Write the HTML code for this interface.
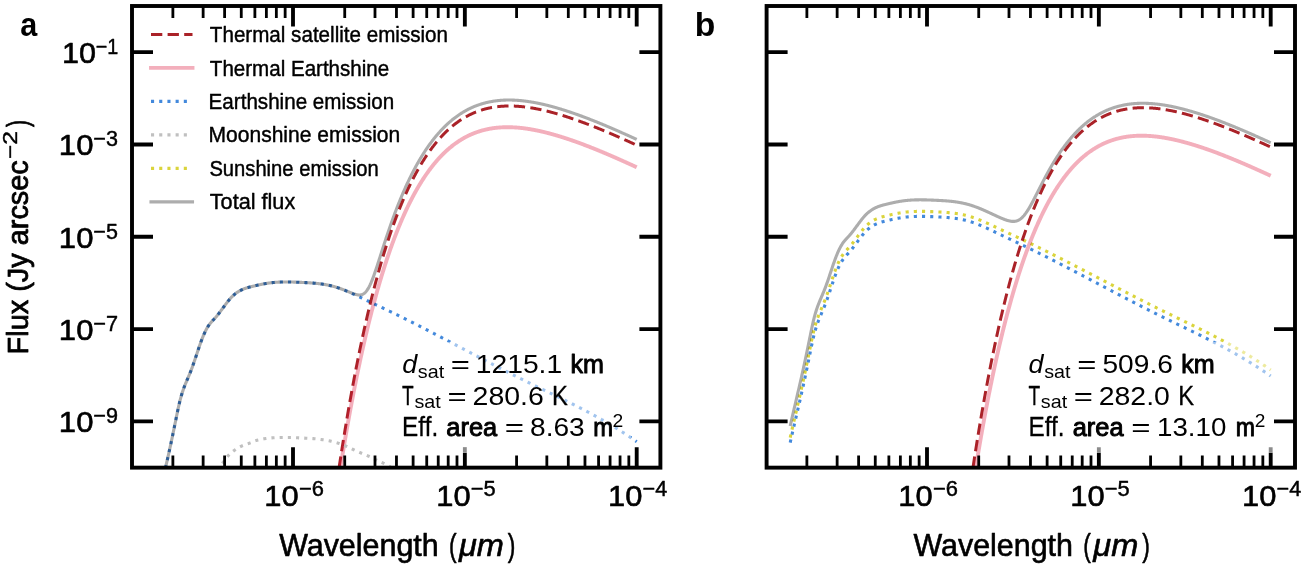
<!DOCTYPE html>
<html><head><meta charset="utf-8"><style>html,body{margin:0;padding:0;background:#fff;overflow:hidden}svg{display:block}</style></head><body>
<svg width="1304" height="564" viewBox="0 0 1304 564">
<rect width="100%" height="100%" fill="#fff"/>
<clipPath id="clipa"><rect x="132.00" y="6.00" width="528.40" height="461.65"/></clipPath>
<g clip-path="url(#clipa)" stroke-linecap="butt">
<path d="M156.21,508.15 L156.55,506.61 L156.89,505.09 L157.24,503.57 L157.58,502.05 L157.92,500.54 L158.27,499.04 L158.61,497.54 L158.96,496.05 L159.30,494.55 L159.64,493.07 L159.99,491.58 L160.33,490.10 L160.67,488.62 L161.02,487.15 L161.36,485.67 L161.70,484.19 L162.05,482.72 L162.39,481.25 L162.73,479.77 L163.08,478.30 L163.42,476.82 L163.76,475.34 L164.11,473.86 L164.45,472.38 L164.79,470.90 L165.14,469.41 L165.48,467.92 L165.82,466.42 L166.17,464.92 L166.51,463.42 L166.85,461.91 L167.20,460.39 L167.54,458.87 L167.88,457.34 L168.23,455.80 L168.57,454.26 L168.92,452.71 L169.26,451.15 L169.60,449.59 L169.95,448.01 L170.29,446.43 L170.63,444.83 L170.98,443.23 L171.32,441.61 L171.66,439.99 L172.01,438.36 L172.35,436.72 L172.69,435.07 L173.04,433.42 L173.38,431.76 L173.72,430.10 L174.07,428.43 L174.41,426.76 L174.75,425.08 L175.10,423.40 L175.44,421.72 L175.78,420.03 L176.13,418.35 L176.47,416.66 L176.81,414.98 L177.16,413.32 L177.50,411.66 L177.85,410.03 L178.19,408.42 L178.53,406.85 L178.88,405.31 L179.22,403.81 L179.56,402.36 L179.91,400.96 L180.25,399.61 L180.59,398.31 L180.94,397.06 L181.28,395.85 L181.62,394.69 L181.97,393.57 L182.31,392.49 L182.65,391.44 L183.00,390.43 L183.34,389.44 L183.68,388.49 L184.03,387.56 L184.37,386.65 L184.71,385.76 L185.06,384.89 L185.40,384.04 L185.74,383.19 L186.09,382.36 L186.43,381.54 L186.77,380.72 L187.12,379.91 L187.46,379.11 L187.81,378.30 L188.15,377.50 L188.49,376.69 L188.84,375.88 L189.18,375.07 L189.52,374.24 L189.87,373.41 L190.21,372.57 L190.55,371.72 L190.90,370.85 L191.24,369.96 L191.58,369.06 L191.93,368.15 L192.27,367.21 L192.61,366.26 L192.96,365.30 L193.30,364.33 L193.64,363.34 L193.99,362.34 L194.33,361.34 L194.67,360.33 L195.02,359.31 L195.36,358.29 L195.70,357.26 L196.05,356.23 L196.39,355.19 L196.74,354.16 L197.08,353.13 L197.42,352.09 L197.77,351.06 L198.11,350.04 L198.45,349.02 L198.80,348.01 L199.14,347.00 L199.48,346.00 L199.83,345.01 L200.17,344.04 L200.51,343.07 L200.86,342.12 L201.20,341.18 L201.54,340.26 L201.89,339.36 L202.23,338.47 L202.57,337.60 L202.92,336.76 L203.26,335.93 L203.60,335.12 L203.95,334.33 L204.29,333.56 L204.63,332.81 L204.98,332.08 L205.32,331.37 L205.66,330.68 L206.01,330.01 L206.35,329.36 L206.70,328.73 L207.04,328.12 L207.38,327.53 L207.73,326.97 L208.07,326.42 L208.41,325.89 L208.76,325.38 L209.10,324.89 L209.44,324.42 L209.79,323.96 L210.13,323.53 L210.47,323.10 L210.82,322.69 L211.16,322.28 L211.50,321.89 L211.85,321.51 L212.19,321.13 L212.53,320.76 L212.88,320.39 L213.22,320.02 L213.56,319.66 L213.91,319.30 L214.25,318.92 L214.59,318.55 L214.94,318.18 L215.28,317.80 L215.62,317.42 L215.97,317.03 L216.31,316.63 L216.66,316.22 L217.00,315.81 L217.34,315.39 L217.69,314.96 L218.03,314.53 L218.37,314.09 L218.72,313.65 L219.06,313.21 L219.40,312.76 L219.75,312.31 L220.09,311.85 L220.43,311.39 L220.78,310.93 L221.12,310.46 L221.46,310.00 L221.81,309.53 L222.15,309.06 L222.49,308.59 L222.84,308.12 L223.18,307.65 L223.52,307.18 L223.87,306.72 L224.21,306.25 L224.55,305.78 L224.90,305.32 L225.24,304.85 L225.59,304.39 L225.93,303.94 L226.27,303.48 L226.62,303.03 L226.96,302.59 L227.30,302.14 L227.65,301.71 L227.99,301.28 L228.33,300.85 L228.68,300.43 L229.02,300.01 L229.36,299.60 L229.71,299.20 L230.05,298.81 L230.39,298.42 L230.74,298.04 L231.08,297.67 L231.42,297.31 L231.77,296.95 L232.11,296.61 L232.45,296.27 L232.80,295.94 L233.14,295.62 L233.48,295.31 L233.83,295.00 L234.17,294.71 L234.51,294.42 L234.86,294.13 L235.20,293.86 L235.55,293.59 L235.89,293.33 L236.23,293.07 L236.58,292.82 L236.92,292.58 L237.26,292.35 L237.61,292.12 L237.95,291.90 L238.29,291.68 L238.64,291.47 L238.98,291.27 L239.32,291.07 L239.67,290.87 L240.01,290.69 L240.35,290.50 L240.70,290.32 L241.04,290.15 L241.38,289.98 L241.73,289.82 L242.07,289.66 L242.41,289.51 L242.76,289.36 L243.10,289.21 L243.44,289.07 L243.79,288.93 L244.13,288.80 L244.48,288.67 L244.82,288.54 L245.16,288.42 L245.51,288.30 L245.85,288.18 L246.19,288.07 L246.54,287.96 L246.88,287.85 L247.22,287.74 L247.57,287.64 L247.91,287.54 L248.25,287.44 L248.60,287.34 L248.94,287.25 L249.28,287.16 L249.63,287.07 L249.97,286.98 L250.31,286.89 L250.66,286.80 L251.00,286.72 L251.34,286.63 L251.69,286.55 L252.03,286.47 L252.37,286.38 L252.72,286.30 L253.06,286.22 L253.40,286.14 L253.75,286.06 L254.09,285.98 L254.44,285.90 L254.78,285.82 L255.12,285.74 L255.47,285.66 L255.81,285.58 L256.15,285.50 L256.50,285.42 L256.84,285.34 L257.18,285.26 L257.53,285.19 L257.87,285.11 L258.21,285.03 L258.56,284.96 L258.90,284.88 L259.24,284.81 L259.59,284.73 L259.93,284.66 L260.27,284.59 L260.62,284.51 L260.96,284.44 L261.30,284.37 L261.65,284.30 L261.99,284.23 L262.33,284.16 L262.68,284.09 L263.02,284.03 L263.37,283.96 L263.71,283.90 L264.05,283.83 L264.40,283.77 L264.74,283.71 L265.08,283.65 L265.43,283.59 L265.77,283.53 L266.11,283.47 L266.46,283.41 L266.80,283.35 L267.14,283.30 L267.49,283.25 L267.83,283.19 L268.17,283.14 L268.52,283.09 L268.86,283.04 L269.20,283.00 L269.55,282.95 L269.89,282.91 L270.23,282.86 L270.58,282.82 L270.92,282.78 L271.26,282.74 L271.61,282.70 L271.95,282.66 L272.29,282.63 L272.64,282.59 L272.98,282.56 L273.33,282.52 L273.67,282.49 L274.01,282.46 L274.36,282.43 L274.70,282.40 L275.04,282.37 L275.39,282.35 L275.73,282.32 L276.07,282.30 L276.42,282.27 L276.76,282.25 L277.10,282.23 L277.45,282.21 L277.79,282.19 L278.13,282.17 L278.48,282.15 L278.82,282.13 L279.16,282.12 L279.51,282.10 L279.85,282.09 L280.19,282.07 L280.54,282.06 L280.88,282.05 L281.22,282.04 L281.57,282.03 L281.91,282.02 L282.26,282.01 L282.60,282.00 L282.94,281.99 L283.29,281.99 L283.63,281.98 L283.97,281.98 L284.32,281.97 L284.66,281.97 L285.00,281.97 L285.35,281.96 L285.69,281.96 L286.03,281.96 L286.38,281.96 L286.72,281.96 L287.06,281.96 L287.41,281.97 L287.75,281.97 L288.09,281.97 L288.44,281.97 L288.78,281.98 L289.12,281.98 L289.47,281.99 L289.81,281.99 L290.15,282.00 L290.50,282.01 L290.84,282.01 L291.18,282.02 L291.53,282.03 L291.87,282.04 L292.22,282.05 L292.56,282.06 L292.90,282.06 L293.25,282.07 L293.59,282.09 L293.93,282.10 L294.28,282.11 L294.62,282.12 L294.96,282.13 L295.31,282.14 L295.65,282.16 L295.99,282.17 L296.34,282.18 L296.68,282.20 L297.02,282.21 L297.37,282.22 L297.71,282.24 L298.05,282.25 L298.40,282.27 L298.74,282.28 L299.08,282.30 L299.43,282.31 L299.77,282.33 L300.11,282.34 L300.46,282.36 L300.80,282.37 L301.15,282.39 L301.49,282.40 L301.83,282.42 L302.18,282.44 L302.52,282.45 L302.86,282.47 L303.21,282.49 L303.55,282.50 L303.89,282.52 L304.24,282.54 L304.58,282.55 L304.92,282.57 L305.27,282.59 L305.61,282.61 L305.95,282.62 L306.30,282.64 L306.64,282.66 L306.98,282.68 L307.33,282.70 L307.67,282.72 L308.01,282.74 L308.36,282.76 L308.70,282.78 L309.04,282.80 L309.39,282.82 L309.73,282.85 L310.07,282.87 L310.42,282.89 L310.76,282.92 L311.11,282.94 L311.45,282.96 L311.79,282.99 L312.14,283.01 L312.48,283.04 L312.82,283.07 L313.17,283.10 L313.51,283.12 L313.85,283.15 L314.20,283.18 L314.54,283.21 L314.88,283.24 L315.23,283.27 L315.57,283.31 L315.91,283.34 L316.26,283.37 L316.60,283.41 L316.94,283.44 L317.29,283.48 L317.63,283.52 L317.97,283.55 L318.32,283.59 L318.66,283.63 L319.00,283.67 L319.35,283.71 L319.69,283.76 L320.04,283.80 L320.38,283.84 L320.72,283.89 L321.07,283.94 L321.41,283.98 L321.75,284.03 L322.10,284.08 L322.44,284.13 L322.78,284.18 L323.13,284.23 L323.47,284.29 L323.81,284.34 L324.16,284.40 L324.50,284.45 L324.84,284.51 L325.19,284.57 L325.53,284.63 L325.87,284.69 L326.22,284.76 L326.56,284.82 L326.90,284.89 L327.25,284.95 L327.59,285.02 L327.93,285.09 L328.28,285.16 L328.62,285.23 L328.96,285.31 L329.31,285.38 L329.65,285.46 L330.00,285.54 L330.34,285.61 L330.68,285.70 L331.03,285.78 L331.37,285.86 L331.71,285.95 L332.06,286.03 L332.40,286.12 L332.74,286.21 L333.09,286.30 L333.43,286.39 L333.77,286.49 L334.12,286.58 L334.46,286.68 L334.80,286.78 L335.15,286.88 L335.49,286.98 L335.83,287.09 L336.18,287.19 L336.52,287.30 L336.86,287.41 L337.21,287.52 L337.55,287.63 L337.89,287.74 L338.24,287.86 L338.58,287.97 L338.93,288.09 L339.27,288.21 L339.61,288.33 L339.96,288.45 L340.30,288.57 L340.64,288.69 L340.99,288.82 L341.33,288.94 L341.67,289.07 L342.02,289.20 L342.36,289.33 L342.70,289.46 L343.05,289.59 L343.39,289.72 L343.73,289.85 L344.08,289.98 L344.42,290.12 L344.76,290.25 L345.11,290.39 L345.45,290.53 L345.79,290.66 L346.14,290.80 L346.48,290.94 L346.82,291.08 L347.17,291.22 L347.51,291.36 L347.85,291.50 L348.20,291.64 L348.54,291.78 L348.89,291.91 L349.23,292.05 L349.57,292.19 L349.92,292.33 L350.26,292.47 L350.60,292.60 L350.95,292.74 L351.29,292.87 L351.63,293.01 L351.98,293.14 L352.32,293.27 L352.66,293.40 L353.01,293.52 L353.35,293.65 L353.69,293.77 L354.04,293.88 L354.38,294.00 L354.72,294.11 L355.07,294.21 L355.41,294.31 L355.75,294.41 L356.10,294.50 L356.44,294.59 L356.78,294.66 L357.13,294.73 L357.47,294.80 L357.82,294.85 L358.16,294.90 L358.50,294.93 L358.85,294.96 L359.19,294.97 L359.53,294.97 L359.88,294.96 L360.22,294.94 L360.56,294.90 L360.91,294.85 L361.25,294.77 L361.59,294.69 L361.94,294.58 L362.28,294.45 L362.62,294.31 L362.97,294.14 L363.31,293.95 L363.65,293.74 L364.00,293.51 L364.34,293.25 L364.68,292.96 L365.03,292.65 L365.37,292.31 L365.71,291.95 L366.06,291.55 L366.40,291.13 L366.74,290.68 L367.09,290.21 L367.43,289.70 L367.78,289.17 L368.12,288.60 L368.46,288.01 L368.81,287.39 L369.15,286.75 L369.49,286.08 L369.84,285.38 L370.18,284.65 L370.52,283.90 L370.87,283.13 L371.21,282.33 L371.55,281.51 L371.90,280.67 L372.24,279.81 L372.58,278.93 L372.93,278.03 L373.27,277.11 L373.61,276.18 L373.96,275.23 L374.30,274.27 L374.64,273.30 L374.99,272.31 L375.33,271.31 L375.67,270.30 L376.02,269.28 L376.36,268.26 L376.71,267.22 L377.05,266.18 L377.39,265.14 L377.74,264.08 L378.08,263.03 L378.42,261.97 L378.77,260.90 L379.11,259.84 L379.45,258.77 L379.80,257.70 L380.14,256.63 L380.48,255.55 L380.83,254.48 L381.17,253.41 L381.51,252.34 L381.86,251.27 L382.20,250.20 L382.54,249.13 L382.89,248.06 L383.23,247.00 L383.57,245.94 L383.92,244.88 L384.26,243.82 L384.60,242.77 L384.95,241.72 L385.29,240.68 L385.63,239.63 L385.98,238.59 L386.32,237.56 L386.67,236.53 L387.01,235.50 L387.35,234.48 L387.70,233.46 L388.04,232.45 L388.38,231.44 L388.73,230.43 L389.07,229.43 L389.41,228.44 L389.76,227.45 L390.10,226.46 L390.44,225.48 L390.79,224.50 L391.13,223.53 L391.47,222.56 L391.82,221.60 L392.16,220.65 L392.50,219.69 L392.85,218.75 L393.19,217.81 L393.53,216.87 L393.88,215.94 L394.22,215.01 L394.56,214.09 L394.91,213.17 L395.25,212.26 L395.60,211.36 L395.94,210.46 L396.28,209.56 L396.63,208.67 L396.97,207.78 L397.31,206.90 L397.66,206.03 L398.00,205.16 L398.34,204.29 L398.69,203.43 L399.03,202.57 L399.37,201.72 L399.72,200.88 L400.06,200.04 L400.40,199.20 L400.75,198.37 L401.09,197.55 L401.43,196.72 L401.78,195.91 L402.12,195.10 L402.46,194.29 L402.81,193.49 L403.15,192.69 L403.49,191.90 L403.84,191.12 L404.18,190.33 L404.52,189.56 L404.87,188.78 L405.21,188.02 L405.56,187.25 L405.90,186.49 L406.24,185.74 L406.59,184.99 L406.93,184.25 L407.27,183.51 L407.62,182.77 L407.96,182.04 L408.30,181.32 L408.65,180.60 L408.99,179.88 L409.33,179.17 L409.68,178.46 L410.02,177.76 L410.36,177.06 L410.71,176.36 L411.05,175.67 L411.39,174.99 L411.74,174.31 L412.08,173.63 L412.42,172.96 L412.77,172.29 L413.11,171.62 L413.45,170.96 L413.80,170.31 L414.14,169.66 L414.49,169.01 L414.83,168.37 L415.17,167.73 L415.52,167.10 L415.86,166.47 L416.20,165.84 L416.55,165.22 L416.89,164.60 L417.23,163.99 L417.58,163.38 L417.92,162.77 L418.26,162.17 L418.61,161.57 L418.95,160.98 L419.29,160.39 L419.64,159.81 L419.98,159.22 L420.32,158.65 L420.67,158.07 L421.01,157.50 L421.35,156.94 L421.70,156.38 L422.04,155.82 L422.38,155.26 L422.73,154.71 L423.07,154.17 L423.41,153.62 L423.76,153.08 L424.10,152.55 L424.45,152.02 L424.79,151.49 L425.13,150.96 L425.48,150.44 L425.82,149.93 L426.16,149.41 L426.51,148.90 L426.85,148.40 L427.19,147.89 L427.54,147.39 L427.88,146.90 L428.22,146.41 L428.57,145.92 L428.91,145.43 L429.25,144.95 L429.60,144.47 L429.94,144.00 L430.28,143.53 L430.63,143.06 L430.97,142.59 L431.31,142.13 L431.66,141.68 L432.00,141.22 L432.34,140.77 L432.69,140.32 L433.03,139.88 L433.38,139.44 L433.72,139.00 L434.06,138.57 L434.41,138.13 L434.75,137.71 L435.09,137.28 L435.44,136.86 L435.78,136.44 L436.12,136.03 L436.47,135.61 L436.81,135.21 L437.15,134.80 L437.50,134.40 L437.84,134.00 L438.18,133.60 L438.53,133.21 L438.87,132.82 L439.21,132.43 L439.56,132.05 L439.90,131.66 L440.24,131.29 L440.59,130.91 L440.93,130.54 L441.27,130.17 L441.62,129.80 L441.96,129.44 L442.30,129.08 L442.65,128.72 L442.99,128.37 L443.34,128.01 L443.68,127.67 L444.02,127.32 L444.37,126.98 L444.71,126.64 L445.05,126.30 L445.40,125.96 L445.74,125.63 L446.08,125.30 L446.43,124.97 L446.77,124.65 L447.11,124.33 L447.46,124.01 L447.80,123.70 L448.14,123.38 L448.49,123.07 L448.83,122.76 L449.17,122.46 L449.52,122.16 L449.86,121.86 L450.20,121.56 L450.55,121.27 L450.89,120.97 L451.23,120.68 L451.58,120.40 L451.92,120.11 L452.27,119.83 L452.61,119.55 L452.95,119.28 L453.30,119.00 L453.64,118.73 L453.98,118.46 L454.33,118.19 L454.67,117.93 L455.01,117.67 L455.36,117.41 L455.70,117.15 L456.04,116.90 L456.39,116.64 L456.73,116.39 L457.07,116.15 L457.42,115.90 L457.76,115.66 L458.10,115.42 L458.45,115.18 L458.79,114.94 L459.13,114.71 L459.48,114.48 L459.82,114.25 L460.16,114.02 L460.51,113.80 L460.85,113.58 L461.19,113.36 L461.54,113.14 L461.88,112.92 L462.23,112.71 L462.57,112.50 L462.91,112.29 L463.26,112.08 L463.60,111.88 L463.94,111.68 L464.29,111.47 L464.63,111.28 L464.97,111.08 L465.32,110.89 L465.66,110.69 L466.00,110.50 L466.35,110.32 L466.69,110.13 L467.03,109.95 L467.38,109.77 L467.72,109.59 L468.06,109.41 L468.41,109.23 L468.75,109.06 L469.09,108.89 L469.44,108.72 L469.78,108.55 L470.12,108.38 L470.47,108.22 L470.81,108.06 L471.16,107.90 L471.50,107.74 L471.84,107.58 L472.19,107.43 L472.53,107.28 L472.87,107.13 L473.22,106.98 L473.56,106.83 L473.90,106.69 L474.25,106.54 L474.59,106.40 L474.93,106.26 L475.28,106.13 L475.62,105.99 L475.96,105.86 L476.31,105.72 L476.65,105.59 L476.99,105.46 L477.34,105.34 L477.68,105.21 L478.02,105.09 L478.37,104.97 L478.71,104.85 L479.05,104.73 L479.40,104.61 L479.74,104.50 L480.08,104.38 L480.43,104.27 L480.77,104.16 L481.12,104.05 L481.46,103.95 L481.80,103.84 L482.15,103.74 L482.49,103.64 L482.83,103.54 L483.18,103.44 L483.52,103.34 L483.86,103.25 L484.21,103.15 L484.55,103.06 L484.89,102.97 L485.24,102.88 L485.58,102.79 L485.92,102.71 L486.27,102.62 L486.61,102.54 L486.95,102.46 L487.30,102.38 L487.64,102.30 L487.98,102.22 L488.33,102.15 L488.67,102.07 L489.01,102.00 L489.36,101.93 L489.70,101.86 L490.05,101.79 L490.39,101.72 L490.73,101.66 L491.08,101.60 L491.42,101.53 L491.76,101.47 L492.11,101.41 L492.45,101.35 L492.79,101.30 L493.14,101.24 L493.48,101.19 L493.82,101.13 L494.17,101.08 L494.51,101.03 L494.85,100.98 L495.20,100.93 L495.54,100.89 L495.88,100.84 L496.23,100.80 L496.57,100.76 L496.91,100.72 L497.26,100.68 L497.60,100.64 L497.94,100.60 L498.29,100.56 L498.63,100.53 L498.97,100.49 L499.32,100.46 L499.66,100.43 L500.01,100.40 L500.35,100.37 L500.69,100.35 L501.04,100.32 L501.38,100.29 L501.72,100.27 L502.07,100.25 L502.41,100.23 L502.75,100.20 L503.10,100.19 L503.44,100.17 L503.78,100.15 L504.13,100.13 L504.47,100.12 L504.81,100.11 L505.16,100.09 L505.50,100.08 L505.84,100.07 L506.19,100.06 L506.53,100.06 L506.87,100.05 L507.22,100.04 L507.56,100.04 L507.90,100.03 L508.25,100.03 L508.59,100.03 L508.93,100.03 L509.28,100.03 L509.62,100.03 L509.97,100.03 L510.31,100.04 L510.65,100.04 L511.00,100.05 L511.34,100.05 L511.68,100.06 L512.03,100.07 L512.37,100.08 L512.71,100.09 L513.06,100.10 L513.40,100.12 L513.74,100.13 L514.09,100.14 L514.43,100.16 L514.77,100.18 L515.12,100.19 L515.46,100.21 L515.80,100.23 L516.15,100.25 L516.49,100.27 L516.83,100.29 L517.18,100.32 L517.52,100.34 L517.86,100.37 L518.21,100.39 L518.55,100.42 L518.90,100.44 L519.24,100.47 L519.58,100.50 L519.93,100.53 L520.27,100.56 L520.61,100.60 L520.96,100.63 L521.30,100.66 L521.64,100.70 L521.99,100.73 L522.33,100.77 L522.67,100.80 L523.02,100.84 L523.36,100.88 L523.70,100.92 L524.05,100.96 L524.39,101.00 L524.73,101.04 L525.08,101.09 L525.42,101.13 L525.76,101.17 L526.11,101.22 L526.45,101.26 L526.79,101.31 L527.14,101.36 L527.48,101.41 L527.82,101.45 L528.17,101.50 L528.51,101.55 L528.86,101.61 L529.20,101.66 L529.54,101.71 L529.89,101.76 L530.23,101.82 L530.57,101.87 L530.92,101.93 L531.26,101.98 L531.60,102.04 L531.95,102.10 L532.29,102.16 L532.63,102.22 L532.98,102.27 L533.32,102.34 L533.66,102.40 L534.01,102.46 L534.35,102.52 L534.69,102.58 L535.04,102.65 L535.38,102.71 L535.72,102.78 L536.07,102.84 L536.41,102.91 L536.75,102.98 L537.10,103.04 L537.44,103.11 L537.79,103.18 L538.13,103.25 L538.47,103.32 L538.82,103.39 L539.16,103.46 L539.50,103.54 L539.85,103.61 L540.19,103.68 L540.53,103.76 L540.88,103.83 L541.22,103.91 L541.56,103.98 L541.91,104.06 L542.25,104.14 L542.59,104.21 L542.94,104.29 L543.28,104.37 L543.62,104.45 L543.97,104.53 L544.31,104.61 L544.65,104.69 L545.00,104.77 L545.34,104.86 L545.68,104.94 L546.03,105.02 L546.37,105.11 L546.71,105.19 L547.06,105.28 L547.40,105.36 L547.75,105.45 L548.09,105.54 L548.43,105.62 L548.78,105.71 L549.12,105.80 L549.46,105.89 L549.81,105.98 L550.15,106.07 L550.49,106.16 L550.84,106.25 L551.18,106.34 L551.52,106.43 L551.87,106.52 L552.21,106.62 L552.55,106.71 L552.90,106.80 L553.24,106.90 L553.58,106.99 L553.93,107.09 L554.27,107.18 L554.61,107.28 L554.96,107.38 L555.30,107.47 L555.64,107.57 L555.99,107.67 L556.33,107.77 L556.68,107.87 L557.02,107.97 L557.36,108.07 L557.71,108.17 L558.05,108.27 L558.39,108.37 L558.74,108.47 L559.08,108.58 L559.42,108.68 L559.77,108.78 L560.11,108.88 L560.45,108.99 L560.80,109.09 L561.14,109.20 L561.48,109.30 L561.83,109.41 L562.17,109.52 L562.51,109.62 L562.86,109.73 L563.20,109.84 L563.54,109.94 L563.89,110.05 L564.23,110.16 L564.57,110.27 L564.92,110.38 L565.26,110.49 L565.60,110.60 L565.95,110.71 L566.29,110.82 L566.64,110.93 L566.98,111.05 L567.32,111.16 L567.67,111.27 L568.01,111.38 L568.35,111.50 L568.70,111.61 L569.04,111.73 L569.38,111.84 L569.73,111.96 L570.07,112.07 L570.41,112.19 L570.76,112.30 L571.10,112.42 L571.44,112.54 L571.79,112.65 L572.13,112.77 L572.47,112.89 L572.82,113.01 L573.16,113.12 L573.50,113.24 L573.85,113.36 L574.19,113.48 L574.53,113.60 L574.88,113.72 L575.22,113.84 L575.57,113.96 L575.91,114.09 L576.25,114.21 L576.60,114.33 L576.94,114.45 L577.28,114.57 L577.63,114.70 L577.97,114.82 L578.31,114.94 L578.66,115.07 L579.00,115.19 L579.34,115.32 L579.69,115.44 L580.03,115.57 L580.37,115.69 L580.72,115.82 L581.06,115.94 L581.40,116.07 L581.75,116.20 L582.09,116.32 L582.43,116.45 L582.78,116.58 L583.12,116.71 L583.46,116.84 L583.81,116.96 L584.15,117.09 L584.49,117.22 L584.84,117.35 L585.18,117.48 L585.53,117.61 L585.87,117.74 L586.21,117.87 L586.56,118.00 L586.90,118.13 L587.24,118.26 L587.59,118.40 L587.93,118.53 L588.27,118.66 L588.62,118.79 L588.96,118.93 L589.30,119.06 L589.65,119.19 L589.99,119.33 L590.33,119.46 L590.68,119.59 L591.02,119.73 L591.36,119.86 L591.71,120.00 L592.05,120.13 L592.39,120.27 L592.74,120.40 L593.08,120.54 L593.42,120.67 L593.77,120.81 L594.11,120.95 L594.46,121.08 L594.80,121.22 L595.14,121.36 L595.49,121.50 L595.83,121.63 L596.17,121.77 L596.52,121.91 L596.86,122.05 L597.20,122.19 L597.55,122.33 L597.89,122.47 L598.23,122.61 L598.58,122.75 L598.92,122.89 L599.26,123.03 L599.61,123.17 L599.95,123.31 L600.29,123.45 L600.64,123.59 L600.98,123.73 L601.32,123.87 L601.67,124.01 L602.01,124.16 L602.35,124.30 L602.70,124.44 L603.04,124.58 L603.38,124.73 L603.73,124.87 L604.07,125.01 L604.42,125.16 L604.76,125.30 L605.10,125.44 L605.45,125.59 L605.79,125.73 L606.13,125.88 L606.48,126.02 L606.82,126.17 L607.16,126.31 L607.51,126.46 L607.85,126.60 L608.19,126.75 L608.54,126.89 L608.88,127.04 L609.22,127.19 L609.57,127.33 L609.91,127.48 L610.25,127.63 L610.60,127.77 L610.94,127.92 L611.28,128.07 L611.63,128.21 L611.97,128.36 L612.31,128.51 L612.66,128.66 L613.00,128.81 L613.35,128.96 L613.69,129.10 L614.03,129.25 L614.38,129.40 L614.72,129.55 L615.06,129.70 L615.41,129.85 L615.75,130.00 L616.09,130.15 L616.44,130.30 L616.78,130.45 L617.12,130.60 L617.47,130.75 L617.81,130.90 L618.15,131.05 L618.50,131.20 L618.84,131.36 L619.18,131.51 L619.53,131.66 L619.87,131.81 L620.21,131.96 L620.56,132.12 L620.90,132.27 L621.24,132.42 L621.59,132.57 L621.93,132.73 L622.27,132.88 L622.62,133.03 L622.96,133.19 L623.31,133.34 L623.65,133.49 L623.99,133.65 L624.34,133.80 L624.68,133.95 L625.02,134.11 L625.37,134.26 L625.71,134.42 L626.05,134.57 L626.40,134.73 L626.74,134.88 L627.08,135.04 L627.43,135.19 L627.77,135.35 L628.11,135.50 L628.46,135.66 L628.80,135.81 L629.14,135.97 L629.49,136.13 L629.83,136.28 L630.17,136.44 L630.52,136.60 L630.86,136.75 L631.20,136.91 L631.55,137.07 L631.89,137.22 L632.24,137.38 L632.58,137.54 L632.92,137.69 L633.27,137.85 L633.61,138.01 L633.95,138.17 L634.30,138.33 L634.64,138.48 L634.98,138.64 L635.33,138.80 L635.67,138.96 L636.01,139.12 L636.36,139.28 L636.70,139.44" stroke="#ADADAD" stroke-width="3.1" fill="none" stroke-linejoin="round"/>
<path d="M156.21,600.00 L156.55,600.00 L156.89,600.00 L157.24,600.00 L157.58,600.00 L157.92,600.00 L158.27,600.00 L158.61,600.00 L158.96,600.00 L159.30,600.00 L159.64,600.00 L159.99,600.00 L160.33,600.00 L160.67,600.00 L161.02,600.00 L161.36,600.00 L161.70,600.00 L162.05,600.00 L162.39,600.00 L162.73,600.00 L163.08,600.00 L163.42,600.00 L163.76,600.00 L164.11,600.00 L164.45,600.00 L164.79,600.00 L165.14,600.00 L165.48,600.00 L165.82,600.00 L166.17,600.00 L166.51,600.00 L166.85,600.00 L167.20,600.00 L167.54,600.00 L167.88,600.00 L168.23,600.00 L168.57,600.00 L168.92,600.00 L169.26,600.00 L169.60,600.00 L169.95,600.00 L170.29,600.00 L170.63,600.00 L170.98,600.00 L171.32,600.00 L171.66,600.00 L172.01,600.00 L172.35,600.00 L172.69,600.00 L173.04,600.00 L173.38,600.00 L173.72,600.00 L174.07,600.00 L174.41,600.00 L174.75,600.00 L175.10,600.00 L175.44,600.00 L175.78,600.00 L176.13,600.00 L176.47,600.00 L176.81,600.00 L177.16,600.00 L177.50,600.00 L177.85,600.00 L178.19,600.00 L178.53,600.00 L178.88,600.00 L179.22,600.00 L179.56,600.00 L179.91,600.00 L180.25,600.00 L180.59,600.00 L180.94,600.00 L181.28,600.00 L181.62,600.00 L181.97,600.00 L182.31,600.00 L182.65,600.00 L183.00,600.00 L183.34,600.00 L183.68,600.00 L184.03,600.00 L184.37,600.00 L184.71,600.00 L185.06,600.00 L185.40,600.00 L185.74,600.00 L186.09,600.00 L186.43,600.00 L186.77,600.00 L187.12,600.00 L187.46,600.00 L187.81,600.00 L188.15,600.00 L188.49,600.00 L188.84,600.00 L189.18,600.00 L189.52,600.00 L189.87,600.00 L190.21,600.00 L190.55,600.00 L190.90,600.00 L191.24,600.00 L191.58,600.00 L191.93,600.00 L192.27,600.00 L192.61,600.00 L192.96,600.00 L193.30,600.00 L193.64,600.00 L193.99,600.00 L194.33,600.00 L194.67,600.00 L195.02,600.00 L195.36,600.00 L195.70,600.00 L196.05,600.00 L196.39,600.00 L196.74,600.00 L197.08,600.00 L197.42,600.00 L197.77,600.00 L198.11,600.00 L198.45,600.00 L198.80,600.00 L199.14,600.00 L199.48,600.00 L199.83,600.00 L200.17,600.00 L200.51,600.00 L200.86,600.00 L201.20,600.00 L201.54,600.00 L201.89,600.00 L202.23,600.00 L202.57,600.00 L202.92,600.00 L203.26,600.00 L203.60,600.00 L203.95,600.00 L204.29,600.00 L204.63,600.00 L204.98,600.00 L205.32,600.00 L205.66,600.00 L206.01,600.00 L206.35,600.00 L206.70,600.00 L207.04,600.00 L207.38,600.00 L207.73,600.00 L208.07,600.00 L208.41,600.00 L208.76,600.00 L209.10,600.00 L209.44,600.00 L209.79,600.00 L210.13,600.00 L210.47,600.00 L210.82,600.00 L211.16,600.00 L211.50,600.00 L211.85,600.00 L212.19,600.00 L212.53,600.00 L212.88,600.00 L213.22,600.00 L213.56,600.00 L213.91,600.00 L214.25,600.00 L214.59,600.00 L214.94,600.00 L215.28,600.00 L215.62,600.00 L215.97,600.00 L216.31,600.00 L216.66,600.00 L217.00,600.00 L217.34,600.00 L217.69,600.00 L218.03,600.00 L218.37,600.00 L218.72,600.00 L219.06,600.00 L219.40,600.00 L219.75,600.00 L220.09,600.00 L220.43,600.00 L220.78,600.00 L221.12,600.00 L221.46,600.00 L221.81,600.00 L222.15,600.00 L222.49,600.00 L222.84,600.00 L223.18,600.00 L223.52,600.00 L223.87,600.00 L224.21,600.00 L224.55,600.00 L224.90,600.00 L225.24,600.00 L225.59,600.00 L225.93,600.00 L226.27,600.00 L226.62,600.00 L226.96,600.00 L227.30,600.00 L227.65,600.00 L227.99,600.00 L228.33,600.00 L228.68,600.00 L229.02,600.00 L229.36,600.00 L229.71,600.00 L230.05,600.00 L230.39,600.00 L230.74,600.00 L231.08,600.00 L231.42,600.00 L231.77,600.00 L232.11,600.00 L232.45,600.00 L232.80,600.00 L233.14,600.00 L233.48,600.00 L233.83,600.00 L234.17,600.00 L234.51,600.00 L234.86,600.00 L235.20,600.00 L235.55,600.00 L235.89,600.00 L236.23,600.00 L236.58,600.00 L236.92,600.00 L237.26,600.00 L237.61,600.00 L237.95,600.00 L238.29,600.00 L238.64,600.00 L238.98,600.00 L239.32,600.00 L239.67,600.00 L240.01,600.00 L240.35,600.00 L240.70,600.00 L241.04,600.00 L241.38,600.00 L241.73,600.00 L242.07,600.00 L242.41,600.00 L242.76,600.00 L243.10,600.00 L243.44,600.00 L243.79,600.00 L244.13,600.00 L244.48,600.00 L244.82,600.00 L245.16,600.00 L245.51,600.00 L245.85,600.00 L246.19,600.00 L246.54,600.00 L246.88,600.00 L247.22,600.00 L247.57,600.00 L247.91,600.00 L248.25,600.00 L248.60,600.00 L248.94,600.00 L249.28,600.00 L249.63,600.00 L249.97,600.00 L250.31,600.00 L250.66,600.00 L251.00,600.00 L251.34,600.00 L251.69,600.00 L252.03,600.00 L252.37,600.00 L252.72,600.00 L253.06,600.00 L253.40,600.00 L253.75,600.00 L254.09,600.00 L254.44,600.00 L254.78,600.00 L255.12,600.00 L255.47,600.00 L255.81,600.00 L256.15,600.00 L256.50,600.00 L256.84,600.00 L257.18,600.00 L257.53,600.00 L257.87,600.00 L258.21,600.00 L258.56,600.00 L258.90,600.00 L259.24,600.00 L259.59,600.00 L259.93,600.00 L260.27,600.00 L260.62,600.00 L260.96,600.00 L261.30,600.00 L261.65,600.00 L261.99,600.00 L262.33,600.00 L262.68,600.00 L263.02,600.00 L263.37,600.00 L263.71,600.00 L264.05,600.00 L264.40,600.00 L264.74,600.00 L265.08,600.00 L265.43,600.00 L265.77,600.00 L266.11,600.00 L266.46,600.00 L266.80,600.00 L267.14,600.00 L267.49,600.00 L267.83,600.00 L268.17,600.00 L268.52,600.00 L268.86,600.00 L269.20,600.00 L269.55,600.00 L269.89,600.00 L270.23,600.00 L270.58,600.00 L270.92,600.00 L271.26,600.00 L271.61,600.00 L271.95,600.00 L272.29,600.00 L272.64,600.00 L272.98,600.00 L273.33,600.00 L273.67,600.00 L274.01,600.00 L274.36,600.00 L274.70,600.00 L275.04,600.00 L275.39,600.00 L275.73,600.00 L276.07,600.00 L276.42,600.00 L276.76,600.00 L277.10,600.00 L277.45,600.00 L277.79,600.00 L278.13,600.00 L278.48,600.00 L278.82,600.00 L279.16,600.00 L279.51,600.00 L279.85,600.00 L280.19,600.00 L280.54,600.00 L280.88,600.00 L281.22,600.00 L281.57,600.00 L281.91,600.00 L282.26,600.00 L282.60,600.00 L282.94,600.00 L283.29,600.00 L283.63,600.00 L283.97,600.00 L284.32,600.00 L284.66,600.00 L285.00,600.00 L285.35,600.00 L285.69,600.00 L286.03,600.00 L286.38,600.00 L286.72,600.00 L287.06,600.00 L287.41,600.00 L287.75,600.00 L288.09,600.00 L288.44,600.00 L288.78,600.00 L289.12,600.00 L289.47,600.00 L289.81,600.00 L290.15,600.00 L290.50,600.00 L290.84,600.00 L291.18,600.00 L291.53,600.00 L291.87,600.00 L292.22,600.00 L292.56,600.00 L292.90,600.00 L293.25,600.00 L293.59,600.00 L293.93,600.00 L294.28,600.00 L294.62,600.00 L294.96,600.00 L295.31,600.00 L295.65,600.00 L295.99,600.00 L296.34,600.00 L296.68,600.00 L297.02,600.00 L297.37,600.00 L297.71,600.00 L298.05,600.00 L298.40,600.00 L298.74,600.00 L299.08,600.00 L299.43,600.00 L299.77,600.00 L300.11,600.00 L300.46,600.00 L300.80,600.00 L301.15,600.00 L301.49,600.00 L301.83,600.00 L302.18,600.00 L302.52,600.00 L302.86,600.00 L303.21,600.00 L303.55,600.00 L303.89,600.00 L304.24,600.00 L304.58,600.00 L304.92,600.00 L305.27,600.00 L305.61,600.00 L305.95,600.00 L306.30,600.00 L306.64,600.00 L306.98,600.00 L307.33,600.00 L307.67,600.00 L308.01,600.00 L308.36,600.00 L308.70,600.00 L309.04,600.00 L309.39,600.00 L309.73,600.00 L310.07,600.00 L310.42,600.00 L310.76,600.00 L311.11,600.00 L311.45,600.00 L311.79,600.00 L312.14,600.00 L312.48,600.00 L312.82,600.00 L313.17,600.00 L313.51,600.00 L313.85,600.00 L314.20,600.00 L314.54,600.00 L314.88,600.00 L315.23,600.00 L315.57,600.00 L315.91,600.00 L316.26,600.00 L316.60,600.00 L316.94,600.00 L317.29,600.00 L317.63,600.00 L317.97,600.00 L318.32,600.00 L318.66,600.00 L319.00,600.00 L319.35,600.00 L319.69,600.00 L320.04,600.00 L320.38,600.00 L320.72,600.00 L321.07,600.00 L321.41,600.00 L321.75,598.59 L322.10,595.66 L322.44,592.74 L322.78,589.84 L323.13,586.95 L323.47,584.08 L323.81,581.22 L324.16,578.37 L324.50,575.54 L324.84,572.72 L325.19,569.92 L325.53,567.13 L325.87,564.35 L326.22,561.59 L326.56,558.85 L326.90,556.11 L327.25,553.40 L327.59,550.69 L327.93,548.00 L328.28,545.32 L328.62,542.66 L328.96,540.01 L329.31,537.37 L329.65,534.74 L330.00,532.13 L330.34,529.54 L330.68,526.95 L331.03,524.38 L331.37,521.82 L331.71,519.28 L332.06,516.74 L332.40,514.23 L332.74,511.72 L333.09,509.23 L333.43,506.74 L333.77,504.28 L334.12,501.82 L334.46,499.38 L334.80,496.95 L335.15,494.53 L335.49,492.12 L335.83,489.73 L336.18,487.35 L336.52,484.98 L336.86,482.62 L337.21,480.28 L337.55,477.94 L337.89,475.62 L338.24,473.31 L338.58,471.02 L338.93,468.73 L339.27,466.46 L339.61,464.20 L339.96,461.95 L340.30,459.71 L340.64,457.48 L340.99,455.27 L341.33,453.06 L341.67,450.87 L342.02,448.69 L342.36,446.52 L342.70,444.36 L343.05,442.21 L343.39,440.08 L343.73,437.95 L344.08,435.84 L344.42,433.73 L344.76,431.64 L345.11,429.56 L345.45,427.49 L345.79,425.43 L346.14,423.38 L346.48,421.34 L346.82,419.31 L347.17,417.30 L347.51,415.29 L347.85,413.29 L348.20,411.31 L348.54,409.33 L348.89,407.37 L349.23,405.41 L349.57,403.47 L349.92,401.53 L350.26,399.61 L350.60,397.69 L350.95,395.79 L351.29,393.90 L351.63,392.01 L351.98,390.14 L352.32,388.27 L352.66,386.42 L353.01,384.57 L353.35,382.74 L353.69,380.91 L354.04,379.10 L354.38,377.29 L354.72,375.50 L355.07,373.71 L355.41,371.93 L355.75,370.16 L356.10,368.41 L356.44,366.66 L356.78,364.92 L357.13,363.19 L357.47,361.46 L357.82,359.75 L358.16,358.05 L358.50,356.35 L358.85,354.67 L359.19,352.99 L359.53,351.33 L359.88,349.67 L360.22,348.02 L360.56,346.38 L360.91,344.75 L361.25,343.12 L361.59,341.51 L361.94,339.90 L362.28,338.31 L362.62,336.72 L362.97,335.14 L363.31,333.57 L363.65,332.01 L364.00,330.45 L364.34,328.91 L364.68,327.37 L365.03,325.84 L365.37,324.32 L365.71,322.81 L366.06,321.30 L366.40,319.81 L366.74,318.32 L367.09,316.84 L367.43,315.37 L367.78,313.90 L368.12,312.45 L368.46,311.00 L368.81,309.56 L369.15,308.13 L369.49,306.70 L369.84,305.29 L370.18,303.88 L370.52,302.48 L370.87,301.08 L371.21,299.70 L371.55,298.32 L371.90,296.95 L372.24,295.59 L372.58,294.23 L372.93,292.88 L373.27,291.54 L373.61,290.21 L373.96,288.89 L374.30,287.57 L374.64,286.26 L374.99,284.95 L375.33,283.66 L375.67,282.37 L376.02,281.09 L376.36,279.81 L376.71,278.54 L377.05,277.28 L377.39,276.03 L377.74,274.78 L378.08,273.54 L378.42,272.31 L378.77,271.09 L379.11,269.87 L379.45,268.66 L379.80,267.45 L380.14,266.25 L380.48,265.06 L380.83,263.88 L381.17,262.70 L381.51,261.53 L381.86,260.36 L382.20,259.21 L382.54,258.05 L382.89,256.91 L383.23,255.77 L383.57,254.64 L383.92,253.51 L384.26,252.40 L384.60,251.28 L384.95,250.18 L385.29,249.08 L385.63,247.98 L385.98,246.90 L386.32,245.82 L386.67,244.74 L387.01,243.67 L387.35,242.61 L387.70,241.55 L388.04,240.50 L388.38,239.46 L388.73,238.42 L389.07,237.39 L389.41,236.37 L389.76,235.35 L390.10,234.33 L390.44,233.32 L390.79,232.32 L391.13,231.33 L391.47,230.34 L391.82,229.35 L392.16,228.37 L392.50,227.40 L392.85,226.43 L393.19,225.47 L393.53,224.51 L393.88,223.56 L394.22,222.62 L394.56,221.68 L394.91,220.75 L395.25,219.82 L395.60,218.90 L395.94,217.98 L396.28,217.07 L396.63,216.16 L396.97,215.26 L397.31,214.37 L397.66,213.48 L398.00,212.60 L398.34,211.72 L398.69,210.84 L399.03,209.97 L399.37,209.11 L399.72,208.25 L400.06,207.40 L400.40,206.55 L400.75,205.71 L401.09,204.87 L401.43,204.04 L401.78,203.22 L402.12,202.39 L402.46,201.58 L402.81,200.76 L403.15,199.96 L403.49,199.16 L403.84,198.36 L404.18,197.57 L404.52,196.78 L404.87,196.00 L405.21,195.22 L405.56,194.45 L405.90,193.68 L406.24,192.92 L406.59,192.16 L406.93,191.41 L407.27,190.66 L407.62,189.91 L407.96,189.17 L408.30,188.44 L408.65,187.71 L408.99,186.99 L409.33,186.26 L409.68,185.55 L410.02,184.84 L410.36,184.13 L410.71,183.43 L411.05,182.73 L411.39,182.04 L411.74,181.35 L412.08,180.66 L412.42,179.98 L412.77,179.31 L413.11,178.63 L413.45,177.97 L413.80,177.30 L414.14,176.65 L414.49,175.99 L414.83,175.34 L415.17,174.70 L415.52,174.06 L415.86,173.42 L416.20,172.78 L416.55,172.16 L416.89,171.53 L417.23,170.91 L417.58,170.29 L417.92,169.68 L418.26,169.07 L418.61,168.47 L418.95,167.87 L419.29,167.27 L419.64,166.68 L419.98,166.09 L420.32,165.51 L420.67,164.93 L421.01,164.35 L421.35,163.78 L421.70,163.21 L422.04,162.65 L422.38,162.09 L422.73,161.53 L423.07,160.98 L423.41,160.43 L423.76,159.88 L424.10,159.34 L424.45,158.80 L424.79,158.27 L425.13,157.74 L425.48,157.21 L425.82,156.69 L426.16,156.17 L426.51,155.65 L426.85,155.14 L427.19,154.63 L427.54,154.13 L427.88,153.63 L428.22,153.13 L428.57,152.63 L428.91,152.14 L429.25,151.66 L429.60,151.17 L429.94,150.69 L430.28,150.21 L430.63,149.74 L430.97,149.27 L431.31,148.80 L431.66,148.34 L432.00,147.88 L432.34,147.43 L432.69,146.97 L433.03,146.52 L433.38,146.08 L433.72,145.63 L434.06,145.19 L434.41,144.76 L434.75,144.32 L435.09,143.89 L435.44,143.47 L435.78,143.04 L436.12,142.62 L436.47,142.21 L436.81,141.79 L437.15,141.38 L437.50,140.98 L437.84,140.57 L438.18,140.17 L438.53,139.77 L438.87,139.38 L439.21,138.98 L439.56,138.60 L439.90,138.21 L440.24,137.83 L440.59,137.45 L440.93,137.07 L441.27,136.70 L441.62,136.32 L441.96,135.96 L442.30,135.59 L442.65,135.23 L442.99,134.87 L443.34,134.51 L443.68,134.16 L444.02,133.81 L444.37,133.46 L444.71,133.12 L445.05,132.77 L445.40,132.44 L445.74,132.10 L446.08,131.77 L446.43,131.43 L446.77,131.11 L447.11,130.78 L447.46,130.46 L447.80,130.14 L448.14,129.82 L448.49,129.51 L448.83,129.19 L449.17,128.89 L449.52,128.58 L449.86,128.28 L450.20,127.97 L450.55,127.68 L450.89,127.38 L451.23,127.09 L451.58,126.80 L451.92,126.51 L452.27,126.22 L452.61,125.94 L452.95,125.66 L453.30,125.38 L453.64,125.10 L453.98,124.83 L454.33,124.56 L454.67,124.29 L455.01,124.03 L455.36,123.76 L455.70,123.50 L456.04,123.24 L456.39,122.99 L456.73,122.74 L457.07,122.48 L457.42,122.24 L457.76,121.99 L458.10,121.74 L458.45,121.50 L458.79,121.26 L459.13,121.03 L459.48,120.79 L459.82,120.56 L460.16,120.33 L460.51,120.10 L460.85,119.88 L461.19,119.65 L461.54,119.43 L461.88,119.21 L462.23,119.00 L462.57,118.78 L462.91,118.57 L463.26,118.36 L463.60,118.15 L463.94,117.95 L464.29,117.74 L464.63,117.54 L464.97,117.34 L465.32,117.14 L465.66,116.95 L466.00,116.76 L466.35,116.56 L466.69,116.38 L467.03,116.19 L467.38,116.00 L467.72,115.82 L468.06,115.64 L468.41,115.46 L468.75,115.29 L469.09,115.11 L469.44,114.94 L469.78,114.77 L470.12,114.60 L470.47,114.43 L470.81,114.27 L471.16,114.10 L471.50,113.94 L471.84,113.78 L472.19,113.63 L472.53,113.47 L472.87,113.32 L473.22,113.17 L473.56,113.02 L473.90,112.87 L474.25,112.72 L474.59,112.58 L474.93,112.44 L475.28,112.30 L475.62,112.16 L475.96,112.02 L476.31,111.89 L476.65,111.76 L476.99,111.62 L477.34,111.49 L477.68,111.37 L478.02,111.24 L478.37,111.12 L478.71,110.99 L479.05,110.87 L479.40,110.75 L479.74,110.64 L480.08,110.52 L480.43,110.41 L480.77,110.29 L481.12,110.18 L481.46,110.07 L481.80,109.97 L482.15,109.86 L482.49,109.76 L482.83,109.65 L483.18,109.55 L483.52,109.45 L483.86,109.36 L484.21,109.26 L484.55,109.17 L484.89,109.07 L485.24,108.98 L485.58,108.89 L485.92,108.80 L486.27,108.72 L486.61,108.63 L486.95,108.55 L487.30,108.47 L487.64,108.38 L487.98,108.31 L488.33,108.23 L488.67,108.15 L489.01,108.08 L489.36,108.00 L489.70,107.93 L490.05,107.86 L490.39,107.79 L490.73,107.73 L491.08,107.66 L491.42,107.59 L491.76,107.53 L492.11,107.47 L492.45,107.41 L492.79,107.35 L493.14,107.29 L493.48,107.24 L493.82,107.18 L494.17,107.13 L494.51,107.07 L494.85,107.02 L495.20,106.97 L495.54,106.93 L495.88,106.88 L496.23,106.83 L496.57,106.79 L496.91,106.75 L497.26,106.70 L497.60,106.66 L497.94,106.62 L498.29,106.59 L498.63,106.55 L498.97,106.51 L499.32,106.48 L499.66,106.45 L500.01,106.42 L500.35,106.39 L500.69,106.36 L501.04,106.33 L501.38,106.30 L501.72,106.28 L502.07,106.25 L502.41,106.23 L502.75,106.21 L503.10,106.18 L503.44,106.16 L503.78,106.15 L504.13,106.13 L504.47,106.11 L504.81,106.10 L505.16,106.08 L505.50,106.07 L505.84,106.06 L506.19,106.05 L506.53,106.04 L506.87,106.03 L507.22,106.02 L507.56,106.02 L507.90,106.01 L508.25,106.01 L508.59,106.00 L508.93,106.00 L509.28,106.00 L509.62,106.00 L509.97,106.00 L510.31,106.00 L510.65,106.01 L511.00,106.01 L511.34,106.02 L511.68,106.02 L512.03,106.03 L512.37,106.04 L512.71,106.05 L513.06,106.06 L513.40,106.07 L513.74,106.08 L514.09,106.09 L514.43,106.11 L514.77,106.12 L515.12,106.14 L515.46,106.16 L515.80,106.17 L516.15,106.19 L516.49,106.21 L516.83,106.23 L517.18,106.25 L517.52,106.28 L517.86,106.30 L518.21,106.33 L518.55,106.35 L518.90,106.38 L519.24,106.40 L519.58,106.43 L519.93,106.46 L520.27,106.49 L520.61,106.52 L520.96,106.55 L521.30,106.58 L521.64,106.62 L521.99,106.65 L522.33,106.69 L522.67,106.72 L523.02,106.76 L523.36,106.80 L523.70,106.83 L524.05,106.87 L524.39,106.91 L524.73,106.95 L525.08,107.00 L525.42,107.04 L525.76,107.08 L526.11,107.12 L526.45,107.17 L526.79,107.21 L527.14,107.26 L527.48,107.31 L527.82,107.36 L528.17,107.40 L528.51,107.45 L528.86,107.50 L529.20,107.55 L529.54,107.61 L529.89,107.66 L530.23,107.71 L530.57,107.76 L530.92,107.82 L531.26,107.87 L531.60,107.93 L531.95,107.99 L532.29,108.04 L532.63,108.10 L532.98,108.16 L533.32,108.22 L533.66,108.28 L534.01,108.34 L534.35,108.40 L534.69,108.46 L535.04,108.53 L535.38,108.59 L535.72,108.66 L536.07,108.72 L536.41,108.79 L536.75,108.85 L537.10,108.92 L537.44,108.99 L537.79,109.05 L538.13,109.12 L538.47,109.19 L538.82,109.26 L539.16,109.33 L539.50,109.40 L539.85,109.48 L540.19,109.55 L540.53,109.62 L540.88,109.70 L541.22,109.77 L541.56,109.85 L541.91,109.92 L542.25,110.00 L542.59,110.07 L542.94,110.15 L543.28,110.23 L543.62,110.31 L543.97,110.39 L544.31,110.47 L544.65,110.55 L545.00,110.63 L545.34,110.71 L545.68,110.79 L546.03,110.87 L546.37,110.96 L546.71,111.04 L547.06,111.13 L547.40,111.21 L547.75,111.30 L548.09,111.38 L548.43,111.47 L548.78,111.56 L549.12,111.64 L549.46,111.73 L549.81,111.82 L550.15,111.91 L550.49,112.00 L550.84,112.09 L551.18,112.18 L551.52,112.27 L551.87,112.36 L552.21,112.45 L552.55,112.55 L552.90,112.64 L553.24,112.73 L553.58,112.83 L553.93,112.92 L554.27,113.02 L554.61,113.11 L554.96,113.21 L555.30,113.31 L555.64,113.40 L555.99,113.50 L556.33,113.60 L556.68,113.70 L557.02,113.80 L557.36,113.90 L557.71,114.00 L558.05,114.10 L558.39,114.20 L558.74,114.30 L559.08,114.40 L559.42,114.50 L559.77,114.60 L560.11,114.71 L560.45,114.81 L560.80,114.92 L561.14,115.02 L561.48,115.12 L561.83,115.23 L562.17,115.34 L562.51,115.44 L562.86,115.55 L563.20,115.65 L563.54,115.76 L563.89,115.87 L564.23,115.98 L564.57,116.09 L564.92,116.20 L565.26,116.30 L565.60,116.41 L565.95,116.52 L566.29,116.64 L566.64,116.75 L566.98,116.86 L567.32,116.97 L567.67,117.08 L568.01,117.19 L568.35,117.31 L568.70,117.42 L569.04,117.53 L569.38,117.65 L569.73,117.76 L570.07,117.88 L570.41,117.99 L570.76,118.11 L571.10,118.22 L571.44,118.34 L571.79,118.46 L572.13,118.57 L572.47,118.69 L572.82,118.81 L573.16,118.93 L573.50,119.05 L573.85,119.16 L574.19,119.28 L574.53,119.40 L574.88,119.52 L575.22,119.64 L575.57,119.76 L575.91,119.88 L576.25,120.00 L576.60,120.13 L576.94,120.25 L577.28,120.37 L577.63,120.49 L577.97,120.62 L578.31,120.74 L578.66,120.86 L579.00,120.99 L579.34,121.11 L579.69,121.23 L580.03,121.36 L580.37,121.48 L580.72,121.61 L581.06,121.74 L581.40,121.86 L581.75,121.99 L582.09,122.11 L582.43,122.24 L582.78,122.37 L583.12,122.50 L583.46,122.62 L583.81,122.75 L584.15,122.88 L584.49,123.01 L584.84,123.14 L585.18,123.27 L585.53,123.40 L585.87,123.53 L586.21,123.66 L586.56,123.79 L586.90,123.92 L587.24,124.05 L587.59,124.18 L587.93,124.31 L588.27,124.44 L588.62,124.58 L588.96,124.71 L589.30,124.84 L589.65,124.97 L589.99,125.11 L590.33,125.24 L590.68,125.37 L591.02,125.51 L591.36,125.64 L591.71,125.78 L592.05,125.91 L592.39,126.05 L592.74,126.18 L593.08,126.32 L593.42,126.45 L593.77,126.59 L594.11,126.72 L594.46,126.86 L594.80,127.00 L595.14,127.13 L595.49,127.27 L595.83,127.41 L596.17,127.55 L596.52,127.69 L596.86,127.82 L597.20,127.96 L597.55,128.10 L597.89,128.24 L598.23,128.38 L598.58,128.52 L598.92,128.66 L599.26,128.80 L599.61,128.94 L599.95,129.08 L600.29,129.22 L600.64,129.36 L600.98,129.50 L601.32,129.64 L601.67,129.78 L602.01,129.92 L602.35,130.07 L602.70,130.21 L603.04,130.35 L603.38,130.49 L603.73,130.64 L604.07,130.78 L604.42,130.92 L604.76,131.07 L605.10,131.21 L605.45,131.35 L605.79,131.50 L606.13,131.64 L606.48,131.79 L606.82,131.93 L607.16,132.08 L607.51,132.22 L607.85,132.37 L608.19,132.51 L608.54,132.66 L608.88,132.80 L609.22,132.95 L609.57,133.09 L609.91,133.24 L610.25,133.39 L610.60,133.53 L610.94,133.68 L611.28,133.83 L611.63,133.98 L611.97,134.12 L612.31,134.27 L612.66,134.42 L613.00,134.57 L613.35,134.72 L613.69,134.86 L614.03,135.01 L614.38,135.16 L614.72,135.31 L615.06,135.46 L615.41,135.61 L615.75,135.76 L616.09,135.91 L616.44,136.06 L616.78,136.21 L617.12,136.36 L617.47,136.51 L617.81,136.66 L618.15,136.81 L618.50,136.96 L618.84,137.11 L619.18,137.26 L619.53,137.42 L619.87,137.57 L620.21,137.72 L620.56,137.87 L620.90,138.02 L621.24,138.17 L621.59,138.33 L621.93,138.48 L622.27,138.63 L622.62,138.79 L622.96,138.94 L623.31,139.09 L623.65,139.25 L623.99,139.40 L624.34,139.55 L624.68,139.71 L625.02,139.86 L625.37,140.01 L625.71,140.17 L626.05,140.32 L626.40,140.48 L626.74,140.63 L627.08,140.79 L627.43,140.94 L627.77,141.10 L628.11,141.25 L628.46,141.41 L628.80,141.56 L629.14,141.72 L629.49,141.88 L629.83,142.03 L630.17,142.19 L630.52,142.34 L630.86,142.50 L631.20,142.66 L631.55,142.81 L631.89,142.97 L632.24,143.13 L632.58,143.29 L632.92,143.44 L633.27,143.60 L633.61,143.76 L633.95,143.92 L634.30,144.07 L634.64,144.23 L634.98,144.39 L635.33,144.55 L635.67,144.71 L636.01,144.86 L636.36,145.02 L636.70,145.18" stroke="#AA2228" stroke-width="3" stroke-dasharray="11.3 5.3" fill="none"/>
<path d="M156.21,600.00 L156.55,600.00 L156.89,600.00 L157.24,600.00 L157.58,600.00 L157.92,600.00 L158.27,600.00 L158.61,600.00 L158.96,600.00 L159.30,600.00 L159.64,600.00 L159.99,600.00 L160.33,600.00 L160.67,600.00 L161.02,600.00 L161.36,600.00 L161.70,600.00 L162.05,600.00 L162.39,600.00 L162.73,600.00 L163.08,600.00 L163.42,600.00 L163.76,600.00 L164.11,600.00 L164.45,600.00 L164.79,600.00 L165.14,600.00 L165.48,600.00 L165.82,600.00 L166.17,600.00 L166.51,600.00 L166.85,600.00 L167.20,600.00 L167.54,600.00 L167.88,600.00 L168.23,600.00 L168.57,600.00 L168.92,600.00 L169.26,600.00 L169.60,600.00 L169.95,600.00 L170.29,600.00 L170.63,600.00 L170.98,600.00 L171.32,600.00 L171.66,600.00 L172.01,600.00 L172.35,600.00 L172.69,600.00 L173.04,600.00 L173.38,600.00 L173.72,600.00 L174.07,600.00 L174.41,600.00 L174.75,600.00 L175.10,600.00 L175.44,600.00 L175.78,600.00 L176.13,600.00 L176.47,600.00 L176.81,600.00 L177.16,600.00 L177.50,600.00 L177.85,600.00 L178.19,600.00 L178.53,600.00 L178.88,600.00 L179.22,600.00 L179.56,600.00 L179.91,600.00 L180.25,600.00 L180.59,600.00 L180.94,600.00 L181.28,600.00 L181.62,600.00 L181.97,600.00 L182.31,600.00 L182.65,600.00 L183.00,600.00 L183.34,600.00 L183.68,600.00 L184.03,600.00 L184.37,600.00 L184.71,600.00 L185.06,600.00 L185.40,600.00 L185.74,600.00 L186.09,600.00 L186.43,600.00 L186.77,600.00 L187.12,600.00 L187.46,600.00 L187.81,600.00 L188.15,600.00 L188.49,600.00 L188.84,600.00 L189.18,600.00 L189.52,600.00 L189.87,600.00 L190.21,600.00 L190.55,600.00 L190.90,600.00 L191.24,600.00 L191.58,600.00 L191.93,600.00 L192.27,600.00 L192.61,600.00 L192.96,600.00 L193.30,600.00 L193.64,600.00 L193.99,600.00 L194.33,600.00 L194.67,600.00 L195.02,600.00 L195.36,600.00 L195.70,600.00 L196.05,600.00 L196.39,600.00 L196.74,600.00 L197.08,600.00 L197.42,600.00 L197.77,600.00 L198.11,600.00 L198.45,600.00 L198.80,600.00 L199.14,600.00 L199.48,600.00 L199.83,600.00 L200.17,600.00 L200.51,600.00 L200.86,600.00 L201.20,600.00 L201.54,600.00 L201.89,600.00 L202.23,600.00 L202.57,600.00 L202.92,600.00 L203.26,600.00 L203.60,600.00 L203.95,600.00 L204.29,600.00 L204.63,600.00 L204.98,600.00 L205.32,600.00 L205.66,600.00 L206.01,600.00 L206.35,600.00 L206.70,600.00 L207.04,600.00 L207.38,600.00 L207.73,600.00 L208.07,600.00 L208.41,600.00 L208.76,600.00 L209.10,600.00 L209.44,600.00 L209.79,600.00 L210.13,600.00 L210.47,600.00 L210.82,600.00 L211.16,600.00 L211.50,600.00 L211.85,600.00 L212.19,600.00 L212.53,600.00 L212.88,600.00 L213.22,600.00 L213.56,600.00 L213.91,600.00 L214.25,600.00 L214.59,600.00 L214.94,600.00 L215.28,600.00 L215.62,600.00 L215.97,600.00 L216.31,600.00 L216.66,600.00 L217.00,600.00 L217.34,600.00 L217.69,600.00 L218.03,600.00 L218.37,600.00 L218.72,600.00 L219.06,600.00 L219.40,600.00 L219.75,600.00 L220.09,600.00 L220.43,600.00 L220.78,600.00 L221.12,600.00 L221.46,600.00 L221.81,600.00 L222.15,600.00 L222.49,600.00 L222.84,600.00 L223.18,600.00 L223.52,600.00 L223.87,600.00 L224.21,600.00 L224.55,600.00 L224.90,600.00 L225.24,600.00 L225.59,600.00 L225.93,600.00 L226.27,600.00 L226.62,600.00 L226.96,600.00 L227.30,600.00 L227.65,600.00 L227.99,600.00 L228.33,600.00 L228.68,600.00 L229.02,600.00 L229.36,600.00 L229.71,600.00 L230.05,600.00 L230.39,600.00 L230.74,600.00 L231.08,600.00 L231.42,600.00 L231.77,600.00 L232.11,600.00 L232.45,600.00 L232.80,600.00 L233.14,600.00 L233.48,600.00 L233.83,600.00 L234.17,600.00 L234.51,600.00 L234.86,600.00 L235.20,600.00 L235.55,600.00 L235.89,600.00 L236.23,600.00 L236.58,600.00 L236.92,600.00 L237.26,600.00 L237.61,600.00 L237.95,600.00 L238.29,600.00 L238.64,600.00 L238.98,600.00 L239.32,600.00 L239.67,600.00 L240.01,600.00 L240.35,600.00 L240.70,600.00 L241.04,600.00 L241.38,600.00 L241.73,600.00 L242.07,600.00 L242.41,600.00 L242.76,600.00 L243.10,600.00 L243.44,600.00 L243.79,600.00 L244.13,600.00 L244.48,600.00 L244.82,600.00 L245.16,600.00 L245.51,600.00 L245.85,600.00 L246.19,600.00 L246.54,600.00 L246.88,600.00 L247.22,600.00 L247.57,600.00 L247.91,600.00 L248.25,600.00 L248.60,600.00 L248.94,600.00 L249.28,600.00 L249.63,600.00 L249.97,600.00 L250.31,600.00 L250.66,600.00 L251.00,600.00 L251.34,600.00 L251.69,600.00 L252.03,600.00 L252.37,600.00 L252.72,600.00 L253.06,600.00 L253.40,600.00 L253.75,600.00 L254.09,600.00 L254.44,600.00 L254.78,600.00 L255.12,600.00 L255.47,600.00 L255.81,600.00 L256.15,600.00 L256.50,600.00 L256.84,600.00 L257.18,600.00 L257.53,600.00 L257.87,600.00 L258.21,600.00 L258.56,600.00 L258.90,600.00 L259.24,600.00 L259.59,600.00 L259.93,600.00 L260.27,600.00 L260.62,600.00 L260.96,600.00 L261.30,600.00 L261.65,600.00 L261.99,600.00 L262.33,600.00 L262.68,600.00 L263.02,600.00 L263.37,600.00 L263.71,600.00 L264.05,600.00 L264.40,600.00 L264.74,600.00 L265.08,600.00 L265.43,600.00 L265.77,600.00 L266.11,600.00 L266.46,600.00 L266.80,600.00 L267.14,600.00 L267.49,600.00 L267.83,600.00 L268.17,600.00 L268.52,600.00 L268.86,600.00 L269.20,600.00 L269.55,600.00 L269.89,600.00 L270.23,600.00 L270.58,600.00 L270.92,600.00 L271.26,600.00 L271.61,600.00 L271.95,600.00 L272.29,600.00 L272.64,600.00 L272.98,600.00 L273.33,600.00 L273.67,600.00 L274.01,600.00 L274.36,600.00 L274.70,600.00 L275.04,600.00 L275.39,600.00 L275.73,600.00 L276.07,600.00 L276.42,600.00 L276.76,600.00 L277.10,600.00 L277.45,600.00 L277.79,600.00 L278.13,600.00 L278.48,600.00 L278.82,600.00 L279.16,600.00 L279.51,600.00 L279.85,600.00 L280.19,600.00 L280.54,600.00 L280.88,600.00 L281.22,600.00 L281.57,600.00 L281.91,600.00 L282.26,600.00 L282.60,600.00 L282.94,600.00 L283.29,600.00 L283.63,600.00 L283.97,600.00 L284.32,600.00 L284.66,600.00 L285.00,600.00 L285.35,600.00 L285.69,600.00 L286.03,600.00 L286.38,600.00 L286.72,600.00 L287.06,600.00 L287.41,600.00 L287.75,600.00 L288.09,600.00 L288.44,600.00 L288.78,600.00 L289.12,600.00 L289.47,600.00 L289.81,600.00 L290.15,600.00 L290.50,600.00 L290.84,600.00 L291.18,600.00 L291.53,600.00 L291.87,600.00 L292.22,600.00 L292.56,600.00 L292.90,600.00 L293.25,600.00 L293.59,600.00 L293.93,600.00 L294.28,600.00 L294.62,600.00 L294.96,600.00 L295.31,600.00 L295.65,600.00 L295.99,600.00 L296.34,600.00 L296.68,600.00 L297.02,600.00 L297.37,600.00 L297.71,600.00 L298.05,600.00 L298.40,600.00 L298.74,600.00 L299.08,600.00 L299.43,600.00 L299.77,600.00 L300.11,600.00 L300.46,600.00 L300.80,600.00 L301.15,600.00 L301.49,600.00 L301.83,600.00 L302.18,600.00 L302.52,600.00 L302.86,600.00 L303.21,600.00 L303.55,600.00 L303.89,600.00 L304.24,600.00 L304.58,600.00 L304.92,600.00 L305.27,600.00 L305.61,600.00 L305.95,600.00 L306.30,600.00 L306.64,600.00 L306.98,600.00 L307.33,600.00 L307.67,600.00 L308.01,600.00 L308.36,600.00 L308.70,600.00 L309.04,600.00 L309.39,600.00 L309.73,600.00 L310.07,600.00 L310.42,600.00 L310.76,600.00 L311.11,600.00 L311.45,600.00 L311.79,600.00 L312.14,600.00 L312.48,600.00 L312.82,600.00 L313.17,600.00 L313.51,600.00 L313.85,600.00 L314.20,600.00 L314.54,600.00 L314.88,600.00 L315.23,600.00 L315.57,600.00 L315.91,600.00 L316.26,600.00 L316.60,600.00 L316.94,600.00 L317.29,600.00 L317.63,600.00 L317.97,600.00 L318.32,600.00 L318.66,600.00 L319.00,600.00 L319.35,600.00 L319.69,600.00 L320.04,600.00 L320.38,600.00 L320.72,600.00 L321.07,600.00 L321.41,600.00 L321.75,600.00 L322.10,600.00 L322.44,597.71 L322.78,594.89 L323.13,592.08 L323.47,589.29 L323.81,586.51 L324.16,583.74 L324.50,580.99 L324.84,578.25 L325.19,575.53 L325.53,572.82 L325.87,570.12 L326.22,567.44 L326.56,564.77 L326.90,562.11 L327.25,559.47 L327.59,556.84 L327.93,554.23 L328.28,551.63 L328.62,549.04 L328.96,546.46 L329.31,543.90 L329.65,541.35 L330.00,538.81 L330.34,536.29 L330.68,533.78 L331.03,531.28 L331.37,528.79 L331.71,526.32 L332.06,523.86 L332.40,521.41 L332.74,518.98 L333.09,516.56 L333.43,514.15 L333.77,511.75 L334.12,509.36 L334.46,506.99 L334.80,504.63 L335.15,502.28 L335.49,499.94 L335.83,497.62 L336.18,495.31 L336.52,493.01 L336.86,490.72 L337.21,488.44 L337.55,486.17 L337.89,483.92 L338.24,481.68 L338.58,479.45 L338.93,477.23 L339.27,475.02 L339.61,472.82 L339.96,470.64 L340.30,468.46 L340.64,466.30 L340.99,464.15 L341.33,462.01 L341.67,459.88 L342.02,457.76 L342.36,455.65 L342.70,453.56 L343.05,451.47 L343.39,449.40 L343.73,447.34 L344.08,445.28 L344.42,443.24 L344.76,441.21 L345.11,439.19 L345.45,437.18 L345.79,435.18 L346.14,433.19 L346.48,431.21 L346.82,429.24 L347.17,427.28 L347.51,425.33 L347.85,423.40 L348.20,421.47 L348.54,419.55 L348.89,417.64 L349.23,415.75 L349.57,413.86 L349.92,411.98 L350.26,410.11 L350.60,408.26 L350.95,406.41 L351.29,404.57 L351.63,402.74 L351.98,400.92 L352.32,399.11 L352.66,397.31 L353.01,395.52 L353.35,393.74 L353.69,391.97 L354.04,390.21 L354.38,388.46 L354.72,386.71 L355.07,384.98 L355.41,383.25 L355.75,381.54 L356.10,379.83 L356.44,378.14 L356.78,376.45 L357.13,374.77 L357.47,373.10 L357.82,371.44 L358.16,369.78 L358.50,368.14 L358.85,366.51 L359.19,364.88 L359.53,363.26 L359.88,361.66 L360.22,360.06 L360.56,358.46 L360.91,356.88 L361.25,355.31 L361.59,353.74 L361.94,352.19 L362.28,350.64 L362.62,349.10 L362.97,347.56 L363.31,346.04 L363.65,344.53 L364.00,343.02 L364.34,341.52 L364.68,340.03 L365.03,338.55 L365.37,337.07 L365.71,335.60 L366.06,334.15 L366.40,332.70 L366.74,331.25 L367.09,329.82 L367.43,328.39 L367.78,326.97 L368.12,325.56 L368.46,324.16 L368.81,322.76 L369.15,321.37 L369.49,319.99 L369.84,318.62 L370.18,317.25 L370.52,315.90 L370.87,314.55 L371.21,313.20 L371.55,311.87 L371.90,310.54 L372.24,309.22 L372.58,307.91 L372.93,306.60 L373.27,305.30 L373.61,304.01 L373.96,302.73 L374.30,301.45 L374.64,300.18 L374.99,298.92 L375.33,297.66 L375.67,296.41 L376.02,295.17 L376.36,293.93 L376.71,292.71 L377.05,291.49 L377.39,290.27 L377.74,289.06 L378.08,287.86 L378.42,286.67 L378.77,285.48 L379.11,284.30 L379.45,283.13 L379.80,281.96 L380.14,280.80 L380.48,279.65 L380.83,278.50 L381.17,277.36 L381.51,276.23 L381.86,275.10 L382.20,273.98 L382.54,272.86 L382.89,271.76 L383.23,270.65 L383.57,269.56 L383.92,268.47 L384.26,267.39 L384.60,266.31 L384.95,265.24 L385.29,264.18 L385.63,263.12 L385.98,262.06 L386.32,261.02 L386.67,259.98 L387.01,258.95 L387.35,257.92 L387.70,256.90 L388.04,255.88 L388.38,254.87 L388.73,253.87 L389.07,252.87 L389.41,251.88 L389.76,250.89 L390.10,249.91 L390.44,248.93 L390.79,247.96 L391.13,247.00 L391.47,246.04 L391.82,245.09 L392.16,244.14 L392.50,243.20 L392.85,242.27 L393.19,241.34 L393.53,240.41 L393.88,239.50 L394.22,238.58 L394.56,237.67 L394.91,236.77 L395.25,235.88 L395.60,234.98 L395.94,234.10 L396.28,233.22 L396.63,232.34 L396.97,231.47 L397.31,230.61 L397.66,229.75 L398.00,228.89 L398.34,228.04 L398.69,227.20 L399.03,226.36 L399.37,225.53 L399.72,224.70 L400.06,223.88 L400.40,223.06 L400.75,222.24 L401.09,221.43 L401.43,220.63 L401.78,219.83 L402.12,219.04 L402.46,218.25 L402.81,217.47 L403.15,216.69 L403.49,215.91 L403.84,215.14 L404.18,214.38 L404.52,213.62 L404.87,212.86 L405.21,212.11 L405.56,211.37 L405.90,210.63 L406.24,209.89 L406.59,209.16 L406.93,208.43 L407.27,207.71 L407.62,206.99 L407.96,206.28 L408.30,205.57 L408.65,204.87 L408.99,204.17 L409.33,203.47 L409.68,202.78 L410.02,202.10 L410.36,201.42 L410.71,200.74 L411.05,200.06 L411.39,199.40 L411.74,198.73 L412.08,198.07 L412.42,197.42 L412.77,196.77 L413.11,196.12 L413.45,195.48 L413.80,194.84 L414.14,194.20 L414.49,193.57 L414.83,192.95 L415.17,192.32 L415.52,191.71 L415.86,191.09 L416.20,190.48 L416.55,189.88 L416.89,189.28 L417.23,188.68 L417.58,188.08 L417.92,187.49 L418.26,186.91 L418.61,186.33 L418.95,185.75 L419.29,185.18 L419.64,184.61 L419.98,184.04 L420.32,183.48 L420.67,182.92 L421.01,182.37 L421.35,181.82 L421.70,181.27 L422.04,180.73 L422.38,180.19 L422.73,179.65 L423.07,179.12 L423.41,178.59 L423.76,178.07 L424.10,177.55 L424.45,177.03 L424.79,176.52 L425.13,176.01 L425.48,175.50 L425.82,175.00 L426.16,174.50 L426.51,174.00 L426.85,173.51 L427.19,173.02 L427.54,172.54 L427.88,172.06 L428.22,171.58 L428.57,171.10 L428.91,170.63 L429.25,170.16 L429.60,169.70 L429.94,169.24 L430.28,168.78 L430.63,168.33 L430.97,167.88 L431.31,167.43 L431.66,166.99 L432.00,166.54 L432.34,166.11 L432.69,165.67 L433.03,165.24 L433.38,164.81 L433.72,164.39 L434.06,163.97 L434.41,163.55 L434.75,163.14 L435.09,162.72 L435.44,162.32 L435.78,161.91 L436.12,161.51 L436.47,161.11 L436.81,160.71 L437.15,160.32 L437.50,159.93 L437.84,159.54 L438.18,159.16 L438.53,158.78 L438.87,158.40 L439.21,158.02 L439.56,157.65 L439.90,157.28 L440.24,156.92 L440.59,156.55 L440.93,156.19 L441.27,155.84 L441.62,155.48 L441.96,155.13 L442.30,154.78 L442.65,154.43 L442.99,154.09 L443.34,153.75 L443.68,153.41 L444.02,153.08 L444.37,152.75 L444.71,152.42 L445.05,152.09 L445.40,151.77 L445.74,151.45 L446.08,151.13 L446.43,150.81 L446.77,150.50 L447.11,150.19 L447.46,149.88 L447.80,149.58 L448.14,149.28 L448.49,148.98 L448.83,148.68 L449.17,148.39 L449.52,148.09 L449.86,147.81 L450.20,147.52 L450.55,147.24 L450.89,146.95 L451.23,146.67 L451.58,146.40 L451.92,146.12 L452.27,145.85 L452.61,145.58 L452.95,145.32 L453.30,145.05 L453.64,144.79 L453.98,144.53 L454.33,144.28 L454.67,144.02 L455.01,143.77 L455.36,143.52 L455.70,143.27 L456.04,143.03 L456.39,142.79 L456.73,142.55 L457.07,142.31 L457.42,142.07 L457.76,141.84 L458.10,141.61 L458.45,141.38 L458.79,141.15 L459.13,140.93 L459.48,140.71 L459.82,140.49 L460.16,140.27 L460.51,140.05 L460.85,139.84 L461.19,139.63 L461.54,139.42 L461.88,139.22 L462.23,139.01 L462.57,138.81 L462.91,138.61 L463.26,138.41 L463.60,138.21 L463.94,138.02 L464.29,137.83 L464.63,137.64 L464.97,137.45 L465.32,137.27 L465.66,137.08 L466.00,136.90 L466.35,136.72 L466.69,136.55 L467.03,136.37 L467.38,136.20 L467.72,136.03 L468.06,135.86 L468.41,135.69 L468.75,135.52 L469.09,135.36 L469.44,135.20 L469.78,135.04 L470.12,134.88 L470.47,134.73 L470.81,134.57 L471.16,134.42 L471.50,134.27 L471.84,134.12 L472.19,133.97 L472.53,133.83 L472.87,133.69 L473.22,133.55 L473.56,133.41 L473.90,133.27 L474.25,133.13 L474.59,133.00 L474.93,132.87 L475.28,132.74 L475.62,132.61 L475.96,132.48 L476.31,132.36 L476.65,132.24 L476.99,132.11 L477.34,131.99 L477.68,131.88 L478.02,131.76 L478.37,131.65 L478.71,131.53 L479.05,131.42 L479.40,131.31 L479.74,131.20 L480.08,131.10 L480.43,130.99 L480.77,130.89 L481.12,130.79 L481.46,130.69 L481.80,130.59 L482.15,130.49 L482.49,130.40 L482.83,130.30 L483.18,130.21 L483.52,130.12 L483.86,130.03 L484.21,129.95 L484.55,129.86 L484.89,129.78 L485.24,129.69 L485.58,129.61 L485.92,129.53 L486.27,129.45 L486.61,129.38 L486.95,129.30 L487.30,129.23 L487.64,129.16 L487.98,129.09 L488.33,129.02 L488.67,128.95 L489.01,128.88 L489.36,128.82 L489.70,128.75 L490.05,128.69 L490.39,128.63 L490.73,128.57 L491.08,128.51 L491.42,128.45 L491.76,128.40 L492.11,128.35 L492.45,128.29 L492.79,128.24 L493.14,128.19 L493.48,128.14 L493.82,128.10 L494.17,128.05 L494.51,128.00 L494.85,127.96 L495.20,127.92 L495.54,127.88 L495.88,127.84 L496.23,127.80 L496.57,127.76 L496.91,127.73 L497.26,127.69 L497.60,127.66 L497.94,127.63 L498.29,127.60 L498.63,127.57 L498.97,127.54 L499.32,127.51 L499.66,127.48 L500.01,127.46 L500.35,127.44 L500.69,127.41 L501.04,127.39 L501.38,127.37 L501.72,127.35 L502.07,127.33 L502.41,127.32 L502.75,127.30 L503.10,127.29 L503.44,127.27 L503.78,127.26 L504.13,127.25 L504.47,127.24 L504.81,127.23 L505.16,127.22 L505.50,127.22 L505.84,127.21 L506.19,127.21 L506.53,127.20 L506.87,127.20 L507.22,127.20 L507.56,127.20 L507.90,127.20 L508.25,127.20 L508.59,127.21 L508.93,127.21 L509.28,127.21 L509.62,127.22 L509.97,127.23 L510.31,127.23 L510.65,127.24 L511.00,127.25 L511.34,127.26 L511.68,127.28 L512.03,127.29 L512.37,127.30 L512.71,127.32 L513.06,127.33 L513.40,127.35 L513.74,127.37 L514.09,127.39 L514.43,127.41 L514.77,127.43 L515.12,127.45 L515.46,127.47 L515.80,127.49 L516.15,127.52 L516.49,127.54 L516.83,127.57 L517.18,127.59 L517.52,127.62 L517.86,127.65 L518.21,127.68 L518.55,127.71 L518.90,127.74 L519.24,127.77 L519.58,127.81 L519.93,127.84 L520.27,127.87 L520.61,127.91 L520.96,127.95 L521.30,127.98 L521.64,128.02 L521.99,128.06 L522.33,128.10 L522.67,128.14 L523.02,128.18 L523.36,128.22 L523.70,128.27 L524.05,128.31 L524.39,128.35 L524.73,128.40 L525.08,128.44 L525.42,128.49 L525.76,128.54 L526.11,128.59 L526.45,128.64 L526.79,128.69 L527.14,128.74 L527.48,128.79 L527.82,128.84 L528.17,128.89 L528.51,128.95 L528.86,129.00 L529.20,129.05 L529.54,129.11 L529.89,129.17 L530.23,129.22 L530.57,129.28 L530.92,129.34 L531.26,129.40 L531.60,129.46 L531.95,129.52 L532.29,129.58 L532.63,129.64 L532.98,129.71 L533.32,129.77 L533.66,129.83 L534.01,129.90 L534.35,129.96 L534.69,130.03 L535.04,130.10 L535.38,130.16 L535.72,130.23 L536.07,130.30 L536.41,130.37 L536.75,130.44 L537.10,130.51 L537.44,130.58 L537.79,130.65 L538.13,130.72 L538.47,130.80 L538.82,130.87 L539.16,130.95 L539.50,131.02 L539.85,131.10 L540.19,131.17 L540.53,131.25 L540.88,131.33 L541.22,131.40 L541.56,131.48 L541.91,131.56 L542.25,131.64 L542.59,131.72 L542.94,131.80 L543.28,131.88 L543.62,131.96 L543.97,132.05 L544.31,132.13 L544.65,132.21 L545.00,132.30 L545.34,132.38 L545.68,132.47 L546.03,132.55 L546.37,132.64 L546.71,132.73 L547.06,132.81 L547.40,132.90 L547.75,132.99 L548.09,133.08 L548.43,133.17 L548.78,133.26 L549.12,133.35 L549.46,133.44 L549.81,133.53 L550.15,133.62 L550.49,133.72 L550.84,133.81 L551.18,133.90 L551.52,134.00 L551.87,134.09 L552.21,134.19 L552.55,134.28 L552.90,134.38 L553.24,134.47 L553.58,134.57 L553.93,134.67 L554.27,134.77 L554.61,134.86 L554.96,134.96 L555.30,135.06 L555.64,135.16 L555.99,135.26 L556.33,135.36 L556.68,135.46 L557.02,135.57 L557.36,135.67 L557.71,135.77 L558.05,135.87 L558.39,135.98 L558.74,136.08 L559.08,136.18 L559.42,136.29 L559.77,136.39 L560.11,136.50 L560.45,136.60 L560.80,136.71 L561.14,136.82 L561.48,136.93 L561.83,137.03 L562.17,137.14 L562.51,137.25 L562.86,137.36 L563.20,137.47 L563.54,137.58 L563.89,137.69 L564.23,137.80 L564.57,137.91 L564.92,138.02 L565.26,138.13 L565.60,138.24 L565.95,138.36 L566.29,138.47 L566.64,138.58 L566.98,138.69 L567.32,138.81 L567.67,138.92 L568.01,139.04 L568.35,139.15 L568.70,139.27 L569.04,139.38 L569.38,139.50 L569.73,139.62 L570.07,139.73 L570.41,139.85 L570.76,139.97 L571.10,140.09 L571.44,140.20 L571.79,140.32 L572.13,140.44 L572.47,140.56 L572.82,140.68 L573.16,140.80 L573.50,140.92 L573.85,141.04 L574.19,141.16 L574.53,141.28 L574.88,141.41 L575.22,141.53 L575.57,141.65 L575.91,141.77 L576.25,141.90 L576.60,142.02 L576.94,142.14 L577.28,142.27 L577.63,142.39 L577.97,142.52 L578.31,142.64 L578.66,142.77 L579.00,142.89 L579.34,143.02 L579.69,143.14 L580.03,143.27 L580.37,143.40 L580.72,143.52 L581.06,143.65 L581.40,143.78 L581.75,143.91 L582.09,144.04 L582.43,144.16 L582.78,144.29 L583.12,144.42 L583.46,144.55 L583.81,144.68 L584.15,144.81 L584.49,144.94 L584.84,145.07 L585.18,145.20 L585.53,145.33 L585.87,145.47 L586.21,145.60 L586.56,145.73 L586.90,145.86 L587.24,145.99 L587.59,146.13 L587.93,146.26 L588.27,146.39 L588.62,146.53 L588.96,146.66 L589.30,146.80 L589.65,146.93 L589.99,147.06 L590.33,147.20 L590.68,147.33 L591.02,147.47 L591.36,147.61 L591.71,147.74 L592.05,147.88 L592.39,148.01 L592.74,148.15 L593.08,148.29 L593.42,148.42 L593.77,148.56 L594.11,148.70 L594.46,148.84 L594.80,148.98 L595.14,149.11 L595.49,149.25 L595.83,149.39 L596.17,149.53 L596.52,149.67 L596.86,149.81 L597.20,149.95 L597.55,150.09 L597.89,150.23 L598.23,150.37 L598.58,150.51 L598.92,150.65 L599.26,150.79 L599.61,150.93 L599.95,151.08 L600.29,151.22 L600.64,151.36 L600.98,151.50 L601.32,151.64 L601.67,151.79 L602.01,151.93 L602.35,152.07 L602.70,152.22 L603.04,152.36 L603.38,152.50 L603.73,152.65 L604.07,152.79 L604.42,152.94 L604.76,153.08 L605.10,153.23 L605.45,153.37 L605.79,153.52 L606.13,153.66 L606.48,153.81 L606.82,153.95 L607.16,154.10 L607.51,154.24 L607.85,154.39 L608.19,154.54 L608.54,154.68 L608.88,154.83 L609.22,154.98 L609.57,155.13 L609.91,155.27 L610.25,155.42 L610.60,155.57 L610.94,155.72 L611.28,155.86 L611.63,156.01 L611.97,156.16 L612.31,156.31 L612.66,156.46 L613.00,156.61 L613.35,156.76 L613.69,156.91 L614.03,157.06 L614.38,157.21 L614.72,157.36 L615.06,157.51 L615.41,157.66 L615.75,157.81 L616.09,157.96 L616.44,158.11 L616.78,158.26 L617.12,158.41 L617.47,158.56 L617.81,158.71 L618.15,158.87 L618.50,159.02 L618.84,159.17 L619.18,159.32 L619.53,159.47 L619.87,159.63 L620.21,159.78 L620.56,159.93 L620.90,160.09 L621.24,160.24 L621.59,160.39 L621.93,160.55 L622.27,160.70 L622.62,160.85 L622.96,161.01 L623.31,161.16 L623.65,161.32 L623.99,161.47 L624.34,161.62 L624.68,161.78 L625.02,161.93 L625.37,162.09 L625.71,162.24 L626.05,162.40 L626.40,162.55 L626.74,162.71 L627.08,162.87 L627.43,163.02 L627.77,163.18 L628.11,163.33 L628.46,163.49 L628.80,163.65 L629.14,163.80 L629.49,163.96 L629.83,164.12 L630.17,164.27 L630.52,164.43 L630.86,164.59 L631.20,164.75 L631.55,164.90 L631.89,165.06 L632.24,165.22 L632.58,165.38 L632.92,165.53 L633.27,165.69 L633.61,165.85 L633.95,166.01 L634.30,166.17 L634.64,166.33 L634.98,166.49 L635.33,166.64 L635.67,166.80 L636.01,166.96 L636.36,167.12 L636.70,167.28" stroke="#DC143C" stroke-opacity="0.34" stroke-width="3.9" fill="none"/>
<path d="M156.21,508.15 L156.55,506.61 L156.89,505.09 L157.24,503.57 L157.58,502.05 L157.92,500.54 L158.27,499.04 L158.61,497.54 L158.96,496.05 L159.30,494.55 L159.64,493.07 L159.99,491.58 L160.33,490.10 L160.67,488.62 L161.02,487.15 L161.36,485.67 L161.70,484.19 L162.05,482.72 L162.39,481.25 L162.73,479.77 L163.08,478.30 L163.42,476.82 L163.76,475.34 L164.11,473.86 L164.45,472.38 L164.79,470.90 L165.14,469.41 L165.48,467.92 L165.82,466.42 L166.17,464.92 L166.51,463.42 L166.85,461.91 L167.20,460.39 L167.54,458.87 L167.88,457.34 L168.23,455.80 L168.57,454.26 L168.92,452.71 L169.26,451.15 L169.60,449.59 L169.95,448.01 L170.29,446.43 L170.63,444.83 L170.98,443.23 L171.32,441.61 L171.66,439.99 L172.01,438.36 L172.35,436.72 L172.69,435.07 L173.04,433.42 L173.38,431.76 L173.72,430.10 L174.07,428.43 L174.41,426.76 L174.75,425.08 L175.10,423.40 L175.44,421.72 L175.78,420.03 L176.13,418.35 L176.47,416.66 L176.81,414.98 L177.16,413.32 L177.50,411.66 L177.85,410.03 L178.19,408.42 L178.53,406.85 L178.88,405.31 L179.22,403.81 L179.56,402.36 L179.91,400.96 L180.25,399.61 L180.59,398.31 L180.94,397.06 L181.28,395.85 L181.62,394.69 L181.97,393.57 L182.31,392.49 L182.65,391.44 L183.00,390.43 L183.34,389.44 L183.68,388.49 L184.03,387.56 L184.37,386.65 L184.71,385.76 L185.06,384.89 L185.40,384.04 L185.74,383.19 L186.09,382.36 L186.43,381.54 L186.77,380.72 L187.12,379.91 L187.46,379.11 L187.81,378.30 L188.15,377.50 L188.49,376.69 L188.84,375.88 L189.18,375.07 L189.52,374.24 L189.87,373.41 L190.21,372.57 L190.55,371.72 L190.90,370.85 L191.24,369.96 L191.58,369.06 L191.93,368.15 L192.27,367.21 L192.61,366.26 L192.96,365.30 L193.30,364.33 L193.64,363.34 L193.99,362.34 L194.33,361.34 L194.67,360.33 L195.02,359.31 L195.36,358.29 L195.70,357.26 L196.05,356.23 L196.39,355.19 L196.74,354.16 L197.08,353.13 L197.42,352.09 L197.77,351.06 L198.11,350.04 L198.45,349.02 L198.80,348.01 L199.14,347.00 L199.48,346.00 L199.83,345.01 L200.17,344.04 L200.51,343.07 L200.86,342.12 L201.20,341.18 L201.54,340.26 L201.89,339.36 L202.23,338.47 L202.57,337.60 L202.92,336.76 L203.26,335.93 L203.60,335.12 L203.95,334.33 L204.29,333.56 L204.63,332.81 L204.98,332.08 L205.32,331.37 L205.66,330.68 L206.01,330.01 L206.35,329.36 L206.70,328.73 L207.04,328.12 L207.38,327.53 L207.73,326.97 L208.07,326.42 L208.41,325.89 L208.76,325.38 L209.10,324.89 L209.44,324.42 L209.79,323.96 L210.13,323.53 L210.47,323.10 L210.82,322.69 L211.16,322.28 L211.50,321.89 L211.85,321.51 L212.19,321.13 L212.53,320.76 L212.88,320.39 L213.22,320.02 L213.56,319.66 L213.91,319.30 L214.25,318.93 L214.59,318.56 L214.94,318.19 L215.28,317.81 L215.62,317.43 L215.97,317.03 L216.31,316.63 L216.66,316.23 L217.00,315.81 L217.34,315.39 L217.69,314.97 L218.03,314.54 L218.37,314.10 L218.72,313.66 L219.06,313.22 L219.40,312.77 L219.75,312.31 L220.09,311.86 L220.43,311.40 L220.78,310.94 L221.12,310.47 L221.46,310.01 L221.81,309.54 L222.15,309.07 L222.49,308.60 L222.84,308.13 L223.18,307.66 L223.52,307.19 L223.87,306.72 L224.21,306.26 L224.55,305.79 L224.90,305.33 L225.24,304.86 L225.59,304.40 L225.93,303.95 L226.27,303.49 L226.62,303.04 L226.96,302.60 L227.30,302.15 L227.65,301.72 L227.99,301.28 L228.33,300.86 L228.68,300.44 L229.02,300.02 L229.36,299.61 L229.71,299.21 L230.05,298.82 L230.39,298.43 L230.74,298.05 L231.08,297.68 L231.42,297.32 L231.77,296.96 L232.11,296.62 L232.45,296.28 L232.80,295.95 L233.14,295.63 L233.48,295.32 L233.83,295.01 L234.17,294.71 L234.51,294.42 L234.86,294.14 L235.20,293.87 L235.55,293.60 L235.89,293.34 L236.23,293.08 L236.58,292.83 L236.92,292.59 L237.26,292.36 L237.61,292.13 L237.95,291.91 L238.29,291.69 L238.64,291.48 L238.98,291.27 L239.32,291.08 L239.67,290.88 L240.01,290.69 L240.35,290.51 L240.70,290.33 L241.04,290.16 L241.38,289.99 L241.73,289.83 L242.07,289.67 L242.41,289.52 L242.76,289.37 L243.10,289.22 L243.44,289.08 L243.79,288.94 L244.13,288.81 L244.48,288.68 L244.82,288.55 L245.16,288.43 L245.51,288.31 L245.85,288.19 L246.19,288.08 L246.54,287.97 L246.88,287.86 L247.22,287.75 L247.57,287.65 L247.91,287.55 L248.25,287.45 L248.60,287.35 L248.94,287.26 L249.28,287.17 L249.63,287.08 L249.97,286.99 L250.31,286.90 L250.66,286.81 L251.00,286.73 L251.34,286.64 L251.69,286.56 L252.03,286.47 L252.37,286.39 L252.72,286.31 L253.06,286.23 L253.40,286.15 L253.75,286.07 L254.09,285.99 L254.44,285.91 L254.78,285.83 L255.12,285.75 L255.47,285.67 L255.81,285.59 L256.15,285.51 L256.50,285.43 L256.84,285.35 L257.18,285.27 L257.53,285.20 L257.87,285.12 L258.21,285.04 L258.56,284.97 L258.90,284.89 L259.24,284.82 L259.59,284.74 L259.93,284.67 L260.27,284.59 L260.62,284.52 L260.96,284.45 L261.30,284.38 L261.65,284.31 L261.99,284.24 L262.33,284.17 L262.68,284.10 L263.02,284.04 L263.37,283.97 L263.71,283.91 L264.05,283.84 L264.40,283.78 L264.74,283.72 L265.08,283.65 L265.43,283.59 L265.77,283.53 L266.11,283.48 L266.46,283.42 L266.80,283.36 L267.14,283.31 L267.49,283.26 L267.83,283.20 L268.17,283.15 L268.52,283.10 L268.86,283.05 L269.20,283.01 L269.55,282.96 L269.89,282.91 L270.23,282.87 L270.58,282.83 L270.92,282.79 L271.26,282.75 L271.61,282.71 L271.95,282.67 L272.29,282.63 L272.64,282.60 L272.98,282.56 L273.33,282.53 L273.67,282.50 L274.01,282.47 L274.36,282.44 L274.70,282.41 L275.04,282.38 L275.39,282.35 L275.73,282.33 L276.07,282.30 L276.42,282.28 L276.76,282.26 L277.10,282.24 L277.45,282.21 L277.79,282.20 L278.13,282.18 L278.48,282.16 L278.82,282.14 L279.16,282.12 L279.51,282.11 L279.85,282.09 L280.19,282.08 L280.54,282.07 L280.88,282.06 L281.22,282.05 L281.57,282.04 L281.91,282.03 L282.26,282.02 L282.60,282.01 L282.94,282.00 L283.29,282.00 L283.63,281.99 L283.97,281.99 L284.32,281.98 L284.66,281.98 L285.00,281.97 L285.35,281.97 L285.69,281.97 L286.03,281.97 L286.38,281.97 L286.72,281.97 L287.06,281.97 L287.41,281.97 L287.75,281.98 L288.09,281.98 L288.44,281.98 L288.78,281.99 L289.12,281.99 L289.47,282.00 L289.81,282.00 L290.15,282.01 L290.50,282.01 L290.84,282.02 L291.18,282.03 L291.53,282.04 L291.87,282.05 L292.22,282.05 L292.56,282.06 L292.90,282.07 L293.25,282.08 L293.59,282.09 L293.93,282.10 L294.28,282.12 L294.62,282.13 L294.96,282.14 L295.31,282.15 L295.65,282.16 L295.99,282.18 L296.34,282.19 L296.68,282.20 L297.02,282.22 L297.37,282.23 L297.71,282.25 L298.05,282.26 L298.40,282.27 L298.74,282.29 L299.08,282.30 L299.43,282.32 L299.77,282.33 L300.11,282.35 L300.46,282.37 L300.80,282.38 L301.15,282.40 L301.49,282.41 L301.83,282.43 L302.18,282.45 L302.52,282.46 L302.86,282.48 L303.21,282.49 L303.55,282.51 L303.89,282.53 L304.24,282.54 L304.58,282.56 L304.92,282.58 L305.27,282.60 L305.61,282.61 L305.95,282.63 L306.30,282.65 L306.64,282.67 L306.98,282.69 L307.33,282.71 L307.67,282.73 L308.01,282.75 L308.36,282.77 L308.70,282.79 L309.04,282.81 L309.39,282.83 L309.73,282.85 L310.07,282.88 L310.42,282.90 L310.76,282.92 L311.11,282.95 L311.45,282.97 L311.79,283.00 L312.14,283.02 L312.48,283.05 L312.82,283.08 L313.17,283.10 L313.51,283.13 L313.85,283.16 L314.20,283.19 L314.54,283.22 L314.88,283.25 L315.23,283.28 L315.57,283.32 L315.91,283.35 L316.26,283.38 L316.60,283.42 L316.94,283.45 L317.29,283.49 L317.63,283.52 L317.97,283.56 L318.32,283.60 L318.66,283.64 L319.00,283.68 L319.35,283.72 L319.69,283.77 L320.04,283.81 L320.38,283.85 L320.72,283.90 L321.07,283.94 L321.41,283.99 L321.75,284.04 L322.10,284.09 L322.44,284.14 L322.78,284.19 L323.13,284.24 L323.47,284.30 L323.81,284.35 L324.16,284.41 L324.50,284.46 L324.84,284.52 L325.19,284.58 L325.53,284.64 L325.87,284.70 L326.22,284.77 L326.56,284.83 L326.90,284.90 L327.25,284.96 L327.59,285.03 L327.93,285.10 L328.28,285.17 L328.62,285.24 L328.96,285.32 L329.31,285.39 L329.65,285.47 L330.00,285.54 L330.34,285.62 L330.68,285.70 L331.03,285.79 L331.37,285.87 L331.71,285.95 L332.06,286.04 L332.40,286.13 L332.74,286.22 L333.09,286.31 L333.43,286.40 L333.77,286.50 L334.12,286.59 L334.46,286.69 L334.80,286.79 L335.15,286.89 L335.49,286.99 L335.83,287.10 L336.18,287.20 L336.52,287.31 L336.86,287.42 L337.21,287.53 L337.55,287.64 L337.89,287.75 L338.24,287.87 L338.58,287.98 L338.93,288.10 L339.27,288.22 L339.61,288.34 L339.96,288.46 L340.30,288.58 L340.64,288.71 L340.99,288.83 L341.33,288.96 L341.67,289.09 L342.02,289.22 L342.36,289.35 L342.70,289.48 L343.05,289.61 L343.39,289.74 L343.73,289.88 L344.08,290.02 L344.42,290.15 L344.76,290.29 L345.11,290.43 L345.45,290.57 L345.79,290.71 L346.14,290.85 L346.48,291.00 L346.82,291.14 L347.17,291.29 L347.51,291.43 L347.85,291.58 L348.20,291.73 L348.54,291.88 L348.89,292.02 L349.23,292.17 L349.57,292.33 L349.92,292.48 L350.26,292.63 L350.60,292.78 L350.95,292.94 L351.29,293.09 L351.63,293.25 L351.98,293.40 L352.32,293.56 L352.66,293.71 L353.01,293.87 L353.35,294.03 L353.69,294.19 L354.04,294.35 L354.38,294.51 L354.72,294.67 L355.07,294.83 L355.41,294.99 L355.75,295.15 L356.10,295.31 L356.44,295.47 L356.78,295.64 L357.13,295.80 L357.47,295.96 L357.82,296.12 L358.16,296.29 L358.50,296.45 L358.85,296.62 L359.19,296.78 L359.53,296.94 L359.88,297.11 L360.22,297.27 L360.56,297.44 L360.91,297.60 L361.25,297.77 L361.59,297.93 L361.94,298.10 L362.28,298.26 L362.62,298.43 L362.97,298.59 L363.31,298.76 L363.65,298.92 L364.00,299.09 L364.34,299.25 L364.68,299.42 L365.03,299.58 L365.37,299.75 L365.71,299.91 L366.06,300.08 L366.40,300.24 L366.74,300.40 L367.09,300.57 L367.43,300.73 L367.78,300.89 L368.12,301.06 L368.46,301.22 L368.81,301.38 L369.15,301.55 L369.49,301.71 L369.84,301.87 L370.18,302.03 L370.52,302.20 L370.87,302.36 L371.21,302.52 L371.55,302.68 L371.90,302.85 L372.24,303.01 L372.58,303.17 L372.93,303.33 L373.27,303.49 L373.61,303.66 L373.96,303.82 L374.30,303.98 L374.64,304.14 L374.99,304.30 L375.33,304.47 L375.67,304.63 L376.02,304.79 L376.36,304.95 L376.71,305.11 L377.05,305.27 L377.39,305.44 L377.74,305.60 L378.08,305.76 L378.42,305.92 L378.77,306.08 L379.11,306.24 L379.45,306.41 L379.80,306.57 L380.14,306.73 L380.48,306.89 L380.83,307.05 L381.17,307.22 L381.51,307.38 L381.86,307.54 L382.20,307.70 L382.54,307.87 L382.89,308.03 L383.23,308.19 L383.57,308.35 L383.92,308.52 L384.26,308.68 L384.60,308.84 L384.95,309.01 L385.29,309.17 L385.63,309.33 L385.98,309.50 L386.32,309.66 L386.67,309.82 L387.01,309.99 L387.35,310.15 L387.70,310.31 L388.04,310.48 L388.38,310.64 L388.73,310.81 L389.07,310.97 L389.41,311.14 L389.76,311.30 L390.10,311.47 L390.44,311.63 L390.79,311.80 L391.13,311.96 L391.47,312.13 L391.82,312.30 L392.16,312.46 L392.50,312.63 L392.85,312.79 L393.19,312.96 L393.53,313.13 L393.88,313.29 L394.22,313.46 L394.56,313.63 L394.91,313.80 L395.25,313.96 L395.60,314.13 L395.94,314.30 L396.28,314.47 L396.63,314.63 L396.97,314.80 L397.31,314.97 L397.66,315.14 L398.00,315.31 L398.34,315.47 L398.69,315.64 L399.03,315.81 L399.37,315.98 L399.72,316.15 L400.06,316.32 L400.40,316.49 L400.75,316.66 L401.09,316.83 L401.43,317.00 L401.78,317.17 L402.12,317.34 L402.46,317.51 L402.81,317.68 L403.15,317.85 L403.49,318.02 L403.84,318.19 L404.18,318.36 L404.52,318.53 L404.87,318.70 L405.21,318.87 L405.56,319.04 L405.90,319.22 L406.24,319.39 L406.59,319.56 L406.93,319.73 L407.27,319.90 L407.62,320.07 L407.96,320.25 L408.30,320.42 L408.65,320.59 L408.99,320.76 L409.33,320.93 L409.68,321.11 L410.02,321.28 L410.36,321.45 L410.71,321.63 L411.05,321.80 L411.39,321.97 L411.74,322.14 L412.08,322.32 L412.42,322.49 L412.77,322.66 L413.11,322.84 L413.45,323.01 L413.80,323.19 L414.14,323.36 L414.49,323.53 L414.83,323.71 L415.17,323.88 L415.52,324.06 L415.86,324.23 L416.20,324.41 L416.55,324.58 L416.89,324.75 L417.23,324.93 L417.58,325.10 L417.92,325.28 L418.26,325.45 L418.61,325.63 L418.95,325.80 L419.29,325.98 L419.64,326.16 L419.98,326.33 L420.32,326.51 L420.67,326.68 L421.01,326.86 L421.35,327.03 L421.70,327.21 L422.04,327.39 L422.38,327.56 L422.73,327.74 L423.07,327.91 L423.41,328.09 L423.76,328.27 L424.10,328.44 L424.45,328.62 L424.79,328.80 L425.13,328.97 L425.48,329.15 L425.82,329.33 L426.16,329.50 L426.51,329.68 L426.85,329.86 L427.19,330.04 L427.54,330.21 L427.88,330.39 L428.22,330.57 L428.57,330.75 L428.91,330.92 L429.25,331.10 L429.60,331.28 L429.94,331.46 L430.28,331.63 L430.63,331.81 L430.97,331.99 L431.31,332.17 L431.66,332.35 L432.00,332.52 L432.34,332.70 L432.69,332.88 L433.03,333.06 L433.38,333.24 L433.72,333.42 L434.06,333.59 L434.41,333.77 L434.75,333.95 L435.09,334.13 L435.44,334.31 L435.78,334.49 L436.12,334.67 L436.47,334.85 L436.81,335.02 L437.15,335.20 L437.50,335.38 L437.84,335.56 L438.18,335.74 L438.53,335.92 L438.87,336.10 L439.21,336.28 L439.56,336.46 L439.90,336.64 L440.24,336.82 L440.59,337.00 L440.93,337.18 L441.27,337.36 L441.62,337.54 L441.96,337.72 L442.30,337.90 L442.65,338.07 L442.99,338.25 L443.34,338.43 L443.68,338.61 L444.02,338.79 L444.37,338.97 L444.71,339.15 L445.05,339.33 L445.40,339.51 L445.74,339.70 L446.08,339.88 L446.43,340.06 L446.77,340.24 L447.11,340.42 L447.46,340.60 L447.80,340.78 L448.14,340.96 L448.49,341.14 L448.83,341.32 L449.17,341.50 L449.52,341.68 L449.86,341.86 L450.20,342.04 L450.55,342.22 L450.89,342.40 L451.23,342.58 L451.58,342.76 L451.92,342.94 L452.27,343.12 L452.61,343.30 L452.95,343.49 L453.30,343.67 L453.64,343.85 L453.98,344.03 L454.33,344.21 L454.67,344.39 L455.01,344.57 L455.36,344.75 L455.70,344.93 L456.04,345.11 L456.39,345.29 L456.73,345.48 L457.07,345.66 L457.42,345.84 L457.76,346.02 L458.10,346.20 L458.45,346.38 L458.79,346.56 L459.13,346.74 L459.48,346.92 L459.82,347.10 L460.16,347.29 L460.51,347.47 L460.85,347.65 L461.19,347.83 L461.54,348.01 L461.88,348.19 L462.23,348.37 L462.57,348.55 L462.91,348.73 L463.26,348.92 L463.60,349.10 L463.94,349.28 L464.29,349.46 L464.63,349.64 L464.97,349.82 L465.32,350.00 L465.66,350.18 L466.00,350.36 L466.35,350.55 L466.69,350.73 L467.03,350.91 L467.38,351.09 L467.72,351.27 L468.06,351.45 L468.41,351.63 L468.75,351.81 L469.09,351.99 L469.44,352.17 L469.78,352.36 L470.12,352.54 L470.47,352.72 L470.81,352.90 L471.16,353.08 L471.50,353.26 L471.84,353.44 L472.19,353.62 L472.53,353.80 L472.87,353.98 L473.22,354.16 L473.56,354.35 L473.90,354.53 L474.25,354.71 L474.59,354.89 L474.93,355.07 L475.28,355.25 L475.62,355.43 L475.96,355.61 L476.31,355.79 L476.65,355.97 L476.99,356.15 L477.34,356.33 L477.68,356.51 L478.02,356.69 L478.37,356.87 L478.71,357.05 L479.05,357.23 L479.40,357.41 L479.74,357.60 L480.08,357.78 L480.43,357.96 L480.77,358.14 L481.12,358.32 L481.46,358.50 L481.80,358.68 L482.15,358.86 L482.49,359.04 L482.83,359.22 L483.18,359.40 L483.52,359.58 L483.86,359.76 L484.21,359.94 L484.55,360.12 L484.89,360.30 L485.24,360.48 L485.58,360.66 L485.92,360.83 L486.27,361.01 L486.61,361.19 L486.95,361.37 L487.30,361.55 L487.64,361.73 L487.98,361.91 L488.33,362.09 L488.67,362.27 L489.01,362.45 L489.36,362.63 L489.70,362.81 L490.05,362.99 L490.39,363.17 L490.73,363.34 L491.08,363.52 L491.42,363.70 L491.76,363.88 L492.11,364.06 L492.45,364.24 L492.79,364.42 L493.14,364.59 L493.48,364.77 L493.82,364.95 L494.17,365.13 L494.51,365.31 L494.85,365.49 L495.20,365.66 L495.54,365.84 L495.88,366.02 L496.23,366.20 L496.57,366.38 L496.91,366.55 L497.26,366.73 L497.60,366.91 L497.94,367.09 L498.29,367.26 L498.63,367.44 L498.97,367.62 L499.32,367.80 L499.66,367.97 L500.01,368.15 L500.35,368.33 L500.69,368.51 L501.04,368.68 L501.38,368.86 L501.72,369.04 L502.07,369.21 L502.41,369.39 L502.75,369.57 L503.10,369.74 L503.44,369.92 L503.78,370.10 L504.13,370.27 L504.47,370.45 L504.81,370.62 L505.16,370.80 L505.50,370.98 L505.84,371.15 L506.19,371.33 L506.53,371.50 L506.87,371.68 L507.22,371.85 L507.56,372.03 L507.90,372.20 L508.25,372.38 L508.59,372.55 L508.93,372.73 L509.28,372.90 L509.62,373.08 L509.97,373.25 L510.31,373.43 L510.65,373.60 L511.00,373.78 L511.34,373.95 L511.68,374.13 L512.03,374.30 L512.37,374.47 L512.71,374.65 L513.06,374.82 L513.40,375.00 L513.74,375.17 L514.09,375.34 L514.43,375.52 L514.77,375.69 L515.12,375.86 L515.46,376.04 L515.80,376.21 L516.15,376.38 L516.49,376.55 L516.83,376.73 L517.18,376.90 L517.52,377.07 L517.86,377.25 L518.21,377.42 L518.55,377.59 L518.90,377.76 L519.24,377.93 L519.58,378.11 L519.93,378.28 L520.27,378.45 L520.61,378.62 L520.96,378.79 L521.30,378.96 L521.64,379.13 L521.99,379.30 L522.33,379.48 L522.67,379.65 L523.02,379.82 L523.36,379.99 L523.70,380.16 L524.05,380.33 L524.39,380.50 L524.73,380.67 L525.08,380.84 L525.42,381.01 L525.76,381.18 L526.11,381.35 L526.45,381.52 L526.79,381.69 L527.14,381.86 L527.48,382.02 L527.82,382.19 L528.17,382.36 L528.51,382.53 L528.86,382.70 L529.20,382.87 L529.54,383.04 L529.89,383.20 L530.23,383.37 L530.57,383.54 L530.92,383.71 L531.26,383.88 L531.60,384.05 L531.95,384.21 L532.29,384.38 L532.63,384.55 L532.98,384.72 L533.32,384.88 L533.66,385.05 L534.01,385.22 L534.35,385.39 L534.69,385.55 L535.04,385.72 L535.38,385.89 L535.72,386.05 L536.07,386.22 L536.41,386.39 L536.75,386.55 L537.10,386.72 L537.44,386.89 L537.79,387.05 L538.13,387.22 L538.47,387.39 L538.82,387.55 L539.16,387.72 L539.50,387.89 L539.85,388.05 L540.19,388.22 L540.53,388.39 L540.88,388.55 L541.22,388.72 L541.56,388.88 L541.91,389.05 L542.25,389.22 L542.59,389.38 L542.94,389.55 L543.28,389.72 L543.62,389.88 L543.97,390.05 L544.31,390.21 L544.65,390.38 L545.00,390.55 L545.34,390.71 L545.68,390.88 L546.03,391.04 L546.37,391.21 L546.71,391.38 L547.06,391.54 L547.40,391.71 L547.75,391.88 L548.09,392.04 L548.43,392.21 L548.78,392.37 L549.12,392.54 L549.46,392.71 L549.81,392.87 L550.15,393.04 L550.49,393.21 L550.84,393.37 L551.18,393.54 L551.52,393.70 L551.87,393.87 L552.21,394.04 L552.55,394.20 L552.90,394.37 L553.24,394.54 L553.58,394.70 L553.93,394.87 L554.27,395.04 L554.61,395.20 L554.96,395.37 L555.30,395.54 L555.64,395.71 L555.99,395.87 L556.33,396.04 L556.68,396.21 L557.02,396.37 L557.36,396.54 L557.71,396.71 L558.05,396.88 L558.39,397.04 L558.74,397.21 L559.08,397.38 L559.42,397.55 L559.77,397.72 L560.11,397.88 L560.45,398.05 L560.80,398.22 L561.14,398.39 L561.48,398.56 L561.83,398.73 L562.17,398.89 L562.51,399.06 L562.86,399.23 L563.20,399.40 L563.54,399.57 L563.89,399.74 L564.23,399.91 L564.57,400.08 L564.92,400.25 L565.26,400.42 L565.60,400.59 L565.95,400.76 L566.29,400.93 L566.64,401.10 L566.98,401.27 L567.32,401.44 L567.67,401.61 L568.01,401.78 L568.35,401.95 L568.70,402.12 L569.04,402.29 L569.38,402.47 L569.73,402.64 L570.07,402.81 L570.41,402.98 L570.76,403.15 L571.10,403.32 L571.44,403.50 L571.79,403.67 L572.13,403.84 L572.47,404.01 L572.82,404.19 L573.16,404.36 L573.50,404.53 L573.85,404.71 L574.19,404.88 L574.53,405.06 L574.88,405.23 L575.22,405.40 L575.57,405.58 L575.91,405.75 L576.25,405.93 L576.60,406.10 L576.94,406.28 L577.28,406.45 L577.63,406.63 L577.97,406.80 L578.31,406.98 L578.66,407.16 L579.00,407.33 L579.34,407.51 L579.69,407.69 L580.03,407.86 L580.37,408.04 L580.72,408.22 L581.06,408.40 L581.40,408.57 L581.75,408.75 L582.09,408.93 L582.43,409.11 L582.78,409.29 L583.12,409.47 L583.46,409.65 L583.81,409.83 L584.15,410.01 L584.49,410.19 L584.84,410.37 L585.18,410.55 L585.53,410.73 L585.87,410.91 L586.21,411.09 L586.56,411.27 L586.90,411.45 L587.24,411.64 L587.59,411.82 L587.93,412.00 L588.27,412.18 L588.62,412.37 L588.96,412.55 L589.30,412.73 L589.65,412.92 L589.99,413.10 L590.33,413.29 L590.68,413.47 L591.02,413.66 L591.36,413.84 L591.71,414.03 L592.05,414.21 L592.39,414.40 L592.74,414.59 L593.08,414.77 L593.42,414.96 L593.77,415.15 L594.11,415.34 L594.46,415.53 L594.80,415.71 L595.14,415.90 L595.49,416.09 L595.83,416.28 L596.17,416.47 L596.52,416.66 L596.86,416.85 L597.20,417.04 L597.55,417.23 L597.89,417.42 L598.23,417.62 L598.58,417.81 L598.92,418.00 L599.26,418.19 L599.61,418.39 L599.95,418.58 L600.29,418.77 L600.64,418.97 L600.98,419.16 L601.32,419.36 L601.67,419.55 L602.01,419.75 L602.35,419.94 L602.70,420.14 L603.04,420.34 L603.38,420.53 L603.73,420.73 L604.07,420.93 L604.42,421.13 L604.76,421.32 L605.10,421.52 L605.45,421.72 L605.79,421.92 L606.13,422.12 L606.48,422.32 L606.82,422.52 L607.16,422.72 L607.51,422.92 L607.85,423.13 L608.19,423.33 L608.54,423.53 L608.88,423.73 L609.22,423.94 L609.57,424.14 L609.91,424.35 L610.25,424.55 L610.60,424.75 L610.94,424.96 L611.28,425.17 L611.63,425.37 L611.97,425.58 L612.31,425.79 L612.66,425.99 L613.00,426.20 L613.35,426.41 L613.69,426.62 L614.03,426.83 L614.38,427.04 L614.72,427.25 L615.06,427.46 L615.41,427.67 L615.75,427.88 L616.09,428.09 L616.44,428.31 L616.78,428.52 L617.12,428.73 L617.47,428.94 L617.81,429.16 L618.15,429.37 L618.50,429.59 L618.84,429.80 L619.18,430.02 L619.53,430.24 L619.87,430.45 L620.21,430.67 L620.56,430.89 L620.90,431.11 L621.24,431.33 L621.59,431.55 L621.93,431.76 L622.27,431.98 L622.62,432.21 L622.96,432.43 L623.31,432.65 L623.65,432.87 L623.99,433.09 L624.34,433.32 L624.68,433.54 L625.02,433.76 L625.37,433.99 L625.71,434.21 L626.05,434.44 L626.40,434.67 L626.74,434.89 L627.08,435.12 L627.43,435.35 L627.77,435.58 L628.11,435.80 L628.46,436.03 L628.80,436.26 L629.14,436.49 L629.49,436.73 L629.83,436.96 L630.17,437.19 L630.52,437.42 L630.86,437.65 L631.20,437.89 L631.55,438.12 L631.89,438.36 L632.24,438.59 L632.58,438.83 L632.92,439.06 L633.27,439.30 L633.61,439.54 L633.95,439.78 L634.30,440.01 L634.64,440.25 L634.98,440.49 L635.33,440.73 L635.67,440.97 L636.01,441.21 L636.36,441.46 L636.70,441.70" stroke="#4389DC" stroke-width="3.1" stroke-dasharray="3.1 5.1" fill="none" style="mix-blend-mode:multiply"/>
<path d="M156.21,600.00 L156.55,600.00 L156.89,600.00 L157.24,600.00 L157.58,600.00 L157.92,600.00 L158.27,600.00 L158.61,600.00 L158.96,600.00 L159.30,600.00 L159.64,600.00 L159.99,600.00 L160.33,600.00 L160.67,600.00 L161.02,600.00 L161.36,600.00 L161.70,600.00 L162.05,600.00 L162.39,600.00 L162.73,600.00 L163.08,600.00 L163.42,600.00 L163.76,600.00 L164.11,600.00 L164.45,600.00 L164.79,600.00 L165.14,600.00 L165.48,600.00 L165.82,600.00 L166.17,600.00 L166.51,600.00 L166.85,600.00 L167.20,600.00 L167.54,600.00 L167.88,600.00 L168.23,600.00 L168.57,600.00 L168.92,600.00 L169.26,600.00 L169.60,600.00 L169.95,600.00 L170.29,600.00 L170.63,600.00 L170.98,600.00 L171.32,600.00 L171.66,600.00 L172.01,600.00 L172.35,600.00 L172.69,600.00 L173.04,600.00 L173.38,600.00 L173.72,600.00 L174.07,600.00 L174.41,600.00 L174.75,600.00 L175.10,600.00 L175.44,600.00 L175.78,600.00 L176.13,600.00 L176.47,600.00 L176.81,600.00 L177.16,600.00 L177.50,600.00 L177.85,600.00 L178.19,600.00 L178.53,600.00 L178.88,600.00 L179.22,600.00 L179.56,600.00 L179.91,600.00 L180.25,600.00 L180.59,600.00 L180.94,600.00 L181.28,600.00 L181.62,600.00 L181.97,600.00 L182.31,600.00 L182.65,600.00 L183.00,600.00 L183.34,600.00 L183.68,600.00 L184.03,600.00 L184.37,600.00 L184.71,600.00 L185.06,600.00 L185.40,600.00 L185.74,600.00 L186.09,600.00 L186.43,600.00 L186.77,600.00 L187.12,600.00 L187.46,600.00 L187.81,600.00 L188.15,600.00 L188.49,600.00 L188.84,600.00 L189.18,600.00 L189.52,600.00 L189.87,600.00 L190.21,600.00 L190.55,600.00 L190.90,600.00 L191.24,600.00 L191.58,600.00 L191.93,600.00 L192.27,600.00 L192.61,600.00 L192.96,600.00 L193.30,600.00 L193.64,600.00 L193.99,600.00 L194.33,600.00 L194.67,600.00 L195.02,600.00 L195.36,600.00 L195.70,600.00 L196.05,600.00 L196.39,600.00 L196.74,600.00 L197.08,600.00 L197.42,600.00 L197.77,600.00 L198.11,600.00 L198.45,600.00 L198.80,600.00 L199.14,600.00 L199.48,600.00 L199.83,600.00 L200.17,600.00 L200.51,600.00 L200.86,600.00 L201.20,600.00 L201.54,600.00 L201.89,600.00 L202.23,600.00 L202.57,600.00 L202.92,600.00 L203.26,600.00 L203.60,600.00 L203.95,600.00 L204.29,600.00 L204.63,600.00 L204.98,600.00 L205.32,600.00 L205.66,600.00 L206.01,600.00 L206.35,600.00 L206.70,600.00 L207.04,600.00 L207.38,600.00 L207.73,600.00 L208.07,600.00 L208.41,600.00 L208.76,600.00 L209.10,600.00 L209.44,600.00 L209.79,600.00 L210.13,600.00 L210.47,600.00 L210.82,600.00 L211.16,600.00 L211.50,600.00 L211.85,600.00 L212.19,600.00 L212.53,600.00 L212.88,600.00 L213.22,600.00 L213.56,600.00 L213.91,600.00 L214.25,475.51 L214.59,474.85 L214.94,474.20 L215.28,473.56 L215.62,472.93 L215.97,472.32 L216.31,471.72 L216.66,471.13 L217.00,470.56 L217.34,470.01 L217.69,469.47 L218.03,468.96 L218.37,468.46 L218.72,467.98 L219.06,467.52 L219.40,467.07 L219.75,466.63 L220.09,466.20 L220.43,465.78 L220.78,465.36 L221.12,464.95 L221.46,464.53 L221.81,464.12 L222.15,463.70 L222.49,463.27 L222.84,462.84 L223.18,462.39 L223.52,461.94 L223.87,461.47 L224.21,460.99 L224.55,460.50 L224.90,460.01 L225.24,459.53 L225.59,459.04 L225.93,458.56 L226.27,458.08 L226.62,457.62 L226.96,457.17 L227.30,456.74 L227.65,456.32 L227.99,455.93 L228.33,455.56 L228.68,455.20 L229.02,454.85 L229.36,454.51 L229.71,454.18 L230.05,453.85 L230.39,453.53 L230.74,453.22 L231.08,452.92 L231.42,452.62 L231.77,452.33 L232.11,452.05 L232.45,451.77 L232.80,451.50 L233.14,451.24 L233.48,450.98 L233.83,450.72 L234.17,450.48 L234.51,450.23 L234.86,449.99 L235.20,449.75 L235.55,449.52 L235.89,449.29 L236.23,449.06 L236.58,448.84 L236.92,448.62 L237.26,448.40 L237.61,448.19 L237.95,447.98 L238.29,447.78 L238.64,447.58 L238.98,447.39 L239.32,447.20 L239.67,447.01 L240.01,446.83 L240.35,446.66 L240.70,446.49 L241.04,446.32 L241.38,446.16 L241.73,446.01 L242.07,445.86 L242.41,445.71 L242.76,445.57 L243.10,445.44 L243.44,445.31 L243.79,445.18 L244.13,445.05 L244.48,444.93 L244.82,444.80 L245.16,444.68 L245.51,444.56 L245.85,444.45 L246.19,444.33 L246.54,444.21 L246.88,444.09 L247.22,443.98 L247.57,443.86 L247.91,443.74 L248.25,443.61 L248.60,443.49 L248.94,443.36 L249.28,443.23 L249.63,443.10 L249.97,442.96 L250.31,442.82 L250.66,442.68 L251.00,442.53 L251.34,442.39 L251.69,442.24 L252.03,442.10 L252.37,441.95 L252.72,441.81 L253.06,441.66 L253.40,441.52 L253.75,441.39 L254.09,441.25 L254.44,441.12 L254.78,440.99 L255.12,440.87 L255.47,440.75 L255.81,440.64 L256.15,440.53 L256.50,440.43 L256.84,440.33 L257.18,440.24 L257.53,440.15 L257.87,440.06 L258.21,439.97 L258.56,439.89 L258.90,439.81 L259.24,439.72 L259.59,439.64 L259.93,439.57 L260.27,439.49 L260.62,439.42 L260.96,439.34 L261.30,439.27 L261.65,439.20 L261.99,439.14 L262.33,439.07 L262.68,439.01 L263.02,438.95 L263.37,438.89 L263.71,438.84 L264.05,438.78 L264.40,438.73 L264.74,438.68 L265.08,438.63 L265.43,438.58 L265.77,438.54 L266.11,438.49 L266.46,438.44 L266.80,438.40 L267.14,438.35 L267.49,438.31 L267.83,438.27 L268.17,438.22 L268.52,438.18 L268.86,438.15 L269.20,438.11 L269.55,438.07 L269.89,438.04 L270.23,438.00 L270.58,437.97 L270.92,437.94 L271.26,437.91 L271.61,437.88 L271.95,437.86 L272.29,437.84 L272.64,437.81 L272.98,437.80 L273.33,437.78 L273.67,437.76 L274.01,437.74 L274.36,437.72 L274.70,437.70 L275.04,437.69 L275.39,437.67 L275.73,437.65 L276.07,437.63 L276.42,437.62 L276.76,437.60 L277.10,437.59 L277.45,437.58 L277.79,437.56 L278.13,437.55 L278.48,437.54 L278.82,437.53 L279.16,437.52 L279.51,437.52 L279.85,437.51 L280.19,437.51 L280.54,437.50 L280.88,437.50 L281.22,437.50 L281.57,437.50 L281.91,437.50 L282.26,437.50 L282.60,437.50 L282.94,437.50 L283.29,437.50 L283.63,437.50 L283.97,437.50 L284.32,437.50 L284.66,437.50 L285.00,437.50 L285.35,437.50 L285.69,437.50 L286.03,437.50 L286.38,437.50 L286.72,437.50 L287.06,437.50 L287.41,437.50 L287.75,437.50 L288.09,437.50 L288.44,437.50 L288.78,437.50 L289.12,437.50 L289.47,437.50 L289.81,437.50 L290.15,437.50 L290.50,437.51 L290.84,437.52 L291.18,437.52 L291.53,437.53 L291.87,437.54 L292.22,437.55 L292.56,437.57 L292.90,437.58 L293.25,437.59 L293.59,437.61 L293.93,437.62 L294.28,437.64 L294.62,437.66 L294.96,437.67 L295.31,437.69 L295.65,437.71 L295.99,437.72 L296.34,437.74 L296.68,437.75 L297.02,437.77 L297.37,437.79 L297.71,437.80 L298.05,437.81 L298.40,437.83 L298.74,437.84 L299.08,437.86 L299.43,437.88 L299.77,437.89 L300.11,437.91 L300.46,437.92 L300.80,437.94 L301.15,437.96 L301.49,437.97 L301.83,437.99 L302.18,438.01 L302.52,438.02 L302.86,438.04 L303.21,438.06 L303.55,438.08 L303.89,438.09 L304.24,438.11 L304.58,438.13 L304.92,438.15 L305.27,438.17 L305.61,438.18 L305.95,438.20 L306.30,438.22 L306.64,438.24 L306.98,438.26 L307.33,438.28 L307.67,438.29 L308.01,438.31 L308.36,438.33 L308.70,438.35 L309.04,438.37 L309.39,438.39 L309.73,438.40 L310.07,438.42 L310.42,438.44 L310.76,438.46 L311.11,438.48 L311.45,438.51 L311.79,438.53 L312.14,438.55 L312.48,438.57 L312.82,438.60 L313.17,438.62 L313.51,438.65 L313.85,438.67 L314.20,438.70 L314.54,438.73 L314.88,438.76 L315.23,438.79 L315.57,438.82 L315.91,438.86 L316.26,438.89 L316.60,438.93 L316.94,438.97 L317.29,439.01 L317.63,439.05 L317.97,439.09 L318.32,439.13 L318.66,439.18 L319.00,439.22 L319.35,439.26 L319.69,439.31 L320.04,439.36 L320.38,439.40 L320.72,439.45 L321.07,439.50 L321.41,439.55 L321.75,439.59 L322.10,439.64 L322.44,439.69 L322.78,439.74 L323.13,439.79 L323.47,439.84 L323.81,439.89 L324.16,439.94 L324.50,440.00 L324.84,440.05 L325.19,440.10 L325.53,440.16 L325.87,440.21 L326.22,440.27 L326.56,440.33 L326.90,440.39 L327.25,440.45 L327.59,440.51 L327.93,440.57 L328.28,440.64 L328.62,440.70 L328.96,440.77 L329.31,440.83 L329.65,440.90 L330.00,440.97 L330.34,441.04 L330.68,441.12 L331.03,441.19 L331.37,441.27 L331.71,441.35 L332.06,441.43 L332.40,441.52 L332.74,441.61 L333.09,441.69 L333.43,441.79 L333.77,441.88 L334.12,441.97 L334.46,442.07 L334.80,442.17 L335.15,442.27 L335.49,442.37 L335.83,442.47 L336.18,442.57 L336.52,442.68 L336.86,442.78 L337.21,442.89 L337.55,443.00 L337.89,443.11 L338.24,443.22 L338.58,443.33 L338.93,443.44 L339.27,443.55 L339.61,443.67 L339.96,443.78 L340.30,443.90 L340.64,444.03 L340.99,444.15 L341.33,444.27 L341.67,444.40 L342.02,444.53 L342.36,444.66 L342.70,444.79 L343.05,444.92 L343.39,445.06 L343.73,445.19 L344.08,445.33 L344.42,445.47 L344.76,445.61 L345.11,445.75 L345.45,445.89 L345.79,446.03 L346.14,446.17 L346.48,446.32 L346.82,446.47 L347.17,446.62 L347.51,446.78 L347.85,446.93 L348.20,447.09 L348.54,447.26 L348.89,447.42 L349.23,447.59 L349.57,447.76 L349.92,447.92 L350.26,448.09 L350.60,448.26 L350.95,448.43 L351.29,448.60 L351.63,448.77 L351.98,448.94 L352.32,449.11 L352.66,449.27 L353.01,449.44 L353.35,449.60 L353.69,449.76 L354.04,449.92 L354.38,450.07 L354.72,450.23 L355.07,450.38 L355.41,450.54 L355.75,450.69 L356.10,450.84 L356.44,451.00 L356.78,451.15 L357.13,451.30 L357.47,451.45 L357.82,451.60 L358.16,451.75 L358.50,451.90 L358.85,452.05 L359.19,452.20 L359.53,452.35 L359.88,452.50 L360.22,452.65 L360.56,452.80 L360.91,452.94 L361.25,453.09 L361.59,453.24 L361.94,453.39 L362.28,453.53 L362.62,453.68 L362.97,453.82 L363.31,453.96 L363.65,454.10 L364.00,454.24 L364.34,454.38 L364.68,454.52 L365.03,454.66 L365.37,454.80 L365.71,454.94 L366.06,455.09 L366.40,455.23 L366.74,455.37 L367.09,455.52 L367.43,455.66 L367.78,455.81 L368.12,455.96 L368.46,456.11 L368.81,456.27 L369.15,456.42 L369.49,456.58 L369.84,456.74 L370.18,456.91 L370.52,457.08 L370.87,457.25 L371.21,457.42 L371.55,457.59 L371.90,457.77 L372.24,457.95 L372.58,458.12 L372.93,458.30 L373.27,458.48 L373.61,458.65 L373.96,458.83 L374.30,459.01 L374.64,459.18 L374.99,459.36 L375.33,459.53 L375.67,459.70 L376.02,459.87 L376.36,460.03 L376.71,460.20 L377.05,460.36 L377.39,460.51 L377.74,460.67 L378.08,460.82 L378.42,460.97 L378.77,461.13 L379.11,461.28 L379.45,461.42 L379.80,461.57 L380.14,461.72 L380.48,461.87 L380.83,462.02 L381.17,462.17 L381.51,462.33 L381.86,462.48 L382.20,462.64 L382.54,462.80 L382.89,462.96 L383.23,463.12 L383.57,463.29 L383.92,463.46 L384.26,463.63 L384.60,463.81 L384.95,463.98 L385.29,464.16 L385.63,464.35 L385.98,464.53 L386.32,464.71 L386.67,464.90 L387.01,465.09 L387.35,465.28 L387.70,465.47 L388.04,465.66 L388.38,465.86 L388.73,466.05 L389.07,466.25 L389.41,466.45 L389.76,466.65 L390.10,466.86 L390.44,467.06 L390.79,467.27 L391.13,467.47 L391.47,467.68 L391.82,467.89 L392.16,468.10 L392.50,468.31 L392.85,468.53 L393.19,468.74 L393.53,468.96 L393.88,469.19 L394.22,469.41 L394.56,469.64 L394.91,469.86 L395.25,470.09 L395.60,470.33 L395.94,470.56 L396.28,470.80 L396.63,471.03 L396.97,471.27 L397.31,471.51 L397.66,471.76 L398.00,472.00 L398.34,600.00 L398.69,600.00 L399.03,600.00 L399.37,600.00 L399.72,600.00 L400.06,600.00 L400.40,600.00 L400.75,600.00 L401.09,600.00 L401.43,600.00 L401.78,600.00 L402.12,600.00 L402.46,600.00 L402.81,600.00 L403.15,600.00 L403.49,600.00 L403.84,600.00 L404.18,600.00 L404.52,600.00 L404.87,600.00 L405.21,600.00 L405.56,600.00 L405.90,600.00 L406.24,600.00 L406.59,600.00 L406.93,600.00 L407.27,600.00 L407.62,600.00 L407.96,600.00 L408.30,600.00 L408.65,600.00 L408.99,600.00 L409.33,600.00 L409.68,600.00 L410.02,600.00 L410.36,600.00 L410.71,600.00 L411.05,600.00 L411.39,600.00 L411.74,600.00 L412.08,600.00 L412.42,600.00 L412.77,600.00 L413.11,600.00 L413.45,600.00 L413.80,600.00 L414.14,600.00 L414.49,600.00 L414.83,600.00 L415.17,600.00 L415.52,600.00 L415.86,600.00 L416.20,600.00 L416.55,600.00 L416.89,600.00 L417.23,600.00 L417.58,600.00 L417.92,600.00 L418.26,600.00 L418.61,600.00 L418.95,600.00 L419.29,600.00 L419.64,600.00 L419.98,600.00 L420.32,600.00 L420.67,600.00 L421.01,600.00 L421.35,600.00 L421.70,600.00 L422.04,600.00 L422.38,600.00 L422.73,600.00 L423.07,600.00 L423.41,600.00 L423.76,600.00 L424.10,600.00 L424.45,600.00 L424.79,600.00 L425.13,600.00 L425.48,600.00 L425.82,600.00 L426.16,600.00 L426.51,600.00 L426.85,600.00 L427.19,600.00 L427.54,600.00 L427.88,600.00 L428.22,600.00 L428.57,600.00 L428.91,600.00 L429.25,600.00 L429.60,600.00 L429.94,600.00 L430.28,600.00 L430.63,600.00 L430.97,600.00 L431.31,600.00 L431.66,600.00 L432.00,600.00 L432.34,600.00 L432.69,600.00 L433.03,600.00 L433.38,600.00 L433.72,600.00 L434.06,600.00 L434.41,600.00 L434.75,600.00 L435.09,600.00 L435.44,600.00 L435.78,600.00 L436.12,600.00 L436.47,600.00 L436.81,600.00 L437.15,600.00 L437.50,600.00 L437.84,600.00 L438.18,600.00 L438.53,600.00 L438.87,600.00 L439.21,600.00 L439.56,600.00 L439.90,600.00 L440.24,600.00 L440.59,600.00 L440.93,600.00 L441.27,600.00 L441.62,600.00 L441.96,600.00 L442.30,600.00 L442.65,600.00 L442.99,600.00 L443.34,600.00 L443.68,600.00 L444.02,600.00 L444.37,600.00 L444.71,600.00 L445.05,600.00 L445.40,600.00 L445.74,600.00 L446.08,600.00 L446.43,600.00 L446.77,600.00 L447.11,600.00 L447.46,600.00 L447.80,600.00 L448.14,600.00 L448.49,600.00 L448.83,600.00 L449.17,600.00 L449.52,600.00 L449.86,600.00 L450.20,600.00 L450.55,600.00 L450.89,600.00 L451.23,600.00 L451.58,600.00 L451.92,600.00 L452.27,600.00 L452.61,600.00 L452.95,600.00 L453.30,600.00 L453.64,600.00 L453.98,600.00 L454.33,600.00 L454.67,600.00 L455.01,600.00 L455.36,600.00 L455.70,600.00 L456.04,600.00 L456.39,600.00 L456.73,600.00 L457.07,600.00 L457.42,600.00 L457.76,600.00 L458.10,600.00 L458.45,600.00 L458.79,600.00 L459.13,600.00 L459.48,600.00 L459.82,600.00 L460.16,600.00 L460.51,600.00 L460.85,600.00 L461.19,600.00 L461.54,600.00 L461.88,600.00 L462.23,600.00 L462.57,600.00 L462.91,600.00 L463.26,600.00 L463.60,600.00 L463.94,600.00 L464.29,600.00 L464.63,600.00 L464.97,600.00 L465.32,600.00 L465.66,600.00 L466.00,600.00 L466.35,600.00 L466.69,600.00 L467.03,600.00 L467.38,600.00 L467.72,600.00 L468.06,600.00 L468.41,600.00 L468.75,600.00 L469.09,600.00 L469.44,600.00 L469.78,600.00 L470.12,600.00 L470.47,600.00 L470.81,600.00 L471.16,600.00 L471.50,600.00 L471.84,600.00 L472.19,600.00 L472.53,600.00 L472.87,600.00 L473.22,600.00 L473.56,600.00 L473.90,600.00 L474.25,600.00 L474.59,600.00 L474.93,600.00 L475.28,600.00 L475.62,600.00 L475.96,600.00 L476.31,600.00 L476.65,600.00 L476.99,600.00 L477.34,600.00 L477.68,600.00 L478.02,600.00 L478.37,600.00 L478.71,600.00 L479.05,600.00 L479.40,600.00 L479.74,600.00 L480.08,600.00 L480.43,600.00 L480.77,600.00 L481.12,600.00 L481.46,600.00 L481.80,600.00 L482.15,600.00 L482.49,600.00 L482.83,600.00 L483.18,600.00 L483.52,600.00 L483.86,600.00 L484.21,600.00 L484.55,600.00 L484.89,600.00 L485.24,600.00 L485.58,600.00 L485.92,600.00 L486.27,600.00 L486.61,600.00 L486.95,600.00 L487.30,600.00 L487.64,600.00 L487.98,600.00 L488.33,600.00 L488.67,600.00 L489.01,600.00 L489.36,600.00 L489.70,600.00 L490.05,600.00 L490.39,600.00 L490.73,600.00 L491.08,600.00 L491.42,600.00 L491.76,600.00 L492.11,600.00 L492.45,600.00 L492.79,600.00 L493.14,600.00 L493.48,600.00 L493.82,600.00 L494.17,600.00 L494.51,600.00 L494.85,600.00 L495.20,600.00 L495.54,600.00 L495.88,600.00 L496.23,600.00 L496.57,600.00 L496.91,600.00 L497.26,600.00 L497.60,600.00 L497.94,600.00 L498.29,600.00 L498.63,600.00 L498.97,600.00 L499.32,600.00 L499.66,600.00 L500.01,600.00 L500.35,600.00 L500.69,600.00 L501.04,600.00 L501.38,600.00 L501.72,600.00 L502.07,600.00 L502.41,600.00 L502.75,600.00 L503.10,600.00 L503.44,600.00 L503.78,600.00 L504.13,600.00 L504.47,600.00 L504.81,600.00 L505.16,600.00 L505.50,600.00 L505.84,600.00 L506.19,600.00 L506.53,600.00 L506.87,600.00 L507.22,600.00 L507.56,600.00 L507.90,600.00 L508.25,600.00 L508.59,600.00 L508.93,600.00 L509.28,600.00 L509.62,600.00 L509.97,600.00 L510.31,600.00 L510.65,600.00 L511.00,600.00 L511.34,600.00 L511.68,600.00 L512.03,600.00 L512.37,600.00 L512.71,600.00 L513.06,600.00 L513.40,600.00 L513.74,600.00 L514.09,600.00 L514.43,600.00 L514.77,600.00 L515.12,600.00 L515.46,600.00 L515.80,600.00 L516.15,600.00 L516.49,600.00 L516.83,600.00 L517.18,600.00 L517.52,600.00 L517.86,600.00 L518.21,600.00 L518.55,600.00 L518.90,600.00 L519.24,600.00 L519.58,600.00 L519.93,600.00 L520.27,600.00 L520.61,600.00 L520.96,600.00 L521.30,600.00 L521.64,600.00 L521.99,600.00 L522.33,600.00 L522.67,600.00 L523.02,600.00 L523.36,600.00 L523.70,600.00 L524.05,600.00 L524.39,600.00 L524.73,600.00 L525.08,600.00 L525.42,600.00 L525.76,600.00 L526.11,600.00 L526.45,600.00 L526.79,600.00 L527.14,600.00 L527.48,600.00 L527.82,600.00 L528.17,600.00 L528.51,600.00 L528.86,600.00 L529.20,600.00 L529.54,600.00 L529.89,600.00 L530.23,600.00 L530.57,600.00 L530.92,600.00 L531.26,600.00 L531.60,600.00 L531.95,600.00 L532.29,600.00 L532.63,600.00 L532.98,600.00 L533.32,600.00 L533.66,600.00 L534.01,600.00 L534.35,600.00 L534.69,600.00 L535.04,600.00 L535.38,600.00 L535.72,600.00 L536.07,600.00 L536.41,600.00 L536.75,600.00 L537.10,600.00 L537.44,600.00 L537.79,600.00 L538.13,600.00 L538.47,600.00 L538.82,600.00 L539.16,600.00 L539.50,600.00 L539.85,600.00 L540.19,600.00 L540.53,600.00 L540.88,600.00 L541.22,600.00 L541.56,600.00 L541.91,600.00 L542.25,600.00 L542.59,600.00 L542.94,600.00 L543.28,600.00 L543.62,600.00 L543.97,600.00 L544.31,600.00 L544.65,600.00 L545.00,600.00 L545.34,600.00 L545.68,600.00 L546.03,600.00 L546.37,600.00 L546.71,600.00 L547.06,600.00 L547.40,600.00 L547.75,600.00 L548.09,600.00 L548.43,600.00 L548.78,600.00 L549.12,600.00 L549.46,600.00 L549.81,600.00 L550.15,600.00 L550.49,600.00 L550.84,600.00 L551.18,600.00 L551.52,600.00 L551.87,600.00 L552.21,600.00 L552.55,600.00 L552.90,600.00 L553.24,600.00 L553.58,600.00 L553.93,600.00 L554.27,600.00 L554.61,600.00 L554.96,600.00 L555.30,600.00 L555.64,600.00 L555.99,600.00 L556.33,600.00 L556.68,600.00 L557.02,600.00 L557.36,600.00 L557.71,600.00 L558.05,600.00 L558.39,600.00 L558.74,600.00 L559.08,600.00 L559.42,600.00 L559.77,600.00 L560.11,600.00 L560.45,600.00 L560.80,600.00 L561.14,600.00 L561.48,600.00 L561.83,600.00 L562.17,600.00 L562.51,600.00 L562.86,600.00 L563.20,600.00 L563.54,600.00 L563.89,600.00 L564.23,600.00 L564.57,600.00 L564.92,600.00 L565.26,600.00 L565.60,600.00 L565.95,600.00 L566.29,600.00 L566.64,600.00 L566.98,600.00 L567.32,600.00 L567.67,600.00 L568.01,600.00 L568.35,600.00 L568.70,600.00 L569.04,600.00 L569.38,600.00 L569.73,600.00 L570.07,600.00 L570.41,600.00 L570.76,600.00 L571.10,600.00 L571.44,600.00 L571.79,600.00 L572.13,600.00 L572.47,600.00 L572.82,600.00 L573.16,600.00 L573.50,600.00 L573.85,600.00 L574.19,600.00 L574.53,600.00 L574.88,600.00 L575.22,600.00 L575.57,600.00 L575.91,600.00 L576.25,600.00 L576.60,600.00 L576.94,600.00 L577.28,600.00 L577.63,600.00 L577.97,600.00 L578.31,600.00 L578.66,600.00 L579.00,600.00 L579.34,600.00 L579.69,600.00 L580.03,600.00 L580.37,600.00 L580.72,600.00 L581.06,600.00 L581.40,600.00 L581.75,600.00 L582.09,600.00 L582.43,600.00 L582.78,600.00 L583.12,600.00 L583.46,600.00 L583.81,600.00 L584.15,600.00 L584.49,600.00 L584.84,600.00 L585.18,600.00 L585.53,600.00 L585.87,600.00 L586.21,600.00 L586.56,600.00 L586.90,600.00 L587.24,600.00 L587.59,600.00 L587.93,600.00 L588.27,600.00 L588.62,600.00 L588.96,600.00 L589.30,600.00 L589.65,600.00 L589.99,600.00 L590.33,600.00 L590.68,600.00 L591.02,600.00 L591.36,600.00 L591.71,600.00 L592.05,600.00 L592.39,600.00 L592.74,600.00 L593.08,600.00 L593.42,600.00 L593.77,600.00 L594.11,600.00 L594.46,600.00 L594.80,600.00 L595.14,600.00 L595.49,600.00 L595.83,600.00 L596.17,600.00 L596.52,600.00 L596.86,600.00 L597.20,600.00 L597.55,600.00 L597.89,600.00 L598.23,600.00 L598.58,600.00 L598.92,600.00 L599.26,600.00 L599.61,600.00 L599.95,600.00 L600.29,600.00 L600.64,600.00 L600.98,600.00 L601.32,600.00 L601.67,600.00 L602.01,600.00 L602.35,600.00 L602.70,600.00 L603.04,600.00 L603.38,600.00 L603.73,600.00 L604.07,600.00 L604.42,600.00 L604.76,600.00 L605.10,600.00 L605.45,600.00 L605.79,600.00 L606.13,600.00 L606.48,600.00 L606.82,600.00 L607.16,600.00 L607.51,600.00 L607.85,600.00 L608.19,600.00 L608.54,600.00 L608.88,600.00 L609.22,600.00 L609.57,600.00 L609.91,600.00 L610.25,600.00 L610.60,600.00 L610.94,600.00 L611.28,600.00 L611.63,600.00 L611.97,600.00 L612.31,600.00 L612.66,600.00 L613.00,600.00 L613.35,600.00 L613.69,600.00 L614.03,600.00 L614.38,600.00 L614.72,600.00 L615.06,600.00 L615.41,600.00 L615.75,600.00 L616.09,600.00 L616.44,600.00 L616.78,600.00 L617.12,600.00 L617.47,600.00 L617.81,600.00 L618.15,600.00 L618.50,600.00 L618.84,600.00 L619.18,600.00 L619.53,600.00 L619.87,600.00 L620.21,600.00 L620.56,600.00 L620.90,600.00 L621.24,600.00 L621.59,600.00 L621.93,600.00 L622.27,600.00 L622.62,600.00 L622.96,600.00 L623.31,600.00 L623.65,600.00 L623.99,600.00 L624.34,600.00 L624.68,600.00 L625.02,600.00 L625.37,600.00 L625.71,600.00 L626.05,600.00 L626.40,600.00 L626.74,600.00 L627.08,600.00 L627.43,600.00 L627.77,600.00 L628.11,600.00 L628.46,600.00 L628.80,600.00 L629.14,600.00 L629.49,600.00 L629.83,600.00 L630.17,600.00 L630.52,600.00 L630.86,600.00 L631.20,600.00 L631.55,600.00 L631.89,600.00 L632.24,600.00 L632.58,600.00 L632.92,600.00 L633.27,600.00 L633.61,600.00 L633.95,600.00 L634.30,600.00 L634.64,600.00 L634.98,600.00 L635.33,600.00 L635.67,600.00 L636.01,600.00 L636.36,600.00 L636.70,600.00" stroke="#C0C0C0" stroke-width="3.1" stroke-dasharray="3.1 5.1" fill="none"/>
</g>
<rect x="395" y="342" width="236" height="104" fill="#fff" fill-opacity="0.5"/>
<path d="M293.00,467.65V447.15M293.00,6.00V26.50M464.85,467.65V452.65M464.85,6.00V26.50M636.70,467.65V447.15M636.70,6.00V26.50" stroke="#000" stroke-width="3.85" fill="none"/>
<path d="M464.85,452.65V447.15" stroke="#8c8c8c" stroke-width="3.85" fill="none"/>
<path d="M172.88,467.65V455.55M172.88,6.00V18.10M203.14,467.65V455.55M203.14,6.00V18.10M224.61,467.65V455.55M224.61,6.00V18.10M241.27,467.65V455.55M241.27,6.00V18.10M254.88,467.65V455.55M254.88,6.00V18.10M266.38,467.65V455.55M266.38,6.00V18.10M276.35,467.65V455.55M276.35,6.00V18.10M285.14,467.65V455.55M285.14,6.00V18.10M344.73,467.65V455.55M344.73,6.00V18.10M374.99,467.65V455.55M374.99,6.00V18.10M396.46,467.65V455.55M396.46,6.00V18.10M413.12,467.65V455.55M413.12,6.00V18.10M426.73,467.65V455.55M426.73,6.00V18.10M438.23,467.65V455.55M438.23,6.00V18.10M448.20,467.65V455.55M448.20,6.00V18.10M456.99,467.65V455.55M456.99,6.00V18.10M516.58,467.65V455.55M516.58,6.00V18.10M546.84,467.65V455.55M546.84,6.00V18.10M568.31,467.65V455.55M568.31,6.00V18.10M584.97,467.65V455.55M584.97,6.00V18.10M598.58,467.65V455.55M598.58,6.00V18.10M610.08,467.65V455.55M610.08,6.00V18.10M620.05,467.65V455.55M620.05,6.00V18.10M628.84,467.65V455.55M628.84,6.00V18.10" stroke="#000" stroke-width="2.8" fill="none"/>
<path d="M132.00,52.15H153.00M660.40,52.15H639.40M132.00,144.45H153.00M660.40,144.45H639.40M132.00,236.75H153.00M660.40,236.75H639.40M132.00,329.05H153.00M660.40,329.05H639.40M132.00,421.35H153.00M660.40,421.35H639.40" stroke="#000" stroke-width="3.85" fill="none"/>
<rect x="132.00" y="6.00" width="528.40" height="461.65" fill="none" stroke="#000" stroke-width="3.9"/>
<text x="61.91" y="63.05" font-size="30.20" font-family="Liberation Sans, sans-serif" stroke="#000" stroke-width="0.60" stroke-linejoin="round" textLength="34.01" lengthAdjust="spacingAndGlyphs" >10</text>
<text x="95.81" y="54.15" font-size="22.00" font-family="Liberation Sans, sans-serif" stroke="#000" stroke-width="0.44" stroke-linejoin="round" textLength="22.53" lengthAdjust="spacingAndGlyphs" >−1</text>
<text x="58.87" y="155.35" font-size="30.20" font-family="Liberation Sans, sans-serif" stroke="#000" stroke-width="0.60" stroke-linejoin="round" textLength="34.57" lengthAdjust="spacingAndGlyphs" >10</text>
<text x="93.32" y="146.45" font-size="22.00" font-family="Liberation Sans, sans-serif" stroke="#000" stroke-width="0.44" stroke-linejoin="round" textLength="24.60" lengthAdjust="spacingAndGlyphs" >−3</text>
<text x="58.87" y="247.65" font-size="30.20" font-family="Liberation Sans, sans-serif" stroke="#000" stroke-width="0.60" stroke-linejoin="round" textLength="34.57" lengthAdjust="spacingAndGlyphs" >10</text>
<text x="93.32" y="238.75" font-size="22.00" font-family="Liberation Sans, sans-serif" stroke="#000" stroke-width="0.44" stroke-linejoin="round" textLength="24.54" lengthAdjust="spacingAndGlyphs" >−5</text>
<text x="58.87" y="339.95" font-size="30.20" font-family="Liberation Sans, sans-serif" stroke="#000" stroke-width="0.60" stroke-linejoin="round" textLength="34.57" lengthAdjust="spacingAndGlyphs" >10</text>
<text x="93.31" y="331.05" font-size="22.00" font-family="Liberation Sans, sans-serif" stroke="#000" stroke-width="0.44" stroke-linejoin="round" textLength="24.78" lengthAdjust="spacingAndGlyphs" >−7</text>
<text x="58.87" y="432.25" font-size="30.20" font-family="Liberation Sans, sans-serif" stroke="#000" stroke-width="0.60" stroke-linejoin="round" textLength="34.57" lengthAdjust="spacingAndGlyphs" >10</text>
<text x="93.32" y="423.35" font-size="22.00" font-family="Liberation Sans, sans-serif" stroke="#000" stroke-width="0.44" stroke-linejoin="round" textLength="24.66" lengthAdjust="spacingAndGlyphs" >−9</text>
<text x="264.38" y="505.60" font-size="30.20" font-family="Liberation Sans, sans-serif" stroke="#000" stroke-width="0.60" stroke-linejoin="round" textLength="34.35" lengthAdjust="spacingAndGlyphs" >10</text>
<text x="298.90" y="495.90" font-size="22.00" font-family="Liberation Sans, sans-serif" stroke="#000" stroke-width="0.44" stroke-linejoin="round" textLength="25.03" lengthAdjust="spacingAndGlyphs" >−6</text>
<text x="436.23" y="505.60" font-size="30.20" font-family="Liberation Sans, sans-serif" stroke="#000" stroke-width="0.60" stroke-linejoin="round" textLength="34.35" lengthAdjust="spacingAndGlyphs" >10</text>
<text x="470.75" y="495.90" font-size="22.00" font-family="Liberation Sans, sans-serif" stroke="#000" stroke-width="0.44" stroke-linejoin="round" textLength="24.97" lengthAdjust="spacingAndGlyphs" >−5</text>
<text x="608.08" y="505.60" font-size="30.20" font-family="Liberation Sans, sans-serif" stroke="#000" stroke-width="0.60" stroke-linejoin="round" textLength="34.35" lengthAdjust="spacingAndGlyphs" >10</text>
<text x="642.62" y="495.90" font-size="22.00" font-family="Liberation Sans, sans-serif" stroke="#000" stroke-width="0.44" stroke-linejoin="round" textLength="24.68" lengthAdjust="spacingAndGlyphs" >−4</text>
<text x="279.15" y="555.50" font-size="30.50" font-family="Liberation Sans, sans-serif" stroke="#000" stroke-width="0.61" stroke-linejoin="round" textLength="159.57" lengthAdjust="spacingAndGlyphs" >Wavelength</text>
<text x="449.07" y="555.50" font-size="30.50" font-family="Liberation Sans, sans-serif" stroke="#000" stroke-width="0.61" stroke-linejoin="round" textLength="7.61" lengthAdjust="spacingAndGlyphs" >(</text>
<text x="459.05" y="555.50" font-size="30.50" font-family="Liberation Sans, sans-serif" stroke="#000" stroke-width="0.61" stroke-linejoin="round" font-style="italic" textLength="44.94" lengthAdjust="spacingAndGlyphs" >μm</text>
<text x="507.83" y="555.50" font-size="30.50" font-family="Liberation Sans, sans-serif" stroke="#000" stroke-width="0.61" stroke-linejoin="round" textLength="7.61" lengthAdjust="spacingAndGlyphs" >)</text>
<clipPath id="clipb"><rect x="766.60" y="6.00" width="528.40" height="461.65"/></clipPath>
<g clip-path="url(#clipb)" stroke-linecap="butt">
<path d="M790.21,426.00 L790.55,424.46 L790.89,422.94 L791.24,421.42 L791.58,419.90 L791.92,418.39 L792.27,416.89 L792.61,415.39 L792.96,413.90 L793.30,412.41 L793.64,410.92 L793.99,409.44 L794.33,407.95 L794.67,406.48 L795.02,405.00 L795.36,403.52 L795.70,402.05 L796.05,400.57 L796.39,399.10 L796.73,397.62 L797.08,396.15 L797.42,394.67 L797.76,393.19 L798.11,391.71 L798.45,390.23 L798.79,388.75 L799.14,387.26 L799.48,385.77 L799.82,384.27 L800.17,382.77 L800.51,381.27 L800.85,379.76 L801.20,378.24 L801.54,376.72 L801.88,375.19 L802.23,373.66 L802.57,372.11 L802.92,370.56 L803.26,369.01 L803.60,367.44 L803.95,365.86 L804.29,364.28 L804.63,362.68 L804.98,361.08 L805.32,359.46 L805.66,357.84 L806.01,356.21 L806.35,354.57 L806.69,352.92 L807.04,351.27 L807.38,349.61 L807.72,347.95 L808.07,346.28 L808.41,344.61 L808.75,342.93 L809.10,341.25 L809.44,339.57 L809.78,337.89 L810.13,336.20 L810.47,334.52 L810.81,332.84 L811.16,331.17 L811.50,329.51 L811.85,327.88 L812.19,326.28 L812.53,324.70 L812.88,323.16 L813.22,321.66 L813.56,320.21 L813.91,318.81 L814.25,317.46 L814.59,316.16 L814.94,314.91 L815.28,313.70 L815.62,312.54 L815.97,311.42 L816.31,310.34 L816.65,309.29 L817.00,308.28 L817.34,307.30 L817.68,306.34 L818.03,305.41 L818.37,304.50 L818.71,303.61 L819.06,302.74 L819.40,301.89 L819.74,301.05 L820.09,300.21 L820.43,299.39 L820.77,298.58 L821.12,297.77 L821.46,296.96 L821.81,296.15 L822.15,295.35 L822.49,294.54 L822.84,293.73 L823.18,292.92 L823.52,292.10 L823.87,291.26 L824.21,290.42 L824.55,289.57 L824.90,288.70 L825.24,287.82 L825.58,286.92 L825.93,286.00 L826.27,285.06 L826.61,284.11 L826.96,283.15 L827.30,282.18 L827.64,281.19 L827.99,280.20 L828.33,279.19 L828.67,278.18 L829.02,277.16 L829.36,276.14 L829.70,275.11 L830.05,274.08 L830.39,273.04 L830.74,272.01 L831.08,270.98 L831.42,269.95 L831.77,268.92 L832.11,267.89 L832.45,266.87 L832.80,265.86 L833.14,264.85 L833.48,263.85 L833.83,262.87 L834.17,261.89 L834.51,260.92 L834.86,259.97 L835.20,259.04 L835.54,258.11 L835.89,257.21 L836.23,256.32 L836.57,255.46 L836.92,254.61 L837.26,253.78 L837.60,252.97 L837.95,252.18 L838.29,251.41 L838.63,250.66 L838.98,249.93 L839.32,249.22 L839.66,248.53 L840.01,247.86 L840.35,247.21 L840.70,246.58 L841.04,245.98 L841.38,245.39 L841.73,244.82 L842.07,244.27 L842.41,243.74 L842.76,243.23 L843.10,242.74 L843.44,242.27 L843.79,241.82 L844.13,241.38 L844.47,240.95 L844.82,240.54 L845.16,240.14 L845.50,239.74 L845.85,239.36 L846.19,238.98 L846.53,238.61 L846.88,238.24 L847.22,237.88 L847.56,237.51 L847.91,237.15 L848.25,236.78 L848.59,236.41 L848.94,236.04 L849.28,235.66 L849.62,235.28 L849.97,234.89 L850.31,234.49 L850.66,234.08 L851.00,233.67 L851.34,233.25 L851.69,232.82 L852.03,232.39 L852.37,231.95 L852.72,231.51 L853.06,231.07 L853.40,230.62 L853.75,230.17 L854.09,229.71 L854.43,229.25 L854.78,228.79 L855.12,228.33 L855.46,227.86 L855.81,227.39 L856.15,226.92 L856.49,226.45 L856.84,225.98 L857.18,225.52 L857.52,225.05 L857.87,224.58 L858.21,224.11 L858.55,223.64 L858.90,223.18 L859.24,222.72 L859.59,222.26 L859.93,221.80 L860.27,221.34 L860.62,220.89 L860.96,220.45 L861.30,220.01 L861.65,219.57 L861.99,219.14 L862.33,218.71 L862.68,218.29 L863.02,217.87 L863.36,217.46 L863.71,217.06 L864.05,216.67 L864.39,216.28 L864.74,215.90 L865.08,215.53 L865.42,215.17 L865.77,214.81 L866.11,214.47 L866.45,214.13 L866.80,213.80 L867.14,213.48 L867.48,213.17 L867.83,212.86 L868.17,212.57 L868.51,212.28 L868.86,211.99 L869.20,211.72 L869.55,211.45 L869.89,211.19 L870.23,210.93 L870.58,210.69 L870.92,210.44 L871.26,210.21 L871.61,209.98 L871.95,209.76 L872.29,209.54 L872.64,209.33 L872.98,209.13 L873.32,208.93 L873.67,208.73 L874.01,208.55 L874.35,208.36 L874.70,208.18 L875.04,208.01 L875.38,207.84 L875.73,207.68 L876.07,207.52 L876.41,207.37 L876.76,207.22 L877.10,207.07 L877.44,206.93 L877.79,206.79 L878.13,206.66 L878.48,206.53 L878.82,206.40 L879.16,206.28 L879.51,206.16 L879.85,206.04 L880.19,205.93 L880.54,205.82 L880.88,205.71 L881.22,205.60 L881.57,205.50 L881.91,205.40 L882.25,205.30 L882.60,205.21 L882.94,205.11 L883.28,205.02 L883.63,204.93 L883.97,204.84 L884.31,204.75 L884.66,204.66 L885.00,204.58 L885.34,204.49 L885.69,204.41 L886.03,204.33 L886.37,204.24 L886.72,204.16 L887.06,204.08 L887.40,204.00 L887.75,203.92 L888.09,203.84 L888.44,203.76 L888.78,203.68 L889.12,203.60 L889.47,203.52 L889.81,203.44 L890.15,203.36 L890.50,203.28 L890.84,203.20 L891.18,203.12 L891.53,203.05 L891.87,202.97 L892.21,202.89 L892.56,202.82 L892.90,202.74 L893.24,202.67 L893.59,202.59 L893.93,202.52 L894.27,202.45 L894.62,202.37 L894.96,202.30 L895.30,202.23 L895.65,202.16 L895.99,202.09 L896.33,202.02 L896.68,201.96 L897.02,201.89 L897.37,201.82 L897.71,201.76 L898.05,201.69 L898.40,201.63 L898.74,201.57 L899.08,201.51 L899.43,201.45 L899.77,201.39 L900.11,201.33 L900.46,201.27 L900.80,201.22 L901.14,201.16 L901.49,201.11 L901.83,201.05 L902.17,201.00 L902.52,200.95 L902.86,200.91 L903.20,200.86 L903.55,200.81 L903.89,200.77 L904.23,200.72 L904.58,200.68 L904.92,200.64 L905.26,200.60 L905.61,200.56 L905.95,200.52 L906.29,200.49 L906.64,200.45 L906.98,200.42 L907.33,200.38 L907.67,200.35 L908.01,200.32 L908.36,200.29 L908.70,200.26 L909.04,200.23 L909.39,200.21 L909.73,200.18 L910.07,200.16 L910.42,200.13 L910.76,200.11 L911.10,200.09 L911.45,200.07 L911.79,200.05 L912.13,200.03 L912.48,200.01 L912.82,199.99 L913.16,199.98 L913.51,199.96 L913.85,199.95 L914.19,199.93 L914.54,199.92 L914.88,199.91 L915.22,199.90 L915.57,199.89 L915.91,199.88 L916.26,199.87 L916.60,199.86 L916.94,199.85 L917.29,199.85 L917.63,199.84 L917.97,199.84 L918.32,199.83 L918.66,199.83 L919.00,199.83 L919.35,199.82 L919.69,199.82 L920.03,199.82 L920.38,199.82 L920.72,199.82 L921.06,199.82 L921.41,199.83 L921.75,199.83 L922.09,199.83 L922.44,199.83 L922.78,199.84 L923.12,199.84 L923.47,199.85 L923.81,199.85 L924.15,199.86 L924.50,199.87 L924.84,199.87 L925.18,199.88 L925.53,199.89 L925.87,199.90 L926.22,199.91 L926.56,199.92 L926.90,199.93 L927.25,199.94 L927.59,199.95 L927.93,199.96 L928.28,199.97 L928.62,199.98 L928.96,199.99 L929.31,200.00 L929.65,200.02 L929.99,200.03 L930.34,200.04 L930.68,200.06 L931.02,200.07 L931.37,200.08 L931.71,200.10 L932.05,200.11 L932.40,200.13 L932.74,200.14 L933.08,200.16 L933.43,200.17 L933.77,200.19 L934.11,200.20 L934.46,200.22 L934.80,200.23 L935.15,200.25 L935.49,200.26 L935.83,200.28 L936.18,200.30 L936.52,200.31 L936.86,200.33 L937.21,200.35 L937.55,200.36 L937.89,200.38 L938.24,200.40 L938.58,200.41 L938.92,200.43 L939.27,200.45 L939.61,200.47 L939.95,200.48 L940.30,200.50 L940.64,200.52 L940.98,200.54 L941.33,200.56 L941.67,200.58 L942.01,200.60 L942.36,200.62 L942.70,200.64 L943.04,200.66 L943.39,200.68 L943.73,200.71 L944.07,200.73 L944.42,200.75 L944.76,200.78 L945.11,200.80 L945.45,200.82 L945.79,200.85 L946.14,200.88 L946.48,200.90 L946.82,200.93 L947.17,200.96 L947.51,200.98 L947.85,201.01 L948.20,201.04 L948.54,201.07 L948.88,201.10 L949.23,201.13 L949.57,201.17 L949.91,201.20 L950.26,201.23 L950.60,201.27 L950.94,201.30 L951.29,201.34 L951.63,201.38 L951.97,201.41 L952.32,201.45 L952.66,201.49 L953.00,201.53 L953.35,201.57 L953.69,201.62 L954.04,201.66 L954.38,201.70 L954.72,201.75 L955.07,201.80 L955.41,201.84 L955.75,201.89 L956.10,201.94 L956.44,201.99 L956.78,202.04 L957.13,202.09 L957.47,202.15 L957.81,202.20 L958.16,202.26 L958.50,202.32 L958.84,202.37 L959.19,202.43 L959.53,202.49 L959.87,202.55 L960.22,202.62 L960.56,202.68 L960.90,202.75 L961.25,202.81 L961.59,202.88 L961.93,202.95 L962.28,203.02 L962.62,203.09 L962.96,203.16 L963.31,203.23 L963.65,203.31 L964.00,203.39 L964.34,203.46 L964.68,203.54 L965.03,203.62 L965.37,203.71 L965.71,203.79 L966.06,203.87 L966.40,203.96 L966.74,204.05 L967.09,204.14 L967.43,204.23 L967.77,204.32 L968.12,204.42 L968.46,204.51 L968.80,204.61 L969.15,204.71 L969.49,204.81 L969.83,204.91 L970.18,205.02 L970.52,205.12 L970.86,205.23 L971.21,205.34 L971.55,205.45 L971.89,205.56 L972.24,205.68 L972.58,205.79 L972.93,205.91 L973.27,206.02 L973.61,206.14 L973.96,206.26 L974.30,206.38 L974.64,206.51 L974.99,206.63 L975.33,206.76 L975.67,206.88 L976.02,207.01 L976.36,207.14 L976.70,207.27 L977.05,207.40 L977.39,207.53 L977.73,207.67 L978.08,207.80 L978.42,207.94 L978.76,208.07 L979.11,208.21 L979.45,208.35 L979.79,208.49 L980.14,208.63 L980.48,208.77 L980.82,208.92 L981.17,209.06 L981.51,209.20 L981.85,209.35 L982.20,209.50 L982.54,209.64 L982.89,209.79 L983.23,209.94 L983.57,210.09 L983.92,210.24 L984.26,210.39 L984.60,210.54 L984.95,210.69 L985.29,210.85 L985.63,211.00 L985.98,211.15 L986.32,211.31 L986.66,211.46 L987.01,211.62 L987.35,211.77 L987.69,211.93 L988.04,212.09 L988.38,212.25 L988.72,212.40 L989.07,212.56 L989.41,212.72 L989.75,212.88 L990.10,213.04 L990.44,213.20 L990.78,213.36 L991.13,213.52 L991.47,213.68 L991.82,213.84 L992.16,214.00 L992.50,214.16 L992.85,214.32 L993.19,214.48 L993.53,214.64 L993.88,214.80 L994.22,214.96 L994.56,215.12 L994.91,215.28 L995.25,215.44 L995.59,215.60 L995.94,215.76 L996.28,215.92 L996.62,216.08 L996.97,216.23 L997.31,216.39 L997.65,216.55 L998.00,216.70 L998.34,216.86 L998.68,217.01 L999.03,217.17 L999.37,217.32 L999.71,217.47 L1000.06,217.62 L1000.40,217.77 L1000.74,217.92 L1001.09,218.07 L1001.43,218.21 L1001.78,218.36 L1002.12,218.50 L1002.46,218.64 L1002.81,218.78 L1003.15,218.92 L1003.49,219.06 L1003.84,219.19 L1004.18,219.32 L1004.52,219.45 L1004.87,219.58 L1005.21,219.71 L1005.55,219.83 L1005.90,219.95 L1006.24,220.06 L1006.58,220.18 L1006.93,220.29 L1007.27,220.39 L1007.61,220.50 L1007.96,220.59 L1008.30,220.69 L1008.64,220.78 L1008.99,220.86 L1009.33,220.95 L1009.67,221.02 L1010.02,221.09 L1010.36,221.15 L1010.71,221.21 L1011.05,221.26 L1011.39,221.31 L1011.74,221.35 L1012.08,221.38 L1012.42,221.40 L1012.77,221.42 L1013.11,221.42 L1013.45,221.42 L1013.80,221.41 L1014.14,221.39 L1014.48,221.36 L1014.83,221.32 L1015.17,221.27 L1015.51,221.21 L1015.86,221.14 L1016.20,221.06 L1016.54,220.96 L1016.89,220.85 L1017.23,220.73 L1017.57,220.60 L1017.92,220.46 L1018.26,220.30 L1018.60,220.12 L1018.95,219.94 L1019.29,219.74 L1019.63,219.52 L1019.98,219.29 L1020.32,219.05 L1020.67,218.79 L1021.01,218.52 L1021.35,218.23 L1021.70,217.93 L1022.04,217.61 L1022.38,217.28 L1022.73,216.94 L1023.07,216.57 L1023.41,216.20 L1023.76,215.81 L1024.10,215.41 L1024.44,214.99 L1024.79,214.56 L1025.13,214.11 L1025.47,213.66 L1025.82,213.19 L1026.16,212.70 L1026.50,212.21 L1026.85,211.70 L1027.19,211.18 L1027.53,210.65 L1027.88,210.11 L1028.22,209.57 L1028.56,209.01 L1028.91,208.44 L1029.25,207.86 L1029.60,207.27 L1029.94,206.68 L1030.28,206.08 L1030.63,205.47 L1030.97,204.85 L1031.31,204.23 L1031.66,203.60 L1032.00,202.96 L1032.34,202.32 L1032.69,201.68 L1033.03,201.03 L1033.37,200.38 L1033.72,199.72 L1034.06,199.06 L1034.40,198.40 L1034.75,197.73 L1035.09,197.06 L1035.43,196.39 L1035.78,195.72 L1036.12,195.05 L1036.46,194.37 L1036.81,193.69 L1037.15,193.02 L1037.49,192.34 L1037.84,191.66 L1038.18,190.98 L1038.52,190.30 L1038.87,189.63 L1039.21,188.95 L1039.56,188.27 L1039.90,187.60 L1040.24,186.92 L1040.59,186.25 L1040.93,185.57 L1041.27,184.90 L1041.62,184.23 L1041.96,183.56 L1042.30,182.90 L1042.65,182.23 L1042.99,181.57 L1043.33,180.91 L1043.68,180.25 L1044.02,179.60 L1044.36,178.95 L1044.71,178.29 L1045.05,177.65 L1045.39,177.00 L1045.74,176.36 L1046.08,175.72 L1046.42,175.08 L1046.77,174.45 L1047.11,173.81 L1047.45,173.19 L1047.80,172.56 L1048.14,171.94 L1048.49,171.32 L1048.83,170.70 L1049.17,170.09 L1049.52,169.48 L1049.86,168.87 L1050.20,168.27 L1050.55,167.67 L1050.89,167.07 L1051.23,166.48 L1051.58,165.89 L1051.92,165.30 L1052.26,164.72 L1052.61,164.13 L1052.95,163.56 L1053.29,162.98 L1053.64,162.41 L1053.98,161.85 L1054.32,161.28 L1054.67,160.72 L1055.01,160.17 L1055.35,159.61 L1055.70,159.06 L1056.04,158.52 L1056.38,157.97 L1056.73,157.43 L1057.07,156.90 L1057.41,156.36 L1057.76,155.83 L1058.10,155.31 L1058.45,154.78 L1058.79,154.27 L1059.13,153.75 L1059.48,153.24 L1059.82,152.73 L1060.16,152.22 L1060.51,151.72 L1060.85,151.22 L1061.19,150.73 L1061.54,150.23 L1061.88,149.74 L1062.22,149.26 L1062.57,148.78 L1062.91,148.30 L1063.25,147.82 L1063.60,147.35 L1063.94,146.88 L1064.28,146.41 L1064.63,145.95 L1064.97,145.49 L1065.31,145.04 L1065.66,144.58 L1066.00,144.13 L1066.34,143.69 L1066.69,143.25 L1067.03,142.81 L1067.38,142.37 L1067.72,141.94 L1068.06,141.50 L1068.41,141.08 L1068.75,140.65 L1069.09,140.23 L1069.44,139.82 L1069.78,139.40 L1070.12,138.99 L1070.47,138.58 L1070.81,138.17 L1071.15,137.77 L1071.50,137.37 L1071.84,136.98 L1072.18,136.58 L1072.53,136.19 L1072.87,135.81 L1073.21,135.42 L1073.56,135.04 L1073.90,134.66 L1074.24,134.29 L1074.59,133.91 L1074.93,133.54 L1075.27,133.18 L1075.62,132.81 L1075.96,132.45 L1076.30,132.10 L1076.65,131.74 L1076.99,131.39 L1077.34,131.04 L1077.68,130.69 L1078.02,130.35 L1078.37,130.01 L1078.71,129.67 L1079.05,129.33 L1079.40,129.00 L1079.74,128.67 L1080.08,128.34 L1080.43,128.02 L1080.77,127.70 L1081.11,127.38 L1081.46,127.06 L1081.80,126.75 L1082.14,126.44 L1082.49,126.13 L1082.83,125.82 L1083.17,125.52 L1083.52,125.22 L1083.86,124.92 L1084.20,124.63 L1084.55,124.33 L1084.89,124.04 L1085.23,123.76 L1085.58,123.47 L1085.92,123.19 L1086.27,122.91 L1086.61,122.63 L1086.95,122.36 L1087.30,122.08 L1087.64,121.81 L1087.98,121.55 L1088.33,121.28 L1088.67,121.02 L1089.01,120.76 L1089.36,120.50 L1089.70,120.24 L1090.04,119.99 L1090.39,119.74 L1090.73,119.49 L1091.07,119.25 L1091.42,119.00 L1091.76,118.76 L1092.10,118.52 L1092.45,118.28 L1092.79,118.05 L1093.13,117.82 L1093.48,117.59 L1093.82,117.36 L1094.16,117.14 L1094.51,116.91 L1094.85,116.69 L1095.19,116.47 L1095.54,116.26 L1095.88,116.04 L1096.23,115.83 L1096.57,115.62 L1096.91,115.41 L1097.26,115.21 L1097.60,115.00 L1097.94,114.80 L1098.29,114.60 L1098.63,114.41 L1098.97,114.21 L1099.32,114.02 L1099.66,113.83 L1100.00,113.64 L1100.35,113.45 L1100.69,113.27 L1101.03,113.09 L1101.38,112.91 L1101.72,112.73 L1102.06,112.55 L1102.41,112.38 L1102.75,112.20 L1103.09,112.03 L1103.44,111.86 L1103.78,111.70 L1104.12,111.53 L1104.47,111.37 L1104.81,111.21 L1105.16,111.05 L1105.50,110.89 L1105.84,110.74 L1106.19,110.59 L1106.53,110.43 L1106.87,110.28 L1107.22,110.14 L1107.56,109.99 L1107.90,109.85 L1108.25,109.71 L1108.59,109.57 L1108.93,109.43 L1109.28,109.29 L1109.62,109.16 L1109.96,109.02 L1110.31,108.89 L1110.65,108.76 L1110.99,108.63 L1111.34,108.51 L1111.68,108.38 L1112.02,108.26 L1112.37,108.14 L1112.71,108.02 L1113.05,107.90 L1113.40,107.79 L1113.74,107.68 L1114.08,107.56 L1114.43,107.45 L1114.77,107.34 L1115.12,107.24 L1115.46,107.13 L1115.80,107.03 L1116.15,106.92 L1116.49,106.82 L1116.83,106.72 L1117.18,106.63 L1117.52,106.53 L1117.86,106.44 L1118.21,106.34 L1118.55,106.25 L1118.89,106.16 L1119.24,106.07 L1119.58,105.99 L1119.92,105.90 L1120.27,105.82 L1120.61,105.74 L1120.95,105.65 L1121.30,105.58 L1121.64,105.50 L1121.98,105.42 L1122.33,105.35 L1122.67,105.27 L1123.01,105.20 L1123.36,105.13 L1123.70,105.06 L1124.05,105.00 L1124.39,104.93 L1124.73,104.86 L1125.08,104.80 L1125.42,104.74 L1125.76,104.68 L1126.11,104.62 L1126.45,104.56 L1126.79,104.51 L1127.14,104.45 L1127.48,104.40 L1127.82,104.35 L1128.17,104.29 L1128.51,104.24 L1128.85,104.20 L1129.20,104.15 L1129.54,104.10 L1129.88,104.06 L1130.23,104.02 L1130.57,103.97 L1130.91,103.93 L1131.26,103.89 L1131.60,103.86 L1131.94,103.82 L1132.29,103.78 L1132.63,103.75 L1132.97,103.72 L1133.32,103.69 L1133.66,103.66 L1134.01,103.63 L1134.35,103.60 L1134.69,103.57 L1135.04,103.55 L1135.38,103.52 L1135.72,103.50 L1136.07,103.48 L1136.41,103.45 L1136.75,103.44 L1137.10,103.42 L1137.44,103.40 L1137.78,103.38 L1138.13,103.37 L1138.47,103.35 L1138.81,103.34 L1139.16,103.33 L1139.50,103.32 L1139.84,103.31 L1140.19,103.30 L1140.53,103.29 L1140.87,103.29 L1141.22,103.28 L1141.56,103.28 L1141.90,103.27 L1142.25,103.27 L1142.59,103.27 L1142.93,103.27 L1143.28,103.27 L1143.62,103.27 L1143.97,103.28 L1144.31,103.28 L1144.65,103.29 L1145.00,103.29 L1145.34,103.30 L1145.68,103.31 L1146.03,103.32 L1146.37,103.33 L1146.71,103.34 L1147.06,103.35 L1147.40,103.36 L1147.74,103.38 L1148.09,103.39 L1148.43,103.41 L1148.77,103.43 L1149.12,103.44 L1149.46,103.46 L1149.80,103.48 L1150.15,103.50 L1150.49,103.52 L1150.83,103.55 L1151.18,103.57 L1151.52,103.60 L1151.86,103.62 L1152.21,103.65 L1152.55,103.67 L1152.90,103.70 L1153.24,103.73 L1153.58,103.76 L1153.93,103.79 L1154.27,103.82 L1154.61,103.85 L1154.96,103.89 L1155.30,103.92 L1155.64,103.96 L1155.99,103.99 L1156.33,104.03 L1156.67,104.07 L1157.02,104.10 L1157.36,104.14 L1157.70,104.18 L1158.05,104.22 L1158.39,104.27 L1158.73,104.31 L1159.08,104.35 L1159.42,104.39 L1159.76,104.44 L1160.11,104.48 L1160.45,104.53 L1160.79,104.58 L1161.14,104.62 L1161.48,104.67 L1161.82,104.72 L1162.17,104.77 L1162.51,104.82 L1162.86,104.87 L1163.20,104.93 L1163.54,104.98 L1163.89,105.03 L1164.23,105.09 L1164.57,105.14 L1164.92,105.20 L1165.26,105.26 L1165.60,105.31 L1165.95,105.37 L1166.29,105.43 L1166.63,105.49 L1166.98,105.55 L1167.32,105.61 L1167.66,105.67 L1168.01,105.73 L1168.35,105.80 L1168.69,105.86 L1169.04,105.92 L1169.38,105.99 L1169.72,106.05 L1170.07,106.12 L1170.41,106.19 L1170.75,106.26 L1171.10,106.32 L1171.44,106.39 L1171.79,106.46 L1172.13,106.53 L1172.47,106.60 L1172.82,106.67 L1173.16,106.75 L1173.50,106.82 L1173.85,106.89 L1174.19,106.97 L1174.53,107.04 L1174.88,107.11 L1175.22,107.19 L1175.56,107.27 L1175.91,107.34 L1176.25,107.42 L1176.59,107.50 L1176.94,107.58 L1177.28,107.66 L1177.62,107.74 L1177.97,107.82 L1178.31,107.90 L1178.65,107.98 L1179.00,108.06 L1179.34,108.14 L1179.68,108.23 L1180.03,108.31 L1180.37,108.39 L1180.71,108.48 L1181.06,108.57 L1181.40,108.65 L1181.75,108.74 L1182.09,108.82 L1182.43,108.91 L1182.78,109.00 L1183.12,109.09 L1183.46,109.18 L1183.81,109.27 L1184.15,109.36 L1184.49,109.45 L1184.84,109.54 L1185.18,109.63 L1185.52,109.72 L1185.87,109.82 L1186.21,109.91 L1186.55,110.00 L1186.90,110.10 L1187.24,110.19 L1187.58,110.29 L1187.93,110.38 L1188.27,110.48 L1188.61,110.58 L1188.96,110.67 L1189.30,110.77 L1189.64,110.87 L1189.99,110.97 L1190.33,111.07 L1190.68,111.16 L1191.02,111.26 L1191.36,111.36 L1191.71,111.47 L1192.05,111.57 L1192.39,111.67 L1192.74,111.77 L1193.08,111.87 L1193.42,111.98 L1193.77,112.08 L1194.11,112.18 L1194.45,112.29 L1194.80,112.39 L1195.14,112.50 L1195.48,112.60 L1195.83,112.71 L1196.17,112.82 L1196.51,112.92 L1196.86,113.03 L1197.20,113.14 L1197.54,113.25 L1197.89,113.35 L1198.23,113.46 L1198.57,113.57 L1198.92,113.68 L1199.26,113.79 L1199.60,113.90 L1199.95,114.01 L1200.29,114.13 L1200.64,114.24 L1200.98,114.35 L1201.32,114.46 L1201.67,114.57 L1202.01,114.69 L1202.35,114.80 L1202.70,114.92 L1203.04,115.03 L1203.38,115.15 L1203.73,115.26 L1204.07,115.38 L1204.41,115.49 L1204.76,115.61 L1205.10,115.72 L1205.44,115.84 L1205.79,115.96 L1206.13,116.08 L1206.47,116.19 L1206.82,116.31 L1207.16,116.43 L1207.50,116.55 L1207.85,116.67 L1208.19,116.79 L1208.53,116.91 L1208.88,117.03 L1209.22,117.15 L1209.57,117.27 L1209.91,117.39 L1210.25,117.52 L1210.60,117.64 L1210.94,117.76 L1211.28,117.88 L1211.63,118.01 L1211.97,118.13 L1212.31,118.25 L1212.66,118.38 L1213.00,118.50 L1213.34,118.63 L1213.69,118.75 L1214.03,118.88 L1214.37,119.00 L1214.72,119.13 L1215.06,119.26 L1215.40,119.38 L1215.75,119.51 L1216.09,119.64 L1216.43,119.76 L1216.78,119.89 L1217.12,120.02 L1217.46,120.15 L1217.81,120.28 L1218.15,120.41 L1218.49,120.53 L1218.84,120.66 L1219.18,120.79 L1219.53,120.92 L1219.87,121.05 L1220.21,121.19 L1220.56,121.32 L1220.90,121.45 L1221.24,121.58 L1221.59,121.71 L1221.93,121.84 L1222.27,121.97 L1222.62,122.11 L1222.96,122.24 L1223.30,122.37 L1223.65,122.51 L1223.99,122.64 L1224.33,122.77 L1224.68,122.91 L1225.02,123.04 L1225.36,123.18 L1225.71,123.31 L1226.05,123.45 L1226.39,123.58 L1226.74,123.72 L1227.08,123.86 L1227.42,123.99 L1227.77,124.13 L1228.11,124.26 L1228.46,124.40 L1228.80,124.54 L1229.14,124.68 L1229.49,124.81 L1229.83,124.95 L1230.17,125.09 L1230.52,125.23 L1230.86,125.37 L1231.20,125.51 L1231.55,125.65 L1231.89,125.79 L1232.23,125.92 L1232.58,126.06 L1232.92,126.20 L1233.26,126.35 L1233.61,126.49 L1233.95,126.63 L1234.29,126.77 L1234.64,126.91 L1234.98,127.05 L1235.32,127.19 L1235.67,127.33 L1236.01,127.48 L1236.35,127.62 L1236.70,127.76 L1237.04,127.90 L1237.38,128.05 L1237.73,128.19 L1238.07,128.33 L1238.42,128.48 L1238.76,128.62 L1239.10,128.76 L1239.45,128.91 L1239.79,129.05 L1240.13,129.20 L1240.48,129.34 L1240.82,129.49 L1241.16,129.63 L1241.51,129.78 L1241.85,129.92 L1242.19,130.07 L1242.54,130.22 L1242.88,130.36 L1243.22,130.51 L1243.57,130.65 L1243.91,130.80 L1244.25,130.95 L1244.60,131.10 L1244.94,131.24 L1245.28,131.39 L1245.63,131.54 L1245.97,131.69 L1246.31,131.83 L1246.66,131.98 L1247.00,132.13 L1247.35,132.28 L1247.69,132.43 L1248.03,132.58 L1248.38,132.73 L1248.72,132.88 L1249.06,133.03 L1249.41,133.17 L1249.75,133.32 L1250.09,133.47 L1250.44,133.63 L1250.78,133.78 L1251.12,133.93 L1251.47,134.08 L1251.81,134.23 L1252.15,134.38 L1252.50,134.53 L1252.84,134.68 L1253.18,134.83 L1253.53,134.99 L1253.87,135.14 L1254.21,135.29 L1254.56,135.44 L1254.90,135.59 L1255.24,135.75 L1255.59,135.90 L1255.93,136.05 L1256.27,136.21 L1256.62,136.36 L1256.96,136.51 L1257.31,136.67 L1257.65,136.82 L1257.99,136.97 L1258.34,137.13 L1258.68,137.28 L1259.02,137.44 L1259.37,137.59 L1259.71,137.74 L1260.05,137.90 L1260.40,138.05 L1260.74,138.21 L1261.08,138.36 L1261.43,138.52 L1261.77,138.67 L1262.11,138.83 L1262.46,138.99 L1262.80,139.14 L1263.14,139.30 L1263.49,139.45 L1263.83,139.61 L1264.17,139.77 L1264.52,139.92 L1264.86,140.08 L1265.20,140.24 L1265.55,140.39 L1265.89,140.55 L1266.24,140.71 L1266.58,140.87 L1266.92,141.02 L1267.27,141.18 L1267.61,141.34 L1267.95,141.50 L1268.30,141.66 L1268.64,141.81 L1268.98,141.97 L1269.33,142.13 L1269.67,142.29 L1270.01,142.45 L1270.36,142.61 L1270.70,142.77" stroke="#ADADAD" stroke-width="3.1" fill="none" stroke-linejoin="round"/>
<path d="M790.21,600.00 L790.55,600.00 L790.89,600.00 L791.24,600.00 L791.58,600.00 L791.92,600.00 L792.27,600.00 L792.61,600.00 L792.96,600.00 L793.30,600.00 L793.64,600.00 L793.99,600.00 L794.33,600.00 L794.67,600.00 L795.02,600.00 L795.36,600.00 L795.70,600.00 L796.05,600.00 L796.39,600.00 L796.73,600.00 L797.08,600.00 L797.42,600.00 L797.76,600.00 L798.11,600.00 L798.45,600.00 L798.79,600.00 L799.14,600.00 L799.48,600.00 L799.82,600.00 L800.17,600.00 L800.51,600.00 L800.85,600.00 L801.20,600.00 L801.54,600.00 L801.88,600.00 L802.23,600.00 L802.57,600.00 L802.92,600.00 L803.26,600.00 L803.60,600.00 L803.95,600.00 L804.29,600.00 L804.63,600.00 L804.98,600.00 L805.32,600.00 L805.66,600.00 L806.01,600.00 L806.35,600.00 L806.69,600.00 L807.04,600.00 L807.38,600.00 L807.72,600.00 L808.07,600.00 L808.41,600.00 L808.75,600.00 L809.10,600.00 L809.44,600.00 L809.78,600.00 L810.13,600.00 L810.47,600.00 L810.81,600.00 L811.16,600.00 L811.50,600.00 L811.85,600.00 L812.19,600.00 L812.53,600.00 L812.88,600.00 L813.22,600.00 L813.56,600.00 L813.91,600.00 L814.25,600.00 L814.59,600.00 L814.94,600.00 L815.28,600.00 L815.62,600.00 L815.97,600.00 L816.31,600.00 L816.65,600.00 L817.00,600.00 L817.34,600.00 L817.68,600.00 L818.03,600.00 L818.37,600.00 L818.71,600.00 L819.06,600.00 L819.40,600.00 L819.74,600.00 L820.09,600.00 L820.43,600.00 L820.77,600.00 L821.12,600.00 L821.46,600.00 L821.81,600.00 L822.15,600.00 L822.49,600.00 L822.84,600.00 L823.18,600.00 L823.52,600.00 L823.87,600.00 L824.21,600.00 L824.55,600.00 L824.90,600.00 L825.24,600.00 L825.58,600.00 L825.93,600.00 L826.27,600.00 L826.61,600.00 L826.96,600.00 L827.30,600.00 L827.64,600.00 L827.99,600.00 L828.33,600.00 L828.67,600.00 L829.02,600.00 L829.36,600.00 L829.70,600.00 L830.05,600.00 L830.39,600.00 L830.74,600.00 L831.08,600.00 L831.42,600.00 L831.77,600.00 L832.11,600.00 L832.45,600.00 L832.80,600.00 L833.14,600.00 L833.48,600.00 L833.83,600.00 L834.17,600.00 L834.51,600.00 L834.86,600.00 L835.20,600.00 L835.54,600.00 L835.89,600.00 L836.23,600.00 L836.57,600.00 L836.92,600.00 L837.26,600.00 L837.60,600.00 L837.95,600.00 L838.29,600.00 L838.63,600.00 L838.98,600.00 L839.32,600.00 L839.66,600.00 L840.01,600.00 L840.35,600.00 L840.70,600.00 L841.04,600.00 L841.38,600.00 L841.73,600.00 L842.07,600.00 L842.41,600.00 L842.76,600.00 L843.10,600.00 L843.44,600.00 L843.79,600.00 L844.13,600.00 L844.47,600.00 L844.82,600.00 L845.16,600.00 L845.50,600.00 L845.85,600.00 L846.19,600.00 L846.53,600.00 L846.88,600.00 L847.22,600.00 L847.56,600.00 L847.91,600.00 L848.25,600.00 L848.59,600.00 L848.94,600.00 L849.28,600.00 L849.62,600.00 L849.97,600.00 L850.31,600.00 L850.66,600.00 L851.00,600.00 L851.34,600.00 L851.69,600.00 L852.03,600.00 L852.37,600.00 L852.72,600.00 L853.06,600.00 L853.40,600.00 L853.75,600.00 L854.09,600.00 L854.43,600.00 L854.78,600.00 L855.12,600.00 L855.46,600.00 L855.81,600.00 L856.15,600.00 L856.49,600.00 L856.84,600.00 L857.18,600.00 L857.52,600.00 L857.87,600.00 L858.21,600.00 L858.55,600.00 L858.90,600.00 L859.24,600.00 L859.59,600.00 L859.93,600.00 L860.27,600.00 L860.62,600.00 L860.96,600.00 L861.30,600.00 L861.65,600.00 L861.99,600.00 L862.33,600.00 L862.68,600.00 L863.02,600.00 L863.36,600.00 L863.71,600.00 L864.05,600.00 L864.39,600.00 L864.74,600.00 L865.08,600.00 L865.42,600.00 L865.77,600.00 L866.11,600.00 L866.45,600.00 L866.80,600.00 L867.14,600.00 L867.48,600.00 L867.83,600.00 L868.17,600.00 L868.51,600.00 L868.86,600.00 L869.20,600.00 L869.55,600.00 L869.89,600.00 L870.23,600.00 L870.58,600.00 L870.92,600.00 L871.26,600.00 L871.61,600.00 L871.95,600.00 L872.29,600.00 L872.64,600.00 L872.98,600.00 L873.32,600.00 L873.67,600.00 L874.01,600.00 L874.35,600.00 L874.70,600.00 L875.04,600.00 L875.38,600.00 L875.73,600.00 L876.07,600.00 L876.41,600.00 L876.76,600.00 L877.10,600.00 L877.44,600.00 L877.79,600.00 L878.13,600.00 L878.48,600.00 L878.82,600.00 L879.16,600.00 L879.51,600.00 L879.85,600.00 L880.19,600.00 L880.54,600.00 L880.88,600.00 L881.22,600.00 L881.57,600.00 L881.91,600.00 L882.25,600.00 L882.60,600.00 L882.94,600.00 L883.28,600.00 L883.63,600.00 L883.97,600.00 L884.31,600.00 L884.66,600.00 L885.00,600.00 L885.34,600.00 L885.69,600.00 L886.03,600.00 L886.37,600.00 L886.72,600.00 L887.06,600.00 L887.40,600.00 L887.75,600.00 L888.09,600.00 L888.44,600.00 L888.78,600.00 L889.12,600.00 L889.47,600.00 L889.81,600.00 L890.15,600.00 L890.50,600.00 L890.84,600.00 L891.18,600.00 L891.53,600.00 L891.87,600.00 L892.21,600.00 L892.56,600.00 L892.90,600.00 L893.24,600.00 L893.59,600.00 L893.93,600.00 L894.27,600.00 L894.62,600.00 L894.96,600.00 L895.30,600.00 L895.65,600.00 L895.99,600.00 L896.33,600.00 L896.68,600.00 L897.02,600.00 L897.37,600.00 L897.71,600.00 L898.05,600.00 L898.40,600.00 L898.74,600.00 L899.08,600.00 L899.43,600.00 L899.77,600.00 L900.11,600.00 L900.46,600.00 L900.80,600.00 L901.14,600.00 L901.49,600.00 L901.83,600.00 L902.17,600.00 L902.52,600.00 L902.86,600.00 L903.20,600.00 L903.55,600.00 L903.89,600.00 L904.23,600.00 L904.58,600.00 L904.92,600.00 L905.26,600.00 L905.61,600.00 L905.95,600.00 L906.29,600.00 L906.64,600.00 L906.98,600.00 L907.33,600.00 L907.67,600.00 L908.01,600.00 L908.36,600.00 L908.70,600.00 L909.04,600.00 L909.39,600.00 L909.73,600.00 L910.07,600.00 L910.42,600.00 L910.76,600.00 L911.10,600.00 L911.45,600.00 L911.79,600.00 L912.13,600.00 L912.48,600.00 L912.82,600.00 L913.16,600.00 L913.51,600.00 L913.85,600.00 L914.19,600.00 L914.54,600.00 L914.88,600.00 L915.22,600.00 L915.57,600.00 L915.91,600.00 L916.26,600.00 L916.60,600.00 L916.94,600.00 L917.29,600.00 L917.63,600.00 L917.97,600.00 L918.32,600.00 L918.66,600.00 L919.00,600.00 L919.35,600.00 L919.69,600.00 L920.03,600.00 L920.38,600.00 L920.72,600.00 L921.06,600.00 L921.41,600.00 L921.75,600.00 L922.09,600.00 L922.44,600.00 L922.78,600.00 L923.12,600.00 L923.47,600.00 L923.81,600.00 L924.15,600.00 L924.50,600.00 L924.84,600.00 L925.18,600.00 L925.53,600.00 L925.87,600.00 L926.22,600.00 L926.56,600.00 L926.90,600.00 L927.25,600.00 L927.59,600.00 L927.93,600.00 L928.28,600.00 L928.62,600.00 L928.96,600.00 L929.31,600.00 L929.65,600.00 L929.99,600.00 L930.34,600.00 L930.68,600.00 L931.02,600.00 L931.37,600.00 L931.71,600.00 L932.05,600.00 L932.40,600.00 L932.74,600.00 L933.08,600.00 L933.43,600.00 L933.77,600.00 L934.11,600.00 L934.46,600.00 L934.80,600.00 L935.15,600.00 L935.49,600.00 L935.83,600.00 L936.18,600.00 L936.52,600.00 L936.86,600.00 L937.21,600.00 L937.55,600.00 L937.89,600.00 L938.24,600.00 L938.58,600.00 L938.92,600.00 L939.27,600.00 L939.61,600.00 L939.95,600.00 L940.30,600.00 L940.64,600.00 L940.98,600.00 L941.33,600.00 L941.67,600.00 L942.01,600.00 L942.36,600.00 L942.70,600.00 L943.04,600.00 L943.39,600.00 L943.73,600.00 L944.07,600.00 L944.42,600.00 L944.76,600.00 L945.11,600.00 L945.45,600.00 L945.79,600.00 L946.14,600.00 L946.48,600.00 L946.82,600.00 L947.17,600.00 L947.51,600.00 L947.85,600.00 L948.20,600.00 L948.54,600.00 L948.88,600.00 L949.23,600.00 L949.57,600.00 L949.91,600.00 L950.26,600.00 L950.60,600.00 L950.94,600.00 L951.29,600.00 L951.63,600.00 L951.97,600.00 L952.32,600.00 L952.66,600.00 L953.00,600.00 L953.35,600.00 L953.69,600.00 L954.04,600.00 L954.38,600.00 L954.72,600.00 L955.07,600.00 L955.41,600.00 L955.75,597.12 L956.10,594.21 L956.44,591.30 L956.78,588.42 L957.13,585.54 L957.47,582.68 L957.81,579.84 L958.16,577.01 L958.50,574.19 L958.84,571.39 L959.19,568.60 L959.53,565.83 L959.87,563.07 L960.22,560.32 L960.56,557.59 L960.90,554.87 L961.25,552.17 L961.59,549.48 L961.93,546.80 L962.28,544.14 L962.62,541.49 L962.96,538.85 L963.31,536.23 L963.65,533.62 L964.00,531.02 L964.34,528.44 L964.68,525.87 L965.03,523.31 L965.37,520.77 L965.71,518.24 L966.06,515.72 L966.40,513.21 L966.74,510.72 L967.09,508.24 L967.43,505.78 L967.77,503.32 L968.12,500.88 L968.46,498.45 L968.80,496.03 L969.15,493.63 L969.49,491.23 L969.83,488.85 L970.18,486.49 L970.52,484.13 L970.86,481.79 L971.21,479.45 L971.55,477.13 L971.89,474.83 L972.24,472.53 L972.58,470.25 L972.93,467.97 L973.27,465.71 L973.61,463.46 L973.96,461.23 L974.30,459.00 L974.64,456.79 L974.99,454.58 L975.33,452.39 L975.67,450.21 L976.02,448.04 L976.36,445.88 L976.70,443.74 L977.05,441.60 L977.39,439.48 L977.73,437.36 L978.08,435.26 L978.42,433.17 L978.76,431.09 L979.11,429.02 L979.45,426.96 L979.79,424.91 L980.14,422.88 L980.48,420.85 L980.82,418.83 L981.17,416.83 L981.51,414.83 L981.85,412.85 L982.20,410.87 L982.54,408.91 L982.89,406.95 L983.23,405.01 L983.57,403.08 L983.92,401.15 L984.26,399.24 L984.60,397.34 L984.95,395.44 L985.29,393.56 L985.63,391.69 L985.98,389.82 L986.32,387.97 L986.66,386.12 L987.01,384.29 L987.35,382.47 L987.69,380.65 L988.04,378.85 L988.38,377.05 L988.72,375.26 L989.07,373.49 L989.41,371.72 L989.75,369.96 L990.10,368.21 L990.44,366.48 L990.78,364.75 L991.13,363.02 L991.47,361.31 L991.82,359.61 L992.16,357.92 L992.50,356.23 L992.85,354.56 L993.19,352.89 L993.53,351.23 L993.88,349.59 L994.22,347.95 L994.56,346.31 L994.91,344.69 L995.25,343.08 L995.59,341.47 L995.94,339.88 L996.28,338.29 L996.62,336.71 L996.97,335.14 L997.31,333.58 L997.65,332.03 L998.00,330.48 L998.34,328.94 L998.68,327.42 L999.03,325.90 L999.37,324.38 L999.71,322.88 L1000.06,321.38 L1000.40,319.90 L1000.74,318.42 L1001.09,316.95 L1001.43,315.48 L1001.78,314.03 L1002.12,312.58 L1002.46,311.14 L1002.81,309.71 L1003.15,308.29 L1003.49,306.87 L1003.84,305.46 L1004.18,304.06 L1004.52,302.67 L1004.87,301.29 L1005.21,299.91 L1005.55,298.54 L1005.90,297.18 L1006.24,295.82 L1006.58,294.47 L1006.93,293.13 L1007.27,291.80 L1007.61,290.48 L1007.96,289.16 L1008.30,287.85 L1008.64,286.55 L1008.99,285.25 L1009.33,283.96 L1009.67,282.68 L1010.02,281.41 L1010.36,280.14 L1010.71,278.88 L1011.05,277.63 L1011.39,276.38 L1011.74,275.14 L1012.08,273.91 L1012.42,272.69 L1012.77,271.47 L1013.11,270.26 L1013.45,269.05 L1013.80,267.86 L1014.14,266.67 L1014.48,265.48 L1014.83,264.30 L1015.17,263.13 L1015.51,261.97 L1015.86,260.81 L1016.20,259.66 L1016.54,258.52 L1016.89,257.38 L1017.23,256.25 L1017.57,255.12 L1017.92,254.00 L1018.26,252.89 L1018.60,251.79 L1018.95,250.69 L1019.29,249.60 L1019.63,248.51 L1019.98,247.43 L1020.32,246.35 L1020.67,245.29 L1021.01,244.22 L1021.35,243.17 L1021.70,242.12 L1022.04,241.08 L1022.38,240.04 L1022.73,239.01 L1023.07,237.98 L1023.41,236.96 L1023.76,235.95 L1024.10,234.94 L1024.44,233.94 L1024.79,232.94 L1025.13,231.96 L1025.47,230.97 L1025.82,229.99 L1026.16,229.02 L1026.50,228.05 L1026.85,227.09 L1027.19,226.14 L1027.53,225.19 L1027.88,224.24 L1028.22,223.31 L1028.56,222.37 L1028.91,221.45 L1029.25,220.52 L1029.60,219.61 L1029.94,218.70 L1030.28,217.79 L1030.63,216.89 L1030.97,216.00 L1031.31,215.11 L1031.66,214.22 L1032.00,213.34 L1032.34,212.47 L1032.69,211.60 L1033.03,210.74 L1033.37,209.88 L1033.72,209.03 L1034.06,208.18 L1034.40,207.34 L1034.75,206.51 L1035.09,205.67 L1035.43,204.85 L1035.78,204.03 L1036.12,203.21 L1036.46,202.40 L1036.81,201.59 L1037.15,200.79 L1037.49,199.99 L1037.84,199.20 L1038.18,198.42 L1038.52,197.63 L1038.87,196.86 L1039.21,196.09 L1039.56,195.32 L1039.90,194.56 L1040.24,193.80 L1040.59,193.05 L1040.93,192.30 L1041.27,191.55 L1041.62,190.81 L1041.96,190.08 L1042.30,189.35 L1042.65,188.63 L1042.99,187.91 L1043.33,187.19 L1043.68,186.48 L1044.02,185.77 L1044.36,185.07 L1044.71,184.37 L1045.05,183.68 L1045.39,182.99 L1045.74,182.31 L1046.08,181.63 L1046.42,180.95 L1046.77,180.28 L1047.11,179.61 L1047.45,178.95 L1047.80,178.29 L1048.14,177.64 L1048.49,176.99 L1048.83,176.34 L1049.17,175.70 L1049.52,175.07 L1049.86,174.43 L1050.20,173.81 L1050.55,173.18 L1050.89,172.56 L1051.23,171.94 L1051.58,171.33 L1051.92,170.72 L1052.26,170.12 L1052.61,169.52 L1052.95,168.93 L1053.29,168.33 L1053.64,167.75 L1053.98,167.16 L1054.32,166.58 L1054.67,166.01 L1055.01,165.43 L1055.35,164.87 L1055.70,164.30 L1056.04,163.74 L1056.38,163.18 L1056.73,162.63 L1057.07,162.08 L1057.41,161.54 L1057.76,161.00 L1058.10,160.46 L1058.45,159.92 L1058.79,159.39 L1059.13,158.87 L1059.48,158.34 L1059.82,157.83 L1060.16,157.31 L1060.51,156.80 L1060.85,156.29 L1061.19,155.79 L1061.54,155.28 L1061.88,154.79 L1062.22,154.29 L1062.57,153.80 L1062.91,153.32 L1063.25,152.83 L1063.60,152.35 L1063.94,151.88 L1064.28,151.40 L1064.63,150.93 L1064.97,150.47 L1065.31,150.00 L1065.66,149.54 L1066.00,149.09 L1066.34,148.64 L1066.69,148.19 L1067.03,147.74 L1067.38,147.30 L1067.72,146.86 L1068.06,146.42 L1068.41,145.99 L1068.75,145.56 L1069.09,145.13 L1069.44,144.71 L1069.78,144.29 L1070.12,143.87 L1070.47,143.46 L1070.81,143.05 L1071.15,142.64 L1071.50,142.24 L1071.84,141.84 L1072.18,141.44 L1072.53,141.04 L1072.87,140.65 L1073.21,140.26 L1073.56,139.88 L1073.90,139.50 L1074.24,139.12 L1074.59,138.74 L1074.93,138.36 L1075.27,137.99 L1075.62,137.63 L1075.96,137.26 L1076.30,136.90 L1076.65,136.54 L1076.99,136.18 L1077.34,135.83 L1077.68,135.48 L1078.02,135.13 L1078.37,134.79 L1078.71,134.45 L1079.05,134.11 L1079.40,133.77 L1079.74,133.44 L1080.08,133.11 L1080.43,132.78 L1080.77,132.45 L1081.11,132.13 L1081.46,131.81 L1081.80,131.50 L1082.14,131.18 L1082.49,130.87 L1082.83,130.56 L1083.17,130.25 L1083.52,129.95 L1083.86,129.65 L1084.20,129.35 L1084.55,129.06 L1084.89,128.76 L1085.23,128.47 L1085.58,128.18 L1085.92,127.90 L1086.27,127.62 L1086.61,127.33 L1086.95,127.06 L1087.30,126.78 L1087.64,126.51 L1087.98,126.24 L1088.33,125.97 L1088.67,125.71 L1089.01,125.44 L1089.36,125.18 L1089.70,124.92 L1090.04,124.67 L1090.39,124.41 L1090.73,124.16 L1091.07,123.91 L1091.42,123.67 L1091.76,123.42 L1092.10,123.18 L1092.45,122.94 L1092.79,122.71 L1093.13,122.47 L1093.48,122.24 L1093.82,122.01 L1094.16,121.78 L1094.51,121.56 L1094.85,121.33 L1095.19,121.11 L1095.54,120.89 L1095.88,120.68 L1096.23,120.46 L1096.57,120.25 L1096.91,120.04 L1097.26,119.83 L1097.60,119.63 L1097.94,119.42 L1098.29,119.22 L1098.63,119.02 L1098.97,118.83 L1099.32,118.63 L1099.66,118.44 L1100.00,118.25 L1100.35,118.06 L1100.69,117.87 L1101.03,117.69 L1101.38,117.51 L1101.72,117.33 L1102.06,117.15 L1102.41,116.97 L1102.75,116.80 L1103.09,116.62 L1103.44,116.45 L1103.78,116.28 L1104.12,116.12 L1104.47,115.95 L1104.81,115.79 L1105.16,115.63 L1105.50,115.47 L1105.84,115.31 L1106.19,115.16 L1106.53,115.01 L1106.87,114.86 L1107.22,114.71 L1107.56,114.56 L1107.90,114.41 L1108.25,114.27 L1108.59,114.13 L1108.93,113.99 L1109.28,113.85 L1109.62,113.71 L1109.96,113.58 L1110.31,113.44 L1110.65,113.31 L1110.99,113.18 L1111.34,113.06 L1111.68,112.93 L1112.02,112.81 L1112.37,112.68 L1112.71,112.56 L1113.05,112.44 L1113.40,112.33 L1113.74,112.21 L1114.08,112.10 L1114.43,111.98 L1114.77,111.87 L1115.12,111.77 L1115.46,111.66 L1115.80,111.55 L1116.15,111.45 L1116.49,111.35 L1116.83,111.25 L1117.18,111.15 L1117.52,111.05 L1117.86,110.95 L1118.21,110.86 L1118.55,110.77 L1118.89,110.67 L1119.24,110.58 L1119.58,110.50 L1119.92,110.41 L1120.27,110.32 L1120.61,110.24 L1120.95,110.16 L1121.30,110.08 L1121.64,110.00 L1121.98,109.92 L1122.33,109.85 L1122.67,109.77 L1123.01,109.70 L1123.36,109.63 L1123.70,109.56 L1124.05,109.49 L1124.39,109.42 L1124.73,109.35 L1125.08,109.29 L1125.42,109.23 L1125.76,109.16 L1126.11,109.10 L1126.45,109.05 L1126.79,108.99 L1127.14,108.93 L1127.48,108.88 L1127.82,108.82 L1128.17,108.77 L1128.51,108.72 L1128.85,108.67 L1129.20,108.62 L1129.54,108.58 L1129.88,108.53 L1130.23,108.49 L1130.57,108.44 L1130.91,108.40 L1131.26,108.36 L1131.60,108.32 L1131.94,108.28 L1132.29,108.25 L1132.63,108.21 L1132.97,108.18 L1133.32,108.14 L1133.66,108.11 L1134.01,108.08 L1134.35,108.05 L1134.69,108.03 L1135.04,108.00 L1135.38,107.97 L1135.72,107.95 L1136.07,107.93 L1136.41,107.90 L1136.75,107.88 L1137.10,107.86 L1137.44,107.84 L1137.78,107.83 L1138.13,107.81 L1138.47,107.80 L1138.81,107.78 L1139.16,107.77 L1139.50,107.76 L1139.84,107.75 L1140.19,107.74 L1140.53,107.73 L1140.87,107.72 L1141.22,107.72 L1141.56,107.71 L1141.90,107.71 L1142.25,107.70 L1142.59,107.70 L1142.93,107.70 L1143.28,107.70 L1143.62,107.70 L1143.97,107.70 L1144.31,107.71 L1144.65,107.71 L1145.00,107.72 L1145.34,107.72 L1145.68,107.73 L1146.03,107.74 L1146.37,107.75 L1146.71,107.76 L1147.06,107.77 L1147.40,107.78 L1147.74,107.79 L1148.09,107.81 L1148.43,107.82 L1148.77,107.84 L1149.12,107.86 L1149.46,107.88 L1149.80,107.89 L1150.15,107.91 L1150.49,107.93 L1150.83,107.96 L1151.18,107.98 L1151.52,108.00 L1151.86,108.03 L1152.21,108.05 L1152.55,108.08 L1152.90,108.11 L1153.24,108.13 L1153.58,108.16 L1153.93,108.19 L1154.27,108.22 L1154.61,108.25 L1154.96,108.29 L1155.30,108.32 L1155.64,108.35 L1155.99,108.39 L1156.33,108.43 L1156.67,108.46 L1157.02,108.50 L1157.36,108.54 L1157.70,108.58 L1158.05,108.62 L1158.39,108.66 L1158.73,108.70 L1159.08,108.74 L1159.42,108.78 L1159.76,108.83 L1160.11,108.87 L1160.45,108.92 L1160.79,108.96 L1161.14,109.01 L1161.48,109.06 L1161.82,109.11 L1162.17,109.16 L1162.51,109.21 L1162.86,109.26 L1163.20,109.31 L1163.54,109.36 L1163.89,109.41 L1164.23,109.47 L1164.57,109.52 L1164.92,109.58 L1165.26,109.63 L1165.60,109.69 L1165.95,109.75 L1166.29,109.81 L1166.63,109.87 L1166.98,109.92 L1167.32,109.98 L1167.66,110.05 L1168.01,110.11 L1168.35,110.17 L1168.69,110.23 L1169.04,110.30 L1169.38,110.36 L1169.72,110.43 L1170.07,110.49 L1170.41,110.56 L1170.75,110.62 L1171.10,110.69 L1171.44,110.76 L1171.79,110.83 L1172.13,110.90 L1172.47,110.97 L1172.82,111.04 L1173.16,111.11 L1173.50,111.18 L1173.85,111.26 L1174.19,111.33 L1174.53,111.40 L1174.88,111.48 L1175.22,111.55 L1175.56,111.63 L1175.91,111.70 L1176.25,111.78 L1176.59,111.86 L1176.94,111.94 L1177.28,112.01 L1177.62,112.09 L1177.97,112.17 L1178.31,112.25 L1178.65,112.34 L1179.00,112.42 L1179.34,112.50 L1179.68,112.58 L1180.03,112.66 L1180.37,112.75 L1180.71,112.83 L1181.06,112.92 L1181.40,113.00 L1181.75,113.09 L1182.09,113.18 L1182.43,113.26 L1182.78,113.35 L1183.12,113.44 L1183.46,113.53 L1183.81,113.62 L1184.15,113.71 L1184.49,113.80 L1184.84,113.89 L1185.18,113.98 L1185.52,114.07 L1185.87,114.16 L1186.21,114.25 L1186.55,114.35 L1186.90,114.44 L1187.24,114.54 L1187.58,114.63 L1187.93,114.73 L1188.27,114.82 L1188.61,114.92 L1188.96,115.01 L1189.30,115.11 L1189.64,115.21 L1189.99,115.31 L1190.33,115.41 L1190.68,115.50 L1191.02,115.60 L1191.36,115.70 L1191.71,115.80 L1192.05,115.91 L1192.39,116.01 L1192.74,116.11 L1193.08,116.21 L1193.42,116.31 L1193.77,116.42 L1194.11,116.52 L1194.45,116.62 L1194.80,116.73 L1195.14,116.83 L1195.48,116.94 L1195.83,117.04 L1196.17,117.15 L1196.51,117.26 L1196.86,117.36 L1197.20,117.47 L1197.54,117.58 L1197.89,117.69 L1198.23,117.80 L1198.57,117.90 L1198.92,118.01 L1199.26,118.12 L1199.60,118.23 L1199.95,118.34 L1200.29,118.46 L1200.64,118.57 L1200.98,118.68 L1201.32,118.79 L1201.67,118.90 L1202.01,119.02 L1202.35,119.13 L1202.70,119.24 L1203.04,119.36 L1203.38,119.47 L1203.73,119.59 L1204.07,119.70 L1204.41,119.82 L1204.76,119.93 L1205.10,120.05 L1205.44,120.17 L1205.79,120.28 L1206.13,120.40 L1206.47,120.52 L1206.82,120.64 L1207.16,120.75 L1207.50,120.87 L1207.85,120.99 L1208.19,121.11 L1208.53,121.23 L1208.88,121.35 L1209.22,121.47 L1209.57,121.59 L1209.91,121.71 L1210.25,121.84 L1210.60,121.96 L1210.94,122.08 L1211.28,122.20 L1211.63,122.33 L1211.97,122.45 L1212.31,122.57 L1212.66,122.70 L1213.00,122.82 L1213.34,122.94 L1213.69,123.07 L1214.03,123.19 L1214.37,123.32 L1214.72,123.45 L1215.06,123.57 L1215.40,123.70 L1215.75,123.82 L1216.09,123.95 L1216.43,124.08 L1216.78,124.21 L1217.12,124.33 L1217.46,124.46 L1217.81,124.59 L1218.15,124.72 L1218.49,124.85 L1218.84,124.98 L1219.18,125.11 L1219.53,125.24 L1219.87,125.37 L1220.21,125.50 L1220.56,125.63 L1220.90,125.76 L1221.24,125.89 L1221.59,126.02 L1221.93,126.15 L1222.27,126.29 L1222.62,126.42 L1222.96,126.55 L1223.30,126.68 L1223.65,126.82 L1223.99,126.95 L1224.33,127.08 L1224.68,127.22 L1225.02,127.35 L1225.36,127.49 L1225.71,127.62 L1226.05,127.76 L1226.39,127.89 L1226.74,128.03 L1227.08,128.16 L1227.42,128.30 L1227.77,128.44 L1228.11,128.57 L1228.46,128.71 L1228.80,128.85 L1229.14,128.98 L1229.49,129.12 L1229.83,129.26 L1230.17,129.40 L1230.52,129.53 L1230.86,129.67 L1231.20,129.81 L1231.55,129.95 L1231.89,130.09 L1232.23,130.23 L1232.58,130.37 L1232.92,130.51 L1233.26,130.65 L1233.61,130.79 L1233.95,130.93 L1234.29,131.07 L1234.64,131.21 L1234.98,131.35 L1235.32,131.49 L1235.67,131.64 L1236.01,131.78 L1236.35,131.92 L1236.70,132.06 L1237.04,132.21 L1237.38,132.35 L1237.73,132.49 L1238.07,132.63 L1238.42,132.78 L1238.76,132.92 L1239.10,133.06 L1239.45,133.21 L1239.79,133.35 L1240.13,133.50 L1240.48,133.64 L1240.82,133.79 L1241.16,133.93 L1241.51,134.08 L1241.85,134.22 L1242.19,134.37 L1242.54,134.51 L1242.88,134.66 L1243.22,134.81 L1243.57,134.95 L1243.91,135.10 L1244.25,135.25 L1244.60,135.39 L1244.94,135.54 L1245.28,135.69 L1245.63,135.84 L1245.97,135.98 L1246.31,136.13 L1246.66,136.28 L1247.00,136.43 L1247.35,136.58 L1247.69,136.72 L1248.03,136.87 L1248.38,137.02 L1248.72,137.17 L1249.06,137.32 L1249.41,137.47 L1249.75,137.62 L1250.09,137.77 L1250.44,137.92 L1250.78,138.07 L1251.12,138.22 L1251.47,138.37 L1251.81,138.52 L1252.15,138.67 L1252.50,138.82 L1252.84,138.98 L1253.18,139.13 L1253.53,139.28 L1253.87,139.43 L1254.21,139.58 L1254.56,139.73 L1254.90,139.89 L1255.24,140.04 L1255.59,140.19 L1255.93,140.35 L1256.27,140.50 L1256.62,140.65 L1256.96,140.80 L1257.31,140.96 L1257.65,141.11 L1257.99,141.26 L1258.34,141.42 L1258.68,141.57 L1259.02,141.73 L1259.37,141.88 L1259.71,142.04 L1260.05,142.19 L1260.40,142.35 L1260.74,142.50 L1261.08,142.66 L1261.43,142.81 L1261.77,142.97 L1262.11,143.12 L1262.46,143.28 L1262.80,143.43 L1263.14,143.59 L1263.49,143.74 L1263.83,143.90 L1264.17,144.06 L1264.52,144.21 L1264.86,144.37 L1265.20,144.53 L1265.55,144.68 L1265.89,144.84 L1266.24,145.00 L1266.58,145.16 L1266.92,145.31 L1267.27,145.47 L1267.61,145.63 L1267.95,145.79 L1268.30,145.94 L1268.64,146.10 L1268.98,146.26 L1269.33,146.42 L1269.67,146.58 L1270.01,146.74 L1270.36,146.89 L1270.70,147.05" stroke="#AA2228" stroke-width="3" stroke-dasharray="11.3 5.3" fill="none"/>
<path d="M790.21,600.00 L790.55,600.00 L790.89,600.00 L791.24,600.00 L791.58,600.00 L791.92,600.00 L792.27,600.00 L792.61,600.00 L792.96,600.00 L793.30,600.00 L793.64,600.00 L793.99,600.00 L794.33,600.00 L794.67,600.00 L795.02,600.00 L795.36,600.00 L795.70,600.00 L796.05,600.00 L796.39,600.00 L796.73,600.00 L797.08,600.00 L797.42,600.00 L797.76,600.00 L798.11,600.00 L798.45,600.00 L798.79,600.00 L799.14,600.00 L799.48,600.00 L799.82,600.00 L800.17,600.00 L800.51,600.00 L800.85,600.00 L801.20,600.00 L801.54,600.00 L801.88,600.00 L802.23,600.00 L802.57,600.00 L802.92,600.00 L803.26,600.00 L803.60,600.00 L803.95,600.00 L804.29,600.00 L804.63,600.00 L804.98,600.00 L805.32,600.00 L805.66,600.00 L806.01,600.00 L806.35,600.00 L806.69,600.00 L807.04,600.00 L807.38,600.00 L807.72,600.00 L808.07,600.00 L808.41,600.00 L808.75,600.00 L809.10,600.00 L809.44,600.00 L809.78,600.00 L810.13,600.00 L810.47,600.00 L810.81,600.00 L811.16,600.00 L811.50,600.00 L811.85,600.00 L812.19,600.00 L812.53,600.00 L812.88,600.00 L813.22,600.00 L813.56,600.00 L813.91,600.00 L814.25,600.00 L814.59,600.00 L814.94,600.00 L815.28,600.00 L815.62,600.00 L815.97,600.00 L816.31,600.00 L816.65,600.00 L817.00,600.00 L817.34,600.00 L817.68,600.00 L818.03,600.00 L818.37,600.00 L818.71,600.00 L819.06,600.00 L819.40,600.00 L819.74,600.00 L820.09,600.00 L820.43,600.00 L820.77,600.00 L821.12,600.00 L821.46,600.00 L821.81,600.00 L822.15,600.00 L822.49,600.00 L822.84,600.00 L823.18,600.00 L823.52,600.00 L823.87,600.00 L824.21,600.00 L824.55,600.00 L824.90,600.00 L825.24,600.00 L825.58,600.00 L825.93,600.00 L826.27,600.00 L826.61,600.00 L826.96,600.00 L827.30,600.00 L827.64,600.00 L827.99,600.00 L828.33,600.00 L828.67,600.00 L829.02,600.00 L829.36,600.00 L829.70,600.00 L830.05,600.00 L830.39,600.00 L830.74,600.00 L831.08,600.00 L831.42,600.00 L831.77,600.00 L832.11,600.00 L832.45,600.00 L832.80,600.00 L833.14,600.00 L833.48,600.00 L833.83,600.00 L834.17,600.00 L834.51,600.00 L834.86,600.00 L835.20,600.00 L835.54,600.00 L835.89,600.00 L836.23,600.00 L836.57,600.00 L836.92,600.00 L837.26,600.00 L837.60,600.00 L837.95,600.00 L838.29,600.00 L838.63,600.00 L838.98,600.00 L839.32,600.00 L839.66,600.00 L840.01,600.00 L840.35,600.00 L840.70,600.00 L841.04,600.00 L841.38,600.00 L841.73,600.00 L842.07,600.00 L842.41,600.00 L842.76,600.00 L843.10,600.00 L843.44,600.00 L843.79,600.00 L844.13,600.00 L844.47,600.00 L844.82,600.00 L845.16,600.00 L845.50,600.00 L845.85,600.00 L846.19,600.00 L846.53,600.00 L846.88,600.00 L847.22,600.00 L847.56,600.00 L847.91,600.00 L848.25,600.00 L848.59,600.00 L848.94,600.00 L849.28,600.00 L849.62,600.00 L849.97,600.00 L850.31,600.00 L850.66,600.00 L851.00,600.00 L851.34,600.00 L851.69,600.00 L852.03,600.00 L852.37,600.00 L852.72,600.00 L853.06,600.00 L853.40,600.00 L853.75,600.00 L854.09,600.00 L854.43,600.00 L854.78,600.00 L855.12,600.00 L855.46,600.00 L855.81,600.00 L856.15,600.00 L856.49,600.00 L856.84,600.00 L857.18,600.00 L857.52,600.00 L857.87,600.00 L858.21,600.00 L858.55,600.00 L858.90,600.00 L859.24,600.00 L859.59,600.00 L859.93,600.00 L860.27,600.00 L860.62,600.00 L860.96,600.00 L861.30,600.00 L861.65,600.00 L861.99,600.00 L862.33,600.00 L862.68,600.00 L863.02,600.00 L863.36,600.00 L863.71,600.00 L864.05,600.00 L864.39,600.00 L864.74,600.00 L865.08,600.00 L865.42,600.00 L865.77,600.00 L866.11,600.00 L866.45,600.00 L866.80,600.00 L867.14,600.00 L867.48,600.00 L867.83,600.00 L868.17,600.00 L868.51,600.00 L868.86,600.00 L869.20,600.00 L869.55,600.00 L869.89,600.00 L870.23,600.00 L870.58,600.00 L870.92,600.00 L871.26,600.00 L871.61,600.00 L871.95,600.00 L872.29,600.00 L872.64,600.00 L872.98,600.00 L873.32,600.00 L873.67,600.00 L874.01,600.00 L874.35,600.00 L874.70,600.00 L875.04,600.00 L875.38,600.00 L875.73,600.00 L876.07,600.00 L876.41,600.00 L876.76,600.00 L877.10,600.00 L877.44,600.00 L877.79,600.00 L878.13,600.00 L878.48,600.00 L878.82,600.00 L879.16,600.00 L879.51,600.00 L879.85,600.00 L880.19,600.00 L880.54,600.00 L880.88,600.00 L881.22,600.00 L881.57,600.00 L881.91,600.00 L882.25,600.00 L882.60,600.00 L882.94,600.00 L883.28,600.00 L883.63,600.00 L883.97,600.00 L884.31,600.00 L884.66,600.00 L885.00,600.00 L885.34,600.00 L885.69,600.00 L886.03,600.00 L886.37,600.00 L886.72,600.00 L887.06,600.00 L887.40,600.00 L887.75,600.00 L888.09,600.00 L888.44,600.00 L888.78,600.00 L889.12,600.00 L889.47,600.00 L889.81,600.00 L890.15,600.00 L890.50,600.00 L890.84,600.00 L891.18,600.00 L891.53,600.00 L891.87,600.00 L892.21,600.00 L892.56,600.00 L892.90,600.00 L893.24,600.00 L893.59,600.00 L893.93,600.00 L894.27,600.00 L894.62,600.00 L894.96,600.00 L895.30,600.00 L895.65,600.00 L895.99,600.00 L896.33,600.00 L896.68,600.00 L897.02,600.00 L897.37,600.00 L897.71,600.00 L898.05,600.00 L898.40,600.00 L898.74,600.00 L899.08,600.00 L899.43,600.00 L899.77,600.00 L900.11,600.00 L900.46,600.00 L900.80,600.00 L901.14,600.00 L901.49,600.00 L901.83,600.00 L902.17,600.00 L902.52,600.00 L902.86,600.00 L903.20,600.00 L903.55,600.00 L903.89,600.00 L904.23,600.00 L904.58,600.00 L904.92,600.00 L905.26,600.00 L905.61,600.00 L905.95,600.00 L906.29,600.00 L906.64,600.00 L906.98,600.00 L907.33,600.00 L907.67,600.00 L908.01,600.00 L908.36,600.00 L908.70,600.00 L909.04,600.00 L909.39,600.00 L909.73,600.00 L910.07,600.00 L910.42,600.00 L910.76,600.00 L911.10,600.00 L911.45,600.00 L911.79,600.00 L912.13,600.00 L912.48,600.00 L912.82,600.00 L913.16,600.00 L913.51,600.00 L913.85,600.00 L914.19,600.00 L914.54,600.00 L914.88,600.00 L915.22,600.00 L915.57,600.00 L915.91,600.00 L916.26,600.00 L916.60,600.00 L916.94,600.00 L917.29,600.00 L917.63,600.00 L917.97,600.00 L918.32,600.00 L918.66,600.00 L919.00,600.00 L919.35,600.00 L919.69,600.00 L920.03,600.00 L920.38,600.00 L920.72,600.00 L921.06,600.00 L921.41,600.00 L921.75,600.00 L922.09,600.00 L922.44,600.00 L922.78,600.00 L923.12,600.00 L923.47,600.00 L923.81,600.00 L924.15,600.00 L924.50,600.00 L924.84,600.00 L925.18,600.00 L925.53,600.00 L925.87,600.00 L926.22,600.00 L926.56,600.00 L926.90,600.00 L927.25,600.00 L927.59,600.00 L927.93,600.00 L928.28,600.00 L928.62,600.00 L928.96,600.00 L929.31,600.00 L929.65,600.00 L929.99,600.00 L930.34,600.00 L930.68,600.00 L931.02,600.00 L931.37,600.00 L931.71,600.00 L932.05,600.00 L932.40,600.00 L932.74,600.00 L933.08,600.00 L933.43,600.00 L933.77,600.00 L934.11,600.00 L934.46,600.00 L934.80,600.00 L935.15,600.00 L935.49,600.00 L935.83,600.00 L936.18,600.00 L936.52,600.00 L936.86,600.00 L937.21,600.00 L937.55,600.00 L937.89,600.00 L938.24,600.00 L938.58,600.00 L938.92,600.00 L939.27,600.00 L939.61,600.00 L939.95,600.00 L940.30,600.00 L940.64,600.00 L940.98,600.00 L941.33,600.00 L941.67,600.00 L942.01,600.00 L942.36,600.00 L942.70,600.00 L943.04,600.00 L943.39,600.00 L943.73,600.00 L944.07,600.00 L944.42,600.00 L944.76,600.00 L945.11,600.00 L945.45,600.00 L945.79,600.00 L946.14,600.00 L946.48,600.00 L946.82,600.00 L947.17,600.00 L947.51,600.00 L947.85,600.00 L948.20,600.00 L948.54,600.00 L948.88,600.00 L949.23,600.00 L949.57,600.00 L949.91,600.00 L950.26,600.00 L950.60,600.00 L950.94,600.00 L951.29,600.00 L951.63,600.00 L951.97,600.00 L952.32,600.00 L952.66,600.00 L953.00,600.00 L953.35,600.00 L953.69,600.00 L954.04,600.00 L954.38,600.00 L954.72,600.00 L955.07,600.00 L955.41,600.00 L955.75,600.00 L956.10,600.00 L956.44,600.00 L956.78,600.00 L957.13,600.00 L957.47,597.79 L957.81,595.01 L958.16,592.24 L958.50,589.49 L958.84,586.75 L959.19,584.03 L959.53,581.32 L959.87,578.62 L960.22,575.94 L960.56,573.27 L960.90,570.61 L961.25,567.97 L961.59,565.34 L961.93,562.73 L962.28,560.13 L962.62,557.54 L962.96,554.96 L963.31,552.40 L963.65,549.85 L964.00,547.31 L964.34,544.79 L964.68,542.28 L965.03,539.78 L965.37,537.29 L965.71,534.82 L966.06,532.36 L966.40,529.91 L966.74,527.48 L967.09,525.06 L967.43,522.65 L967.77,520.25 L968.12,517.86 L968.46,515.49 L968.80,513.13 L969.15,510.78 L969.49,508.44 L969.83,506.12 L970.18,503.81 L970.52,501.51 L970.86,499.22 L971.21,496.94 L971.55,494.67 L971.89,492.42 L972.24,490.18 L972.58,487.95 L972.93,485.73 L973.27,483.52 L973.61,481.32 L973.96,479.14 L974.30,476.96 L974.64,474.80 L974.99,472.65 L975.33,470.51 L975.67,468.38 L976.02,466.26 L976.36,464.15 L976.70,462.06 L977.05,459.97 L977.39,457.90 L977.73,455.84 L978.08,453.78 L978.42,451.74 L978.76,449.71 L979.11,447.69 L979.45,445.68 L979.79,443.68 L980.14,441.69 L980.48,439.71 L980.82,437.74 L981.17,435.78 L981.51,433.83 L981.85,431.90 L982.20,429.97 L982.54,428.05 L982.89,426.14 L983.23,424.25 L983.57,422.36 L983.92,420.48 L984.26,418.61 L984.60,416.76 L984.95,414.91 L985.29,413.07 L985.63,411.24 L985.98,409.42 L986.32,407.61 L986.66,405.81 L987.01,404.02 L987.35,402.24 L987.69,400.47 L988.04,398.71 L988.38,396.96 L988.72,395.21 L989.07,393.48 L989.41,391.75 L989.75,390.04 L990.10,388.33 L990.44,386.64 L990.78,384.95 L991.13,383.27 L991.47,381.60 L991.82,379.94 L992.16,378.28 L992.50,376.64 L992.85,375.01 L993.19,373.38 L993.53,371.76 L993.88,370.16 L994.22,368.56 L994.56,366.96 L994.91,365.38 L995.25,363.81 L995.59,362.24 L995.94,360.69 L996.28,359.14 L996.62,357.60 L996.97,356.06 L997.31,354.54 L997.65,353.03 L998.00,351.52 L998.34,350.02 L998.68,348.53 L999.03,347.05 L999.37,345.57 L999.71,344.10 L1000.06,342.65 L1000.40,341.20 L1000.74,339.75 L1001.09,338.32 L1001.43,336.89 L1001.78,335.47 L1002.12,334.06 L1002.46,332.66 L1002.81,331.26 L1003.15,329.87 L1003.49,328.49 L1003.84,327.12 L1004.18,325.75 L1004.52,324.40 L1004.87,323.05 L1005.21,321.70 L1005.55,320.37 L1005.90,319.04 L1006.24,317.72 L1006.58,316.41 L1006.93,315.10 L1007.27,313.80 L1007.61,312.51 L1007.96,311.23 L1008.30,309.95 L1008.64,308.68 L1008.99,307.42 L1009.33,306.16 L1009.67,304.91 L1010.02,303.67 L1010.36,302.43 L1010.71,301.21 L1011.05,299.99 L1011.39,298.77 L1011.74,297.56 L1012.08,296.36 L1012.42,295.17 L1012.77,293.98 L1013.11,292.80 L1013.45,291.63 L1013.80,290.46 L1014.14,289.30 L1014.48,288.15 L1014.83,287.00 L1015.17,285.86 L1015.51,284.73 L1015.86,283.60 L1016.20,282.48 L1016.54,281.36 L1016.89,280.26 L1017.23,279.15 L1017.57,278.06 L1017.92,276.97 L1018.26,275.89 L1018.60,274.81 L1018.95,273.74 L1019.29,272.68 L1019.63,271.62 L1019.98,270.56 L1020.32,269.52 L1020.67,268.48 L1021.01,267.45 L1021.35,266.42 L1021.70,265.40 L1022.04,264.38 L1022.38,263.37 L1022.73,262.37 L1023.07,261.37 L1023.41,260.38 L1023.76,259.39 L1024.10,258.41 L1024.44,257.43 L1024.79,256.46 L1025.13,255.50 L1025.47,254.54 L1025.82,253.59 L1026.16,252.64 L1026.50,251.70 L1026.85,250.77 L1027.19,249.84 L1027.53,248.91 L1027.88,248.00 L1028.22,247.08 L1028.56,246.17 L1028.91,245.27 L1029.25,244.38 L1029.60,243.48 L1029.94,242.60 L1030.28,241.72 L1030.63,240.84 L1030.97,239.97 L1031.31,239.11 L1031.66,238.25 L1032.00,237.39 L1032.34,236.54 L1032.69,235.70 L1033.03,234.86 L1033.37,234.03 L1033.72,233.20 L1034.06,232.38 L1034.40,231.56 L1034.75,230.74 L1035.09,229.93 L1035.43,229.13 L1035.78,228.33 L1036.12,227.54 L1036.46,226.75 L1036.81,225.97 L1037.15,225.19 L1037.49,224.41 L1037.84,223.64 L1038.18,222.88 L1038.52,222.12 L1038.87,221.36 L1039.21,220.61 L1039.56,219.87 L1039.90,219.13 L1040.24,218.39 L1040.59,217.66 L1040.93,216.93 L1041.27,216.21 L1041.62,215.49 L1041.96,214.78 L1042.30,214.07 L1042.65,213.37 L1042.99,212.67 L1043.33,211.97 L1043.68,211.28 L1044.02,210.60 L1044.36,209.92 L1044.71,209.24 L1045.05,208.56 L1045.39,207.90 L1045.74,207.23 L1046.08,206.57 L1046.42,205.92 L1046.77,205.27 L1047.11,204.62 L1047.45,203.98 L1047.80,203.34 L1048.14,202.70 L1048.49,202.07 L1048.83,201.45 L1049.17,200.82 L1049.52,200.21 L1049.86,199.59 L1050.20,198.98 L1050.55,198.38 L1050.89,197.78 L1051.23,197.18 L1051.58,196.58 L1051.92,195.99 L1052.26,195.41 L1052.61,194.83 L1052.95,194.25 L1053.29,193.68 L1053.64,193.11 L1053.98,192.54 L1054.32,191.98 L1054.67,191.42 L1055.01,190.87 L1055.35,190.32 L1055.70,189.77 L1056.04,189.23 L1056.38,188.69 L1056.73,188.15 L1057.07,187.62 L1057.41,187.09 L1057.76,186.57 L1058.10,186.05 L1058.45,185.53 L1058.79,185.02 L1059.13,184.51 L1059.48,184.00 L1059.82,183.50 L1060.16,183.00 L1060.51,182.50 L1060.85,182.01 L1061.19,181.52 L1061.54,181.04 L1061.88,180.56 L1062.22,180.08 L1062.57,179.60 L1062.91,179.13 L1063.25,178.66 L1063.60,178.20 L1063.94,177.74 L1064.28,177.28 L1064.63,176.83 L1064.97,176.38 L1065.31,175.93 L1065.66,175.49 L1066.00,175.04 L1066.34,174.61 L1066.69,174.17 L1067.03,173.74 L1067.38,173.31 L1067.72,172.89 L1068.06,172.47 L1068.41,172.05 L1068.75,171.64 L1069.09,171.22 L1069.44,170.82 L1069.78,170.41 L1070.12,170.01 L1070.47,169.61 L1070.81,169.21 L1071.15,168.82 L1071.50,168.43 L1071.84,168.04 L1072.18,167.66 L1072.53,167.28 L1072.87,166.90 L1073.21,166.52 L1073.56,166.15 L1073.90,165.78 L1074.24,165.42 L1074.59,165.05 L1074.93,164.69 L1075.27,164.34 L1075.62,163.98 L1075.96,163.63 L1076.30,163.28 L1076.65,162.93 L1076.99,162.59 L1077.34,162.25 L1077.68,161.91 L1078.02,161.58 L1078.37,161.25 L1078.71,160.92 L1079.05,160.59 L1079.40,160.27 L1079.74,159.95 L1080.08,159.63 L1080.43,159.31 L1080.77,159.00 L1081.11,158.69 L1081.46,158.38 L1081.80,158.08 L1082.14,157.78 L1082.49,157.48 L1082.83,157.18 L1083.17,156.89 L1083.52,156.59 L1083.86,156.31 L1084.20,156.02 L1084.55,155.74 L1084.89,155.45 L1085.23,155.17 L1085.58,154.90 L1085.92,154.62 L1086.27,154.35 L1086.61,154.08 L1086.95,153.82 L1087.30,153.55 L1087.64,153.29 L1087.98,153.03 L1088.33,152.78 L1088.67,152.52 L1089.01,152.27 L1089.36,152.02 L1089.70,151.77 L1090.04,151.53 L1090.39,151.29 L1090.73,151.05 L1091.07,150.81 L1091.42,150.57 L1091.76,150.34 L1092.10,150.11 L1092.45,149.88 L1092.79,149.65 L1093.13,149.43 L1093.48,149.21 L1093.82,148.99 L1094.16,148.77 L1094.51,148.55 L1094.85,148.34 L1095.19,148.13 L1095.54,147.92 L1095.88,147.72 L1096.23,147.51 L1096.57,147.31 L1096.91,147.11 L1097.26,146.91 L1097.60,146.71 L1097.94,146.52 L1098.29,146.33 L1098.63,146.14 L1098.97,145.95 L1099.32,145.77 L1099.66,145.58 L1100.00,145.40 L1100.35,145.22 L1100.69,145.05 L1101.03,144.87 L1101.38,144.70 L1101.72,144.53 L1102.06,144.36 L1102.41,144.19 L1102.75,144.02 L1103.09,143.86 L1103.44,143.70 L1103.78,143.54 L1104.12,143.38 L1104.47,143.23 L1104.81,143.07 L1105.16,142.92 L1105.50,142.77 L1105.84,142.62 L1106.19,142.47 L1106.53,142.33 L1106.87,142.19 L1107.22,142.05 L1107.56,141.91 L1107.90,141.77 L1108.25,141.63 L1108.59,141.50 L1108.93,141.37 L1109.28,141.24 L1109.62,141.11 L1109.96,140.98 L1110.31,140.86 L1110.65,140.74 L1110.99,140.61 L1111.34,140.49 L1111.68,140.38 L1112.02,140.26 L1112.37,140.15 L1112.71,140.03 L1113.05,139.92 L1113.40,139.81 L1113.74,139.70 L1114.08,139.60 L1114.43,139.49 L1114.77,139.39 L1115.12,139.29 L1115.46,139.19 L1115.80,139.09 L1116.15,138.99 L1116.49,138.90 L1116.83,138.80 L1117.18,138.71 L1117.52,138.62 L1117.86,138.53 L1118.21,138.45 L1118.55,138.36 L1118.89,138.28 L1119.24,138.19 L1119.58,138.11 L1119.92,138.03 L1120.27,137.95 L1120.61,137.88 L1120.95,137.80 L1121.30,137.73 L1121.64,137.66 L1121.98,137.59 L1122.33,137.52 L1122.67,137.45 L1123.01,137.38 L1123.36,137.32 L1123.70,137.25 L1124.05,137.19 L1124.39,137.13 L1124.73,137.07 L1125.08,137.01 L1125.42,136.95 L1125.76,136.90 L1126.11,136.85 L1126.45,136.79 L1126.79,136.74 L1127.14,136.69 L1127.48,136.64 L1127.82,136.60 L1128.17,136.55 L1128.51,136.50 L1128.85,136.46 L1129.20,136.42 L1129.54,136.38 L1129.88,136.34 L1130.23,136.30 L1130.57,136.26 L1130.91,136.23 L1131.26,136.19 L1131.60,136.16 L1131.94,136.13 L1132.29,136.10 L1132.63,136.07 L1132.97,136.04 L1133.32,136.01 L1133.66,135.98 L1134.01,135.96 L1134.35,135.94 L1134.69,135.91 L1135.04,135.89 L1135.38,135.87 L1135.72,135.85 L1136.07,135.83 L1136.41,135.82 L1136.75,135.80 L1137.10,135.79 L1137.44,135.77 L1137.78,135.76 L1138.13,135.75 L1138.47,135.74 L1138.81,135.73 L1139.16,135.72 L1139.50,135.72 L1139.84,135.71 L1140.19,135.71 L1140.53,135.70 L1140.87,135.70 L1141.22,135.70 L1141.56,135.70 L1141.90,135.70 L1142.25,135.70 L1142.59,135.71 L1142.93,135.71 L1143.28,135.71 L1143.62,135.72 L1143.97,135.73 L1144.31,135.73 L1144.65,135.74 L1145.00,135.75 L1145.34,135.76 L1145.68,135.78 L1146.03,135.79 L1146.37,135.80 L1146.71,135.82 L1147.06,135.83 L1147.40,135.85 L1147.74,135.87 L1148.09,135.89 L1148.43,135.91 L1148.77,135.93 L1149.12,135.95 L1149.46,135.97 L1149.80,135.99 L1150.15,136.02 L1150.49,136.04 L1150.83,136.07 L1151.18,136.09 L1151.52,136.12 L1151.86,136.15 L1152.21,136.18 L1152.55,136.21 L1152.90,136.24 L1153.24,136.27 L1153.58,136.31 L1153.93,136.34 L1154.27,136.37 L1154.61,136.41 L1154.96,136.45 L1155.30,136.48 L1155.64,136.52 L1155.99,136.56 L1156.33,136.60 L1156.67,136.64 L1157.02,136.68 L1157.36,136.72 L1157.70,136.77 L1158.05,136.81 L1158.39,136.85 L1158.73,136.90 L1159.08,136.94 L1159.42,136.99 L1159.76,137.04 L1160.11,137.09 L1160.45,137.14 L1160.79,137.19 L1161.14,137.24 L1161.48,137.29 L1161.82,137.34 L1162.17,137.39 L1162.51,137.45 L1162.86,137.50 L1163.20,137.55 L1163.54,137.61 L1163.89,137.67 L1164.23,137.72 L1164.57,137.78 L1164.92,137.84 L1165.26,137.90 L1165.60,137.96 L1165.95,138.02 L1166.29,138.08 L1166.63,138.14 L1166.98,138.21 L1167.32,138.27 L1167.66,138.33 L1168.01,138.40 L1168.35,138.46 L1168.69,138.53 L1169.04,138.60 L1169.38,138.66 L1169.72,138.73 L1170.07,138.80 L1170.41,138.87 L1170.75,138.94 L1171.10,139.01 L1171.44,139.08 L1171.79,139.15 L1172.13,139.22 L1172.47,139.30 L1172.82,139.37 L1173.16,139.45 L1173.50,139.52 L1173.85,139.60 L1174.19,139.67 L1174.53,139.75 L1174.88,139.83 L1175.22,139.90 L1175.56,139.98 L1175.91,140.06 L1176.25,140.14 L1176.59,140.22 L1176.94,140.30 L1177.28,140.38 L1177.62,140.46 L1177.97,140.55 L1178.31,140.63 L1178.65,140.71 L1179.00,140.80 L1179.34,140.88 L1179.68,140.97 L1180.03,141.05 L1180.37,141.14 L1180.71,141.23 L1181.06,141.31 L1181.40,141.40 L1181.75,141.49 L1182.09,141.58 L1182.43,141.67 L1182.78,141.76 L1183.12,141.85 L1183.46,141.94 L1183.81,142.03 L1184.15,142.12 L1184.49,142.22 L1184.84,142.31 L1185.18,142.40 L1185.52,142.50 L1185.87,142.59 L1186.21,142.69 L1186.55,142.78 L1186.90,142.88 L1187.24,142.97 L1187.58,143.07 L1187.93,143.17 L1188.27,143.27 L1188.61,143.36 L1188.96,143.46 L1189.30,143.56 L1189.64,143.66 L1189.99,143.76 L1190.33,143.86 L1190.68,143.96 L1191.02,144.07 L1191.36,144.17 L1191.71,144.27 L1192.05,144.37 L1192.39,144.48 L1192.74,144.58 L1193.08,144.68 L1193.42,144.79 L1193.77,144.89 L1194.11,145.00 L1194.45,145.10 L1194.80,145.21 L1195.14,145.32 L1195.48,145.43 L1195.83,145.53 L1196.17,145.64 L1196.51,145.75 L1196.86,145.86 L1197.20,145.97 L1197.54,146.08 L1197.89,146.19 L1198.23,146.30 L1198.57,146.41 L1198.92,146.52 L1199.26,146.63 L1199.60,146.74 L1199.95,146.86 L1200.29,146.97 L1200.64,147.08 L1200.98,147.19 L1201.32,147.31 L1201.67,147.42 L1202.01,147.54 L1202.35,147.65 L1202.70,147.77 L1203.04,147.88 L1203.38,148.00 L1203.73,148.12 L1204.07,148.23 L1204.41,148.35 L1204.76,148.47 L1205.10,148.59 L1205.44,148.70 L1205.79,148.82 L1206.13,148.94 L1206.47,149.06 L1206.82,149.18 L1207.16,149.30 L1207.50,149.42 L1207.85,149.54 L1208.19,149.66 L1208.53,149.78 L1208.88,149.91 L1209.22,150.03 L1209.57,150.15 L1209.91,150.27 L1210.25,150.40 L1210.60,150.52 L1210.94,150.64 L1211.28,150.77 L1211.63,150.89 L1211.97,151.02 L1212.31,151.14 L1212.66,151.27 L1213.00,151.39 L1213.34,151.52 L1213.69,151.64 L1214.03,151.77 L1214.37,151.90 L1214.72,152.02 L1215.06,152.15 L1215.40,152.28 L1215.75,152.41 L1216.09,152.54 L1216.43,152.66 L1216.78,152.79 L1217.12,152.92 L1217.46,153.05 L1217.81,153.18 L1218.15,153.31 L1218.49,153.44 L1218.84,153.57 L1219.18,153.70 L1219.53,153.83 L1219.87,153.97 L1220.21,154.10 L1220.56,154.23 L1220.90,154.36 L1221.24,154.49 L1221.59,154.63 L1221.93,154.76 L1222.27,154.89 L1222.62,155.03 L1222.96,155.16 L1223.30,155.30 L1223.65,155.43 L1223.99,155.56 L1224.33,155.70 L1224.68,155.83 L1225.02,155.97 L1225.36,156.11 L1225.71,156.24 L1226.05,156.38 L1226.39,156.51 L1226.74,156.65 L1227.08,156.79 L1227.42,156.92 L1227.77,157.06 L1228.11,157.20 L1228.46,157.34 L1228.80,157.48 L1229.14,157.61 L1229.49,157.75 L1229.83,157.89 L1230.17,158.03 L1230.52,158.17 L1230.86,158.31 L1231.20,158.45 L1231.55,158.59 L1231.89,158.73 L1232.23,158.87 L1232.58,159.01 L1232.92,159.15 L1233.26,159.29 L1233.61,159.43 L1233.95,159.58 L1234.29,159.72 L1234.64,159.86 L1234.98,160.00 L1235.32,160.14 L1235.67,160.29 L1236.01,160.43 L1236.35,160.57 L1236.70,160.72 L1237.04,160.86 L1237.38,161.00 L1237.73,161.15 L1238.07,161.29 L1238.42,161.44 L1238.76,161.58 L1239.10,161.73 L1239.45,161.87 L1239.79,162.02 L1240.13,162.16 L1240.48,162.31 L1240.82,162.45 L1241.16,162.60 L1241.51,162.74 L1241.85,162.89 L1242.19,163.04 L1242.54,163.18 L1242.88,163.33 L1243.22,163.48 L1243.57,163.63 L1243.91,163.77 L1244.25,163.92 L1244.60,164.07 L1244.94,164.22 L1245.28,164.36 L1245.63,164.51 L1245.97,164.66 L1246.31,164.81 L1246.66,164.96 L1247.00,165.11 L1247.35,165.26 L1247.69,165.41 L1248.03,165.56 L1248.38,165.71 L1248.72,165.86 L1249.06,166.01 L1249.41,166.16 L1249.75,166.31 L1250.09,166.46 L1250.44,166.61 L1250.78,166.76 L1251.12,166.91 L1251.47,167.06 L1251.81,167.21 L1252.15,167.37 L1252.50,167.52 L1252.84,167.67 L1253.18,167.82 L1253.53,167.97 L1253.87,168.13 L1254.21,168.28 L1254.56,168.43 L1254.90,168.59 L1255.24,168.74 L1255.59,168.89 L1255.93,169.05 L1256.27,169.20 L1256.62,169.35 L1256.96,169.51 L1257.31,169.66 L1257.65,169.82 L1257.99,169.97 L1258.34,170.12 L1258.68,170.28 L1259.02,170.43 L1259.37,170.59 L1259.71,170.74 L1260.05,170.90 L1260.40,171.05 L1260.74,171.21 L1261.08,171.37 L1261.43,171.52 L1261.77,171.68 L1262.11,171.83 L1262.46,171.99 L1262.80,172.15 L1263.14,172.30 L1263.49,172.46 L1263.83,172.62 L1264.17,172.77 L1264.52,172.93 L1264.86,173.09 L1265.20,173.25 L1265.55,173.40 L1265.89,173.56 L1266.24,173.72 L1266.58,173.88 L1266.92,174.03 L1267.27,174.19 L1267.61,174.35 L1267.95,174.51 L1268.30,174.67 L1268.64,174.83 L1268.98,174.99 L1269.33,175.14 L1269.67,175.30 L1270.01,175.46 L1270.36,175.62 L1270.70,175.78" stroke="#DC143C" stroke-opacity="0.34" stroke-width="3.9" fill="none"/>
<path d="M790.21,442.55 L790.55,441.01 L790.89,439.49 L791.24,437.97 L791.58,436.45 L791.92,434.94 L792.27,433.44 L792.61,431.94 L792.96,430.45 L793.30,428.95 L793.64,427.47 L793.99,425.98 L794.33,424.50 L794.67,423.02 L795.02,421.55 L795.36,420.07 L795.70,418.59 L796.05,417.12 L796.39,415.65 L796.73,414.17 L797.08,412.70 L797.42,411.22 L797.76,409.74 L798.11,408.26 L798.45,406.78 L798.79,405.30 L799.14,403.81 L799.48,402.32 L799.82,400.82 L800.17,399.32 L800.51,397.82 L800.85,396.31 L801.20,394.79 L801.54,393.27 L801.88,391.74 L802.23,390.20 L802.57,388.66 L802.92,387.11 L803.26,385.55 L803.60,383.99 L803.95,382.41 L804.29,380.83 L804.63,379.23 L804.98,377.63 L805.32,376.01 L805.66,374.39 L806.01,372.76 L806.35,371.12 L806.69,369.47 L807.04,367.82 L807.38,366.16 L807.72,364.50 L808.07,362.83 L808.41,361.16 L808.75,359.48 L809.10,357.80 L809.44,356.12 L809.78,354.43 L810.13,352.75 L810.47,351.06 L810.81,349.38 L811.16,347.72 L811.50,346.06 L811.85,344.43 L812.19,342.82 L812.53,341.25 L812.88,339.71 L813.22,338.21 L813.56,336.76 L813.91,335.36 L814.25,334.01 L814.59,332.71 L814.94,331.46 L815.28,330.25 L815.62,329.09 L815.97,327.97 L816.31,326.89 L816.65,325.84 L817.00,324.83 L817.34,323.84 L817.68,322.89 L818.03,321.96 L818.37,321.05 L818.71,320.16 L819.06,319.29 L819.40,318.44 L819.74,317.59 L820.09,316.76 L820.43,315.94 L820.77,315.12 L821.12,314.31 L821.46,313.51 L821.81,312.70 L822.15,311.90 L822.49,311.09 L822.84,310.28 L823.18,309.47 L823.52,308.64 L823.87,307.81 L824.21,306.97 L824.55,306.12 L824.90,305.25 L825.24,304.36 L825.58,303.46 L825.93,302.55 L826.27,301.61 L826.61,300.66 L826.96,299.70 L827.30,298.73 L827.64,297.74 L827.99,296.74 L828.33,295.74 L828.67,294.73 L829.02,293.71 L829.36,292.69 L829.70,291.66 L830.05,290.63 L830.39,289.59 L830.74,288.56 L831.08,287.53 L831.42,286.49 L831.77,285.46 L832.11,284.44 L832.45,283.42 L832.80,282.41 L833.14,281.40 L833.48,280.40 L833.83,279.41 L834.17,278.44 L834.51,277.47 L834.86,276.52 L835.20,275.58 L835.54,274.66 L835.89,273.76 L836.23,272.87 L836.57,272.00 L836.92,271.16 L837.26,270.33 L837.60,269.52 L837.95,268.73 L838.29,267.96 L838.63,267.21 L838.98,266.48 L839.32,265.77 L839.66,265.08 L840.01,264.41 L840.35,263.76 L840.70,263.13 L841.04,262.52 L841.38,261.93 L841.73,261.37 L842.07,260.82 L842.41,260.29 L842.76,259.78 L843.10,259.29 L843.44,258.82 L843.79,258.36 L844.13,257.93 L844.47,257.50 L844.82,257.09 L845.16,256.68 L845.50,256.29 L845.85,255.91 L846.19,255.53 L846.53,255.16 L846.88,254.79 L847.22,254.42 L847.56,254.06 L847.91,253.70 L848.25,253.33 L848.59,252.96 L848.94,252.59 L849.28,252.21 L849.62,251.83 L849.97,251.43 L850.31,251.03 L850.66,250.63 L851.00,250.21 L851.34,249.79 L851.69,249.37 L852.03,248.94 L852.37,248.50 L852.72,248.06 L853.06,247.62 L853.40,247.17 L853.75,246.71 L854.09,246.26 L854.43,245.80 L854.78,245.34 L855.12,244.87 L855.46,244.41 L855.81,243.94 L856.15,243.47 L856.49,243.00 L856.84,242.53 L857.18,242.06 L857.52,241.59 L857.87,241.12 L858.21,240.66 L858.55,240.19 L858.90,239.73 L859.24,239.26 L859.59,238.80 L859.93,238.35 L860.27,237.89 L860.62,237.44 L860.96,237.00 L861.30,236.55 L861.65,236.12 L861.99,235.68 L862.33,235.26 L862.68,234.84 L863.02,234.42 L863.36,234.01 L863.71,233.61 L864.05,233.22 L864.39,232.83 L864.74,232.45 L865.08,232.08 L865.42,231.72 L865.77,231.36 L866.11,231.02 L866.45,230.68 L866.80,230.35 L867.14,230.03 L867.48,229.72 L867.83,229.41 L868.17,229.11 L868.51,228.82 L868.86,228.54 L869.20,228.27 L869.55,228.00 L869.89,227.74 L870.23,227.48 L870.58,227.23 L870.92,226.99 L871.26,226.76 L871.61,226.53 L871.95,226.31 L872.29,226.09 L872.64,225.88 L872.98,225.67 L873.32,225.48 L873.67,225.28 L874.01,225.09 L874.35,224.91 L874.70,224.73 L875.04,224.56 L875.38,224.39 L875.73,224.23 L876.07,224.07 L876.41,223.92 L876.76,223.77 L877.10,223.62 L877.44,223.48 L877.79,223.34 L878.13,223.21 L878.48,223.08 L878.82,222.95 L879.16,222.83 L879.51,222.71 L879.85,222.59 L880.19,222.48 L880.54,222.37 L880.88,222.26 L881.22,222.15 L881.57,222.05 L881.91,221.95 L882.25,221.85 L882.60,221.75 L882.94,221.66 L883.28,221.57 L883.63,221.48 L883.97,221.39 L884.31,221.30 L884.66,221.21 L885.00,221.13 L885.34,221.04 L885.69,220.96 L886.03,220.87 L886.37,220.79 L886.72,220.71 L887.06,220.63 L887.40,220.55 L887.75,220.47 L888.09,220.39 L888.44,220.31 L888.78,220.23 L889.12,220.15 L889.47,220.07 L889.81,219.99 L890.15,219.91 L890.50,219.83 L890.84,219.75 L891.18,219.67 L891.53,219.60 L891.87,219.52 L892.21,219.44 L892.56,219.37 L892.90,219.29 L893.24,219.22 L893.59,219.14 L893.93,219.07 L894.27,218.99 L894.62,218.92 L894.96,218.85 L895.30,218.78 L895.65,218.71 L895.99,218.64 L896.33,218.57 L896.68,218.50 L897.02,218.44 L897.37,218.37 L897.71,218.31 L898.05,218.24 L898.40,218.18 L898.74,218.12 L899.08,218.05 L899.43,217.99 L899.77,217.93 L900.11,217.88 L900.46,217.82 L900.80,217.76 L901.14,217.71 L901.49,217.66 L901.83,217.60 L902.17,217.55 L902.52,217.50 L902.86,217.45 L903.20,217.41 L903.55,217.36 L903.89,217.31 L904.23,217.27 L904.58,217.23 L904.92,217.19 L905.26,217.15 L905.61,217.11 L905.95,217.07 L906.29,217.03 L906.64,217.00 L906.98,216.96 L907.33,216.93 L907.67,216.90 L908.01,216.87 L908.36,216.84 L908.70,216.81 L909.04,216.78 L909.39,216.75 L909.73,216.73 L910.07,216.70 L910.42,216.68 L910.76,216.66 L911.10,216.64 L911.45,216.61 L911.79,216.60 L912.13,216.58 L912.48,216.56 L912.82,216.54 L913.16,216.52 L913.51,216.51 L913.85,216.49 L914.19,216.48 L914.54,216.47 L914.88,216.46 L915.22,216.45 L915.57,216.44 L915.91,216.43 L916.26,216.42 L916.60,216.41 L916.94,216.40 L917.29,216.40 L917.63,216.39 L917.97,216.39 L918.32,216.38 L918.66,216.38 L919.00,216.37 L919.35,216.37 L919.69,216.37 L920.03,216.37 L920.38,216.37 L920.72,216.37 L921.06,216.37 L921.41,216.37 L921.75,216.38 L922.09,216.38 L922.44,216.38 L922.78,216.39 L923.12,216.39 L923.47,216.40 L923.81,216.40 L924.15,216.41 L924.50,216.41 L924.84,216.42 L925.18,216.43 L925.53,216.44 L925.87,216.45 L926.22,216.45 L926.56,216.46 L926.90,216.47 L927.25,216.48 L927.59,216.49 L927.93,216.50 L928.28,216.52 L928.62,216.53 L928.96,216.54 L929.31,216.55 L929.65,216.56 L929.99,216.58 L930.34,216.59 L930.68,216.60 L931.02,216.62 L931.37,216.63 L931.71,216.65 L932.05,216.66 L932.40,216.67 L932.74,216.69 L933.08,216.70 L933.43,216.72 L933.77,216.73 L934.11,216.75 L934.46,216.77 L934.80,216.78 L935.15,216.80 L935.49,216.81 L935.83,216.83 L936.18,216.85 L936.52,216.86 L936.86,216.88 L937.21,216.89 L937.55,216.91 L937.89,216.93 L938.24,216.94 L938.58,216.96 L938.92,216.98 L939.27,217.00 L939.61,217.01 L939.95,217.03 L940.30,217.05 L940.64,217.07 L940.98,217.09 L941.33,217.11 L941.67,217.13 L942.01,217.15 L942.36,217.17 L942.70,217.19 L943.04,217.21 L943.39,217.23 L943.73,217.25 L944.07,217.28 L944.42,217.30 L944.76,217.32 L945.11,217.35 L945.45,217.37 L945.79,217.40 L946.14,217.42 L946.48,217.45 L946.82,217.48 L947.17,217.50 L947.51,217.53 L947.85,217.56 L948.20,217.59 L948.54,217.62 L948.88,217.65 L949.23,217.68 L949.57,217.72 L949.91,217.75 L950.26,217.78 L950.60,217.82 L950.94,217.85 L951.29,217.89 L951.63,217.92 L951.97,217.96 L952.32,218.00 L952.66,218.04 L953.00,218.08 L953.35,218.12 L953.69,218.17 L954.04,218.21 L954.38,218.25 L954.72,218.30 L955.07,218.34 L955.41,218.39 L955.75,218.44 L956.10,218.49 L956.44,218.54 L956.78,218.59 L957.13,218.64 L957.47,218.70 L957.81,218.75 L958.16,218.81 L958.50,218.86 L958.84,218.92 L959.19,218.98 L959.53,219.04 L959.87,219.10 L960.22,219.17 L960.56,219.23 L960.90,219.30 L961.25,219.36 L961.59,219.43 L961.93,219.50 L962.28,219.57 L962.62,219.64 L962.96,219.72 L963.31,219.79 L963.65,219.87 L964.00,219.94 L964.34,220.02 L964.68,220.10 L965.03,220.19 L965.37,220.27 L965.71,220.35 L966.06,220.44 L966.40,220.53 L966.74,220.62 L967.09,220.71 L967.43,220.80 L967.77,220.90 L968.12,220.99 L968.46,221.09 L968.80,221.19 L969.15,221.29 L969.49,221.39 L969.83,221.50 L970.18,221.60 L970.52,221.71 L970.86,221.82 L971.21,221.93 L971.55,222.04 L971.89,222.15 L972.24,222.27 L972.58,222.38 L972.93,222.50 L973.27,222.62 L973.61,222.74 L973.96,222.86 L974.30,222.98 L974.64,223.11 L974.99,223.23 L975.33,223.36 L975.67,223.49 L976.02,223.62 L976.36,223.75 L976.70,223.88 L977.05,224.01 L977.39,224.14 L977.73,224.28 L978.08,224.42 L978.42,224.55 L978.76,224.69 L979.11,224.83 L979.45,224.97 L979.79,225.11 L980.14,225.25 L980.48,225.40 L980.82,225.54 L981.17,225.69 L981.51,225.83 L981.85,225.98 L982.20,226.13 L982.54,226.28 L982.89,226.42 L983.23,226.57 L983.57,226.73 L983.92,226.88 L984.26,227.03 L984.60,227.18 L984.95,227.34 L985.29,227.49 L985.63,227.65 L985.98,227.80 L986.32,227.96 L986.66,228.11 L987.01,228.27 L987.35,228.43 L987.69,228.59 L988.04,228.75 L988.38,228.91 L988.72,229.07 L989.07,229.23 L989.41,229.39 L989.75,229.55 L990.10,229.71 L990.44,229.87 L990.78,230.04 L991.13,230.20 L991.47,230.36 L991.82,230.52 L992.16,230.69 L992.50,230.85 L992.85,231.02 L993.19,231.18 L993.53,231.34 L993.88,231.51 L994.22,231.67 L994.56,231.84 L994.91,232.00 L995.25,232.17 L995.59,232.33 L995.94,232.50 L996.28,232.66 L996.62,232.83 L996.97,232.99 L997.31,233.16 L997.65,233.32 L998.00,233.49 L998.34,233.65 L998.68,233.82 L999.03,233.98 L999.37,234.15 L999.71,234.31 L1000.06,234.48 L1000.40,234.64 L1000.74,234.80 L1001.09,234.97 L1001.43,235.13 L1001.78,235.29 L1002.12,235.46 L1002.46,235.62 L1002.81,235.78 L1003.15,235.95 L1003.49,236.11 L1003.84,236.27 L1004.18,236.43 L1004.52,236.60 L1004.87,236.76 L1005.21,236.92 L1005.55,237.08 L1005.90,237.25 L1006.24,237.41 L1006.58,237.57 L1006.93,237.73 L1007.27,237.89 L1007.61,238.06 L1007.96,238.22 L1008.30,238.38 L1008.64,238.54 L1008.99,238.70 L1009.33,238.87 L1009.67,239.03 L1010.02,239.19 L1010.36,239.35 L1010.71,239.51 L1011.05,239.67 L1011.39,239.84 L1011.74,240.00 L1012.08,240.16 L1012.42,240.32 L1012.77,240.48 L1013.11,240.64 L1013.45,240.81 L1013.80,240.97 L1014.14,241.13 L1014.48,241.29 L1014.83,241.45 L1015.17,241.62 L1015.51,241.78 L1015.86,241.94 L1016.20,242.10 L1016.54,242.27 L1016.89,242.43 L1017.23,242.59 L1017.57,242.75 L1017.92,242.92 L1018.26,243.08 L1018.60,243.24 L1018.95,243.41 L1019.29,243.57 L1019.63,243.73 L1019.98,243.90 L1020.32,244.06 L1020.67,244.22 L1021.01,244.39 L1021.35,244.55 L1021.70,244.71 L1022.04,244.88 L1022.38,245.04 L1022.73,245.21 L1023.07,245.37 L1023.41,245.54 L1023.76,245.70 L1024.10,245.87 L1024.44,246.03 L1024.79,246.20 L1025.13,246.36 L1025.47,246.53 L1025.82,246.70 L1026.16,246.86 L1026.50,247.03 L1026.85,247.19 L1027.19,247.36 L1027.53,247.53 L1027.88,247.69 L1028.22,247.86 L1028.56,248.03 L1028.91,248.20 L1029.25,248.36 L1029.60,248.53 L1029.94,248.70 L1030.28,248.87 L1030.63,249.03 L1030.97,249.20 L1031.31,249.37 L1031.66,249.54 L1032.00,249.71 L1032.34,249.87 L1032.69,250.04 L1033.03,250.21 L1033.37,250.38 L1033.72,250.55 L1034.06,250.72 L1034.40,250.89 L1034.75,251.06 L1035.09,251.23 L1035.43,251.40 L1035.78,251.57 L1036.12,251.74 L1036.46,251.91 L1036.81,252.08 L1037.15,252.25 L1037.49,252.42 L1037.84,252.59 L1038.18,252.76 L1038.52,252.93 L1038.87,253.10 L1039.21,253.27 L1039.56,253.44 L1039.90,253.62 L1040.24,253.79 L1040.59,253.96 L1040.93,254.13 L1041.27,254.30 L1041.62,254.47 L1041.96,254.65 L1042.30,254.82 L1042.65,254.99 L1042.99,255.16 L1043.33,255.33 L1043.68,255.51 L1044.02,255.68 L1044.36,255.85 L1044.71,256.03 L1045.05,256.20 L1045.39,256.37 L1045.74,256.54 L1046.08,256.72 L1046.42,256.89 L1046.77,257.06 L1047.11,257.24 L1047.45,257.41 L1047.80,257.59 L1048.14,257.76 L1048.49,257.93 L1048.83,258.11 L1049.17,258.28 L1049.52,258.46 L1049.86,258.63 L1050.20,258.81 L1050.55,258.98 L1050.89,259.15 L1051.23,259.33 L1051.58,259.50 L1051.92,259.68 L1052.26,259.85 L1052.61,260.03 L1052.95,260.20 L1053.29,260.38 L1053.64,260.56 L1053.98,260.73 L1054.32,260.91 L1054.67,261.08 L1055.01,261.26 L1055.35,261.43 L1055.70,261.61 L1056.04,261.79 L1056.38,261.96 L1056.73,262.14 L1057.07,262.31 L1057.41,262.49 L1057.76,262.67 L1058.10,262.84 L1058.45,263.02 L1058.79,263.20 L1059.13,263.37 L1059.48,263.55 L1059.82,263.73 L1060.16,263.90 L1060.51,264.08 L1060.85,264.26 L1061.19,264.44 L1061.54,264.61 L1061.88,264.79 L1062.22,264.97 L1062.57,265.15 L1062.91,265.32 L1063.25,265.50 L1063.60,265.68 L1063.94,265.86 L1064.28,266.03 L1064.63,266.21 L1064.97,266.39 L1065.31,266.57 L1065.66,266.75 L1066.00,266.92 L1066.34,267.10 L1066.69,267.28 L1067.03,267.46 L1067.38,267.64 L1067.72,267.82 L1068.06,267.99 L1068.41,268.17 L1068.75,268.35 L1069.09,268.53 L1069.44,268.71 L1069.78,268.89 L1070.12,269.07 L1070.47,269.25 L1070.81,269.42 L1071.15,269.60 L1071.50,269.78 L1071.84,269.96 L1072.18,270.14 L1072.53,270.32 L1072.87,270.50 L1073.21,270.68 L1073.56,270.86 L1073.90,271.04 L1074.24,271.22 L1074.59,271.40 L1074.93,271.58 L1075.27,271.76 L1075.62,271.94 L1075.96,272.12 L1076.30,272.30 L1076.65,272.47 L1076.99,272.65 L1077.34,272.83 L1077.68,273.01 L1078.02,273.19 L1078.37,273.37 L1078.71,273.55 L1079.05,273.73 L1079.40,273.91 L1079.74,274.10 L1080.08,274.28 L1080.43,274.46 L1080.77,274.64 L1081.11,274.82 L1081.46,275.00 L1081.80,275.18 L1082.14,275.36 L1082.49,275.54 L1082.83,275.72 L1083.17,275.90 L1083.52,276.08 L1083.86,276.26 L1084.20,276.44 L1084.55,276.62 L1084.89,276.80 L1085.23,276.98 L1085.58,277.16 L1085.92,277.34 L1086.27,277.52 L1086.61,277.70 L1086.95,277.89 L1087.30,278.07 L1087.64,278.25 L1087.98,278.43 L1088.33,278.61 L1088.67,278.79 L1089.01,278.97 L1089.36,279.15 L1089.70,279.33 L1090.04,279.51 L1090.39,279.69 L1090.73,279.88 L1091.07,280.06 L1091.42,280.24 L1091.76,280.42 L1092.10,280.60 L1092.45,280.78 L1092.79,280.96 L1093.13,281.14 L1093.48,281.32 L1093.82,281.50 L1094.16,281.69 L1094.51,281.87 L1094.85,282.05 L1095.19,282.23 L1095.54,282.41 L1095.88,282.59 L1096.23,282.77 L1096.57,282.95 L1096.91,283.13 L1097.26,283.32 L1097.60,283.50 L1097.94,283.68 L1098.29,283.86 L1098.63,284.04 L1098.97,284.22 L1099.32,284.40 L1099.66,284.58 L1100.00,284.76 L1100.35,284.95 L1100.69,285.13 L1101.03,285.31 L1101.38,285.49 L1101.72,285.67 L1102.06,285.85 L1102.41,286.03 L1102.75,286.21 L1103.09,286.39 L1103.44,286.57 L1103.78,286.76 L1104.12,286.94 L1104.47,287.12 L1104.81,287.30 L1105.16,287.48 L1105.50,287.66 L1105.84,287.84 L1106.19,288.02 L1106.53,288.20 L1106.87,288.38 L1107.22,288.56 L1107.56,288.75 L1107.90,288.93 L1108.25,289.11 L1108.59,289.29 L1108.93,289.47 L1109.28,289.65 L1109.62,289.83 L1109.96,290.01 L1110.31,290.19 L1110.65,290.37 L1110.99,290.55 L1111.34,290.73 L1111.68,290.91 L1112.02,291.09 L1112.37,291.27 L1112.71,291.45 L1113.05,291.63 L1113.40,291.81 L1113.74,292.00 L1114.08,292.18 L1114.43,292.36 L1114.77,292.54 L1115.12,292.72 L1115.46,292.90 L1115.80,293.08 L1116.15,293.26 L1116.49,293.44 L1116.83,293.62 L1117.18,293.80 L1117.52,293.98 L1117.86,294.16 L1118.21,294.34 L1118.55,294.52 L1118.89,294.70 L1119.24,294.88 L1119.58,295.06 L1119.92,295.23 L1120.27,295.41 L1120.61,295.59 L1120.95,295.77 L1121.30,295.95 L1121.64,296.13 L1121.98,296.31 L1122.33,296.49 L1122.67,296.67 L1123.01,296.85 L1123.36,297.03 L1123.70,297.21 L1124.05,297.39 L1124.39,297.57 L1124.73,297.74 L1125.08,297.92 L1125.42,298.10 L1125.76,298.28 L1126.11,298.46 L1126.45,298.64 L1126.79,298.82 L1127.14,298.99 L1127.48,299.17 L1127.82,299.35 L1128.17,299.53 L1128.51,299.71 L1128.85,299.89 L1129.20,300.06 L1129.54,300.24 L1129.88,300.42 L1130.23,300.60 L1130.57,300.78 L1130.91,300.95 L1131.26,301.13 L1131.60,301.31 L1131.94,301.49 L1132.29,301.66 L1132.63,301.84 L1132.97,302.02 L1133.32,302.20 L1133.66,302.37 L1134.01,302.55 L1134.35,302.73 L1134.69,302.91 L1135.04,303.08 L1135.38,303.26 L1135.72,303.44 L1136.07,303.61 L1136.41,303.79 L1136.75,303.97 L1137.10,304.14 L1137.44,304.32 L1137.78,304.50 L1138.13,304.67 L1138.47,304.85 L1138.81,305.02 L1139.16,305.20 L1139.50,305.38 L1139.84,305.55 L1140.19,305.73 L1140.53,305.90 L1140.87,306.08 L1141.22,306.25 L1141.56,306.43 L1141.90,306.60 L1142.25,306.78 L1142.59,306.95 L1142.93,307.13 L1143.28,307.30 L1143.62,307.48 L1143.97,307.65 L1144.31,307.83 L1144.65,308.00 L1145.00,308.18 L1145.34,308.35 L1145.68,308.53 L1146.03,308.70 L1146.37,308.87 L1146.71,309.05 L1147.06,309.22 L1147.40,309.40 L1147.74,309.57 L1148.09,309.74 L1148.43,309.92 L1148.77,310.09 L1149.12,310.26 L1149.46,310.44 L1149.80,310.61 L1150.15,310.78 L1150.49,310.95 L1150.83,311.13 L1151.18,311.30 L1151.52,311.47 L1151.86,311.65 L1152.21,311.82 L1152.55,311.99 L1152.90,312.16 L1153.24,312.33 L1153.58,312.51 L1153.93,312.68 L1154.27,312.85 L1154.61,313.02 L1154.96,313.19 L1155.30,313.36 L1155.64,313.53 L1155.99,313.70 L1156.33,313.88 L1156.67,314.05 L1157.02,314.22 L1157.36,314.39 L1157.70,314.56 L1158.05,314.73 L1158.39,314.90 L1158.73,315.07 L1159.08,315.24 L1159.42,315.41 L1159.76,315.58 L1160.11,315.75 L1160.45,315.92 L1160.79,316.09 L1161.14,316.26 L1161.48,316.42 L1161.82,316.59 L1162.17,316.76 L1162.51,316.93 L1162.86,317.10 L1163.20,317.27 L1163.54,317.44 L1163.89,317.60 L1164.23,317.77 L1164.57,317.94 L1164.92,318.11 L1165.26,318.28 L1165.60,318.45 L1165.95,318.61 L1166.29,318.78 L1166.63,318.95 L1166.98,319.12 L1167.32,319.28 L1167.66,319.45 L1168.01,319.62 L1168.35,319.79 L1168.69,319.95 L1169.04,320.12 L1169.38,320.29 L1169.72,320.45 L1170.07,320.62 L1170.41,320.79 L1170.75,320.95 L1171.10,321.12 L1171.44,321.29 L1171.79,321.45 L1172.13,321.62 L1172.47,321.79 L1172.82,321.95 L1173.16,322.12 L1173.50,322.29 L1173.85,322.45 L1174.19,322.62 L1174.53,322.79 L1174.88,322.95 L1175.22,323.12 L1175.56,323.28 L1175.91,323.45 L1176.25,323.62 L1176.59,323.78 L1176.94,323.95 L1177.28,324.12 L1177.62,324.28 L1177.97,324.45 L1178.31,324.61 L1178.65,324.78 L1179.00,324.95 L1179.34,325.11 L1179.68,325.28 L1180.03,325.44 L1180.37,325.61 L1180.71,325.78 L1181.06,325.94 L1181.40,326.11 L1181.75,326.28 L1182.09,326.44 L1182.43,326.61 L1182.78,326.77 L1183.12,326.94 L1183.46,327.11 L1183.81,327.27 L1184.15,327.44 L1184.49,327.61 L1184.84,327.77 L1185.18,327.94 L1185.52,328.10 L1185.87,328.27 L1186.21,328.44 L1186.55,328.60 L1186.90,328.77 L1187.24,328.94 L1187.58,329.10 L1187.93,329.27 L1188.27,329.44 L1188.61,329.60 L1188.96,329.77 L1189.30,329.94 L1189.64,330.11 L1189.99,330.27 L1190.33,330.44 L1190.68,330.61 L1191.02,330.77 L1191.36,330.94 L1191.71,331.11 L1192.05,331.28 L1192.39,331.44 L1192.74,331.61 L1193.08,331.78 L1193.42,331.95 L1193.77,332.12 L1194.11,332.28 L1194.45,332.45 L1194.80,332.62 L1195.14,332.79 L1195.48,332.96 L1195.83,333.13 L1196.17,333.29 L1196.51,333.46 L1196.86,333.63 L1197.20,333.80 L1197.54,333.97 L1197.89,334.14 L1198.23,334.31 L1198.57,334.48 L1198.92,334.65 L1199.26,334.82 L1199.60,334.99 L1199.95,335.16 L1200.29,335.33 L1200.64,335.50 L1200.98,335.67 L1201.32,335.84 L1201.67,336.01 L1202.01,336.18 L1202.35,336.35 L1202.70,336.52 L1203.04,336.69 L1203.38,336.87 L1203.73,337.04 L1204.07,337.21 L1204.41,337.38 L1204.76,337.55 L1205.10,337.72 L1205.44,337.90 L1205.79,338.07 L1206.13,338.24 L1206.47,338.41 L1206.82,338.59 L1207.16,338.76 L1207.50,338.93 L1207.85,339.11 L1208.19,339.28 L1208.53,339.46 L1208.88,339.63 L1209.22,339.80 L1209.57,339.98 L1209.91,340.15 L1210.25,340.33 L1210.60,340.50 L1210.94,340.68 L1211.28,340.85 L1211.63,341.03 L1211.97,341.20 L1212.31,341.38 L1212.66,341.56 L1213.00,341.73 L1213.34,341.91 L1213.69,342.09 L1214.03,342.26 L1214.37,342.44 L1214.72,342.62 L1215.06,342.80 L1215.40,342.97 L1215.75,343.15 L1216.09,343.33 L1216.43,343.51 L1216.78,343.69 L1217.12,343.87 L1217.46,344.05 L1217.81,344.23 L1218.15,344.41 L1218.49,344.59 L1218.84,344.77 L1219.18,344.95 L1219.53,345.13 L1219.87,345.31 L1220.21,345.49 L1220.56,345.67 L1220.90,345.85 L1221.24,346.04 L1221.59,346.22 L1221.93,346.40 L1222.27,346.58 L1222.62,346.77 L1222.96,346.95 L1223.30,347.13 L1223.65,347.32 L1223.99,347.50 L1224.33,347.69 L1224.68,347.87 L1225.02,348.06 L1225.36,348.24 L1225.71,348.43 L1226.05,348.61 L1226.39,348.80 L1226.74,348.99 L1227.08,349.17 L1227.42,349.36 L1227.77,349.55 L1228.11,349.74 L1228.46,349.93 L1228.80,350.11 L1229.14,350.30 L1229.49,350.49 L1229.83,350.68 L1230.17,350.87 L1230.52,351.06 L1230.86,351.25 L1231.20,351.44 L1231.55,351.63 L1231.89,351.82 L1232.23,352.02 L1232.58,352.21 L1232.92,352.40 L1233.26,352.59 L1233.61,352.79 L1233.95,352.98 L1234.29,353.17 L1234.64,353.37 L1234.98,353.56 L1235.32,353.76 L1235.67,353.95 L1236.01,354.15 L1236.35,354.34 L1236.70,354.54 L1237.04,354.74 L1237.38,354.93 L1237.73,355.13 L1238.07,355.33 L1238.42,355.53 L1238.76,355.72 L1239.10,355.92 L1239.45,356.12 L1239.79,356.32 L1240.13,356.52 L1240.48,356.72 L1240.82,356.92 L1241.16,357.12 L1241.51,357.32 L1241.85,357.53 L1242.19,357.73 L1242.54,357.93 L1242.88,358.13 L1243.22,358.34 L1243.57,358.54 L1243.91,358.75 L1244.25,358.95 L1244.60,359.15 L1244.94,359.36 L1245.28,359.57 L1245.63,359.77 L1245.97,359.98 L1246.31,360.19 L1246.66,360.39 L1247.00,360.60 L1247.35,360.81 L1247.69,361.02 L1248.03,361.23 L1248.38,361.44 L1248.72,361.65 L1249.06,361.86 L1249.41,362.07 L1249.75,362.28 L1250.09,362.49 L1250.44,362.71 L1250.78,362.92 L1251.12,363.13 L1251.47,363.34 L1251.81,363.56 L1252.15,363.77 L1252.50,363.99 L1252.84,364.20 L1253.18,364.42 L1253.53,364.64 L1253.87,364.85 L1254.21,365.07 L1254.56,365.29 L1254.90,365.51 L1255.24,365.73 L1255.59,365.95 L1255.93,366.16 L1256.27,366.38 L1256.62,366.61 L1256.96,366.83 L1257.31,367.05 L1257.65,367.27 L1257.99,367.49 L1258.34,367.72 L1258.68,367.94 L1259.02,368.16 L1259.37,368.39 L1259.71,368.61 L1260.05,368.84 L1260.40,369.07 L1260.74,369.29 L1261.08,369.52 L1261.43,369.75 L1261.77,369.98 L1262.11,370.20 L1262.46,370.43 L1262.80,370.66 L1263.14,370.89 L1263.49,371.13 L1263.83,371.36 L1264.17,371.59 L1264.52,371.82 L1264.86,372.05 L1265.20,372.29 L1265.55,372.52 L1265.89,372.76 L1266.24,372.99 L1266.58,373.23 L1266.92,373.46 L1267.27,373.70 L1267.61,373.94 L1267.95,374.18 L1268.30,374.41 L1268.64,374.65 L1268.98,374.89 L1269.33,375.13 L1269.67,375.37 L1270.01,375.61 L1270.36,375.86 L1270.70,376.10" stroke="#4389DC" stroke-width="3.1" stroke-dasharray="3.1 5.1" fill="none" style="mix-blend-mode:multiply"/>
<path d="M790.21,437.55 L790.55,436.01 L790.89,434.49 L791.24,432.97 L791.58,431.45 L791.92,429.94 L792.27,428.44 L792.61,426.94 L792.96,425.45 L793.30,423.95 L793.64,422.47 L793.99,420.98 L794.33,419.50 L794.67,418.02 L795.02,416.55 L795.36,415.07 L795.70,413.59 L796.05,412.12 L796.39,410.65 L796.73,409.17 L797.08,407.70 L797.42,406.22 L797.76,404.74 L798.11,403.26 L798.45,401.78 L798.79,400.30 L799.14,398.81 L799.48,397.32 L799.82,395.82 L800.17,394.32 L800.51,392.82 L800.85,391.31 L801.20,389.79 L801.54,388.27 L801.88,386.74 L802.23,385.20 L802.57,383.66 L802.92,382.11 L803.26,380.55 L803.60,378.99 L803.95,377.41 L804.29,375.83 L804.63,374.23 L804.98,372.63 L805.32,371.01 L805.66,369.39 L806.01,367.76 L806.35,366.12 L806.69,364.47 L807.04,362.82 L807.38,361.16 L807.72,359.50 L808.07,357.83 L808.41,356.16 L808.75,354.48 L809.10,352.80 L809.44,351.12 L809.78,349.43 L810.13,347.75 L810.47,346.06 L810.81,344.38 L811.16,342.72 L811.50,341.06 L811.85,339.43 L812.19,337.82 L812.53,336.25 L812.88,334.71 L813.22,333.21 L813.56,331.76 L813.91,330.36 L814.25,329.01 L814.59,327.71 L814.94,326.46 L815.28,325.25 L815.62,324.09 L815.97,322.97 L816.31,321.89 L816.65,320.84 L817.00,319.83 L817.34,318.84 L817.68,317.89 L818.03,316.96 L818.37,316.05 L818.71,315.16 L819.06,314.29 L819.40,313.44 L819.74,312.59 L820.09,311.76 L820.43,310.94 L820.77,310.12 L821.12,309.31 L821.46,308.51 L821.81,307.70 L822.15,306.90 L822.49,306.09 L822.84,305.28 L823.18,304.47 L823.52,303.64 L823.87,302.81 L824.21,301.97 L824.55,301.12 L824.90,300.25 L825.24,299.36 L825.58,298.46 L825.93,297.55 L826.27,296.61 L826.61,295.66 L826.96,294.70 L827.30,293.73 L827.64,292.74 L827.99,291.74 L828.33,290.74 L828.67,289.73 L829.02,288.71 L829.36,287.69 L829.70,286.66 L830.05,285.63 L830.39,284.59 L830.74,283.56 L831.08,282.53 L831.42,281.49 L831.77,280.46 L832.11,279.44 L832.45,278.42 L832.80,277.41 L833.14,276.40 L833.48,275.40 L833.83,274.41 L834.17,273.44 L834.51,272.47 L834.86,271.52 L835.20,270.58 L835.54,269.66 L835.89,268.76 L836.23,267.87 L836.57,267.00 L836.92,266.16 L837.26,265.33 L837.60,264.52 L837.95,263.73 L838.29,262.96 L838.63,262.21 L838.98,261.48 L839.32,260.77 L839.66,260.08 L840.01,259.41 L840.35,258.76 L840.70,258.13 L841.04,257.52 L841.38,256.93 L841.73,256.37 L842.07,255.82 L842.41,255.29 L842.76,254.78 L843.10,254.29 L843.44,253.82 L843.79,253.36 L844.13,252.93 L844.47,252.50 L844.82,252.09 L845.16,251.68 L845.50,251.29 L845.85,250.91 L846.19,250.53 L846.53,250.16 L846.88,249.79 L847.22,249.42 L847.56,249.06 L847.91,248.70 L848.25,248.33 L848.59,247.96 L848.94,247.59 L849.28,247.21 L849.62,246.83 L849.97,246.43 L850.31,246.03 L850.66,245.63 L851.00,245.21 L851.34,244.79 L851.69,244.37 L852.03,243.94 L852.37,243.50 L852.72,243.06 L853.06,242.62 L853.40,242.17 L853.75,241.71 L854.09,241.26 L854.43,240.80 L854.78,240.34 L855.12,239.87 L855.46,239.41 L855.81,238.94 L856.15,238.47 L856.49,238.00 L856.84,237.53 L857.18,237.06 L857.52,236.59 L857.87,236.12 L858.21,235.66 L858.55,235.19 L858.90,234.73 L859.24,234.26 L859.59,233.80 L859.93,233.35 L860.27,232.89 L860.62,232.44 L860.96,232.00 L861.30,231.55 L861.65,231.12 L861.99,230.68 L862.33,230.26 L862.68,229.84 L863.02,229.42 L863.36,229.01 L863.71,228.61 L864.05,228.22 L864.39,227.83 L864.74,227.45 L865.08,227.08 L865.42,226.72 L865.77,226.36 L866.11,226.02 L866.45,225.68 L866.80,225.35 L867.14,225.03 L867.48,224.72 L867.83,224.41 L868.17,224.11 L868.51,223.82 L868.86,223.54 L869.20,223.27 L869.55,223.00 L869.89,222.74 L870.23,222.48 L870.58,222.23 L870.92,221.99 L871.26,221.76 L871.61,221.53 L871.95,221.31 L872.29,221.09 L872.64,220.88 L872.98,220.67 L873.32,220.48 L873.67,220.28 L874.01,220.09 L874.35,219.91 L874.70,219.73 L875.04,219.56 L875.38,219.39 L875.73,219.23 L876.07,219.07 L876.41,218.92 L876.76,218.77 L877.10,218.62 L877.44,218.48 L877.79,218.34 L878.13,218.21 L878.48,218.08 L878.82,217.95 L879.16,217.83 L879.51,217.71 L879.85,217.59 L880.19,217.48 L880.54,217.37 L880.88,217.26 L881.22,217.15 L881.57,217.05 L881.91,216.95 L882.25,216.85 L882.60,216.75 L882.94,216.66 L883.28,216.57 L883.63,216.48 L883.97,216.39 L884.31,216.30 L884.66,216.21 L885.00,216.13 L885.34,216.04 L885.69,215.96 L886.03,215.87 L886.37,215.79 L886.72,215.71 L887.06,215.63 L887.40,215.55 L887.75,215.47 L888.09,215.39 L888.44,215.31 L888.78,215.23 L889.12,215.15 L889.47,215.07 L889.81,214.99 L890.15,214.91 L890.50,214.83 L890.84,214.75 L891.18,214.67 L891.53,214.60 L891.87,214.52 L892.21,214.44 L892.56,214.37 L892.90,214.29 L893.24,214.22 L893.59,214.14 L893.93,214.07 L894.27,213.99 L894.62,213.92 L894.96,213.85 L895.30,213.78 L895.65,213.71 L895.99,213.64 L896.33,213.57 L896.68,213.50 L897.02,213.44 L897.37,213.37 L897.71,213.31 L898.05,213.24 L898.40,213.18 L898.74,213.12 L899.08,213.05 L899.43,212.99 L899.77,212.93 L900.11,212.88 L900.46,212.82 L900.80,212.76 L901.14,212.71 L901.49,212.66 L901.83,212.60 L902.17,212.55 L902.52,212.50 L902.86,212.45 L903.20,212.41 L903.55,212.36 L903.89,212.31 L904.23,212.27 L904.58,212.23 L904.92,212.19 L905.26,212.15 L905.61,212.11 L905.95,212.07 L906.29,212.03 L906.64,212.00 L906.98,211.96 L907.33,211.93 L907.67,211.90 L908.01,211.87 L908.36,211.84 L908.70,211.81 L909.04,211.78 L909.39,211.75 L909.73,211.73 L910.07,211.70 L910.42,211.68 L910.76,211.66 L911.10,211.64 L911.45,211.61 L911.79,211.60 L912.13,211.58 L912.48,211.56 L912.82,211.54 L913.16,211.52 L913.51,211.51 L913.85,211.49 L914.19,211.48 L914.54,211.47 L914.88,211.46 L915.22,211.45 L915.57,211.44 L915.91,211.43 L916.26,211.42 L916.60,211.41 L916.94,211.40 L917.29,211.40 L917.63,211.39 L917.97,211.39 L918.32,211.38 L918.66,211.38 L919.00,211.37 L919.35,211.37 L919.69,211.37 L920.03,211.37 L920.38,211.37 L920.72,211.37 L921.06,211.37 L921.41,211.37 L921.75,211.38 L922.09,211.38 L922.44,211.38 L922.78,211.39 L923.12,211.39 L923.47,211.40 L923.81,211.40 L924.15,211.41 L924.50,211.41 L924.84,211.42 L925.18,211.43 L925.53,211.44 L925.87,211.45 L926.22,211.45 L926.56,211.46 L926.90,211.47 L927.25,211.48 L927.59,211.49 L927.93,211.50 L928.28,211.52 L928.62,211.53 L928.96,211.54 L929.31,211.55 L929.65,211.56 L929.99,211.58 L930.34,211.59 L930.68,211.60 L931.02,211.62 L931.37,211.63 L931.71,211.65 L932.05,211.66 L932.40,211.67 L932.74,211.69 L933.08,211.70 L933.43,211.72 L933.77,211.73 L934.11,211.75 L934.46,211.77 L934.80,211.78 L935.15,211.80 L935.49,211.81 L935.83,211.83 L936.18,211.85 L936.52,211.86 L936.86,211.88 L937.21,211.89 L937.55,211.91 L937.89,211.93 L938.24,211.94 L938.58,211.96 L938.92,211.98 L939.27,212.00 L939.61,212.01 L939.95,212.03 L940.30,212.05 L940.64,212.07 L940.98,212.09 L941.33,212.11 L941.67,212.13 L942.01,212.15 L942.36,212.17 L942.70,212.19 L943.04,212.21 L943.39,212.23 L943.73,212.25 L944.07,212.28 L944.42,212.30 L944.76,212.32 L945.11,212.35 L945.45,212.37 L945.79,212.40 L946.14,212.42 L946.48,212.45 L946.82,212.48 L947.17,212.50 L947.51,212.53 L947.85,212.56 L948.20,212.59 L948.54,212.62 L948.88,212.65 L949.23,212.68 L949.57,212.72 L949.91,212.75 L950.26,212.78 L950.60,212.82 L950.94,212.85 L951.29,212.89 L951.63,212.92 L951.97,212.96 L952.32,213.00 L952.66,213.04 L953.00,213.08 L953.35,213.12 L953.69,213.17 L954.04,213.21 L954.38,213.25 L954.72,213.30 L955.07,213.34 L955.41,213.39 L955.75,213.44 L956.10,213.49 L956.44,213.54 L956.78,213.59 L957.13,213.64 L957.47,213.70 L957.81,213.75 L958.16,213.81 L958.50,213.86 L958.84,213.92 L959.19,213.98 L959.53,214.04 L959.87,214.10 L960.22,214.17 L960.56,214.23 L960.90,214.30 L961.25,214.36 L961.59,214.43 L961.93,214.50 L962.28,214.56 L962.62,214.63 L962.96,214.70 L963.31,214.78 L963.65,214.85 L964.00,214.93 L964.34,215.00 L964.68,215.08 L965.03,215.16 L965.37,215.24 L965.71,215.32 L966.06,215.41 L966.40,215.49 L966.74,215.58 L967.09,215.67 L967.43,215.76 L967.77,215.85 L968.12,215.95 L968.46,216.04 L968.80,216.14 L969.15,216.24 L969.49,216.34 L969.83,216.44 L970.18,216.54 L970.52,216.64 L970.86,216.75 L971.21,216.86 L971.55,216.97 L971.89,217.08 L972.24,217.19 L972.58,217.30 L972.93,217.42 L973.27,217.54 L973.61,217.65 L973.96,217.77 L974.30,217.89 L974.64,218.01 L974.99,218.14 L975.33,218.26 L975.67,218.39 L976.02,218.51 L976.36,218.64 L976.70,218.77 L977.05,218.90 L977.39,219.03 L977.73,219.17 L978.08,219.30 L978.42,219.43 L978.76,219.57 L979.11,219.71 L979.45,219.84 L979.79,219.98 L980.14,220.12 L980.48,220.26 L980.82,220.41 L981.17,220.55 L981.51,220.69 L981.85,220.84 L982.20,220.98 L982.54,221.13 L982.89,221.27 L983.23,221.42 L983.57,221.57 L983.92,221.72 L984.26,221.87 L984.60,222.02 L984.95,222.17 L985.29,222.32 L985.63,222.48 L985.98,222.63 L986.32,222.78 L986.66,222.94 L987.01,223.09 L987.35,223.25 L987.69,223.40 L988.04,223.56 L988.38,223.72 L988.72,223.88 L989.07,224.03 L989.41,224.19 L989.75,224.35 L990.10,224.51 L990.44,224.67 L990.78,224.83 L991.13,224.99 L991.47,225.15 L991.82,225.31 L992.16,225.47 L992.50,225.63 L992.85,225.80 L993.19,225.96 L993.53,226.12 L993.88,226.28 L994.22,226.44 L994.56,226.61 L994.91,226.77 L995.25,226.93 L995.59,227.09 L995.94,227.26 L996.28,227.42 L996.62,227.58 L996.97,227.75 L997.31,227.91 L997.65,228.07 L998.00,228.23 L998.34,228.40 L998.68,228.56 L999.03,228.72 L999.37,228.88 L999.71,229.04 L1000.06,229.21 L1000.40,229.37 L1000.74,229.53 L1001.09,229.69 L1001.43,229.85 L1001.78,230.01 L1002.12,230.17 L1002.46,230.33 L1002.81,230.49 L1003.15,230.65 L1003.49,230.82 L1003.84,230.98 L1004.18,231.14 L1004.52,231.30 L1004.87,231.46 L1005.21,231.62 L1005.55,231.78 L1005.90,231.94 L1006.24,232.10 L1006.58,232.26 L1006.93,232.41 L1007.27,232.57 L1007.61,232.73 L1007.96,232.89 L1008.30,233.05 L1008.64,233.21 L1008.99,233.37 L1009.33,233.53 L1009.67,233.69 L1010.02,233.85 L1010.36,234.01 L1010.71,234.17 L1011.05,234.33 L1011.39,234.49 L1011.74,234.65 L1012.08,234.81 L1012.42,234.96 L1012.77,235.12 L1013.11,235.28 L1013.45,235.44 L1013.80,235.60 L1014.14,235.76 L1014.48,235.92 L1014.83,236.08 L1015.17,236.24 L1015.51,236.40 L1015.86,236.56 L1016.20,236.72 L1016.54,236.88 L1016.89,237.04 L1017.23,237.20 L1017.57,237.36 L1017.92,237.52 L1018.26,237.68 L1018.60,237.84 L1018.95,238.00 L1019.29,238.16 L1019.63,238.32 L1019.98,238.49 L1020.32,238.65 L1020.67,238.81 L1021.01,238.97 L1021.35,239.13 L1021.70,239.29 L1022.04,239.45 L1022.38,239.62 L1022.73,239.78 L1023.07,239.94 L1023.41,240.10 L1023.76,240.27 L1024.10,240.43 L1024.44,240.59 L1024.79,240.76 L1025.13,240.92 L1025.47,241.08 L1025.82,241.25 L1026.16,241.41 L1026.50,241.57 L1026.85,241.74 L1027.19,241.90 L1027.53,242.07 L1027.88,242.23 L1028.22,242.39 L1028.56,242.56 L1028.91,242.72 L1029.25,242.89 L1029.60,243.05 L1029.94,243.22 L1030.28,243.38 L1030.63,243.55 L1030.97,243.72 L1031.31,243.88 L1031.66,244.05 L1032.00,244.21 L1032.34,244.38 L1032.69,244.55 L1033.03,244.71 L1033.37,244.88 L1033.72,245.05 L1034.06,245.21 L1034.40,245.38 L1034.75,245.55 L1035.09,245.71 L1035.43,245.88 L1035.78,246.05 L1036.12,246.22 L1036.46,246.38 L1036.81,246.55 L1037.15,246.72 L1037.49,246.89 L1037.84,247.06 L1038.18,247.22 L1038.52,247.39 L1038.87,247.56 L1039.21,247.73 L1039.56,247.90 L1039.90,248.07 L1040.24,248.24 L1040.59,248.41 L1040.93,248.57 L1041.27,248.74 L1041.62,248.91 L1041.96,249.08 L1042.30,249.25 L1042.65,249.42 L1042.99,249.59 L1043.33,249.76 L1043.68,249.93 L1044.02,250.10 L1044.36,250.27 L1044.71,250.44 L1045.05,250.61 L1045.39,250.78 L1045.74,250.96 L1046.08,251.13 L1046.42,251.30 L1046.77,251.47 L1047.11,251.64 L1047.45,251.81 L1047.80,251.98 L1048.14,252.15 L1048.49,252.33 L1048.83,252.50 L1049.17,252.67 L1049.52,252.84 L1049.86,253.01 L1050.20,253.18 L1050.55,253.36 L1050.89,253.53 L1051.23,253.70 L1051.58,253.87 L1051.92,254.05 L1052.26,254.22 L1052.61,254.39 L1052.95,254.57 L1053.29,254.74 L1053.64,254.91 L1053.98,255.08 L1054.32,255.26 L1054.67,255.43 L1055.01,255.60 L1055.35,255.78 L1055.70,255.95 L1056.04,256.12 L1056.38,256.30 L1056.73,256.47 L1057.07,256.65 L1057.41,256.82 L1057.76,256.99 L1058.10,257.17 L1058.45,257.34 L1058.79,257.52 L1059.13,257.69 L1059.48,257.87 L1059.82,258.04 L1060.16,258.21 L1060.51,258.39 L1060.85,258.56 L1061.19,258.74 L1061.54,258.91 L1061.88,259.09 L1062.22,259.26 L1062.57,259.44 L1062.91,259.61 L1063.25,259.79 L1063.60,259.96 L1063.94,260.14 L1064.28,260.31 L1064.63,260.49 L1064.97,260.67 L1065.31,260.84 L1065.66,261.02 L1066.00,261.19 L1066.34,261.37 L1066.69,261.54 L1067.03,261.72 L1067.38,261.90 L1067.72,262.07 L1068.06,262.25 L1068.41,262.43 L1068.75,262.60 L1069.09,262.78 L1069.44,262.95 L1069.78,263.13 L1070.12,263.31 L1070.47,263.48 L1070.81,263.66 L1071.15,263.84 L1071.50,264.01 L1071.84,264.19 L1072.18,264.37 L1072.53,264.54 L1072.87,264.72 L1073.21,264.90 L1073.56,265.07 L1073.90,265.25 L1074.24,265.43 L1074.59,265.61 L1074.93,265.78 L1075.27,265.96 L1075.62,266.14 L1075.96,266.32 L1076.30,266.49 L1076.65,266.67 L1076.99,266.85 L1077.34,267.02 L1077.68,267.20 L1078.02,267.38 L1078.37,267.56 L1078.71,267.74 L1079.05,267.91 L1079.40,268.09 L1079.74,268.27 L1080.08,268.45 L1080.43,268.62 L1080.77,268.80 L1081.11,268.98 L1081.46,269.16 L1081.80,269.34 L1082.14,269.51 L1082.49,269.69 L1082.83,269.87 L1083.17,270.05 L1083.52,270.23 L1083.86,270.40 L1084.20,270.58 L1084.55,270.76 L1084.89,270.94 L1085.23,271.12 L1085.58,271.30 L1085.92,271.47 L1086.27,271.65 L1086.61,271.83 L1086.95,272.01 L1087.30,272.19 L1087.64,272.37 L1087.98,272.54 L1088.33,272.72 L1088.67,272.90 L1089.01,273.08 L1089.36,273.26 L1089.70,273.44 L1090.04,273.61 L1090.39,273.79 L1090.73,273.97 L1091.07,274.15 L1091.42,274.33 L1091.76,274.51 L1092.10,274.69 L1092.45,274.87 L1092.79,275.04 L1093.13,275.22 L1093.48,275.40 L1093.82,275.58 L1094.16,275.76 L1094.51,275.94 L1094.85,276.12 L1095.19,276.29 L1095.54,276.47 L1095.88,276.65 L1096.23,276.83 L1096.57,277.01 L1096.91,277.19 L1097.26,277.37 L1097.60,277.55 L1097.94,277.72 L1098.29,277.90 L1098.63,278.08 L1098.97,278.26 L1099.32,278.44 L1099.66,278.62 L1100.00,278.80 L1100.35,278.97 L1100.69,279.15 L1101.03,279.33 L1101.38,279.51 L1101.72,279.69 L1102.06,279.87 L1102.41,280.05 L1102.75,280.23 L1103.09,280.40 L1103.44,280.58 L1103.78,280.76 L1104.12,280.94 L1104.47,281.12 L1104.81,281.30 L1105.16,281.48 L1105.50,281.65 L1105.84,281.83 L1106.19,282.01 L1106.53,282.19 L1106.87,282.37 L1107.22,282.55 L1107.56,282.72 L1107.90,282.90 L1108.25,283.08 L1108.59,283.26 L1108.93,283.44 L1109.28,283.62 L1109.62,283.79 L1109.96,283.97 L1110.31,284.15 L1110.65,284.33 L1110.99,284.51 L1111.34,284.69 L1111.68,284.86 L1112.02,285.04 L1112.37,285.22 L1112.71,285.40 L1113.05,285.58 L1113.40,285.75 L1113.74,285.93 L1114.08,286.11 L1114.43,286.29 L1114.77,286.46 L1115.12,286.64 L1115.46,286.82 L1115.80,287.00 L1116.15,287.18 L1116.49,287.35 L1116.83,287.53 L1117.18,287.71 L1117.52,287.89 L1117.86,288.06 L1118.21,288.24 L1118.55,288.42 L1118.89,288.60 L1119.24,288.77 L1119.58,288.95 L1119.92,289.13 L1120.27,289.30 L1120.61,289.48 L1120.95,289.66 L1121.30,289.84 L1121.64,290.01 L1121.98,290.19 L1122.33,290.37 L1122.67,290.54 L1123.01,290.72 L1123.36,290.90 L1123.70,291.07 L1124.05,291.25 L1124.39,291.43 L1124.73,291.60 L1125.08,291.78 L1125.42,291.96 L1125.76,292.13 L1126.11,292.31 L1126.45,292.49 L1126.79,292.66 L1127.14,292.84 L1127.48,293.01 L1127.82,293.19 L1128.17,293.37 L1128.51,293.54 L1128.85,293.72 L1129.20,293.89 L1129.54,294.07 L1129.88,294.24 L1130.23,294.42 L1130.57,294.59 L1130.91,294.77 L1131.26,294.95 L1131.60,295.12 L1131.94,295.30 L1132.29,295.47 L1132.63,295.65 L1132.97,295.82 L1133.32,296.00 L1133.66,296.17 L1134.01,296.35 L1134.35,296.53 L1134.69,296.71 L1135.04,296.88 L1135.38,297.06 L1135.72,297.24 L1136.07,297.41 L1136.41,297.59 L1136.75,297.77 L1137.10,297.94 L1137.44,298.12 L1137.78,298.30 L1138.13,298.47 L1138.47,298.65 L1138.81,298.82 L1139.16,299.00 L1139.50,299.18 L1139.84,299.35 L1140.19,299.53 L1140.53,299.70 L1140.87,299.88 L1141.22,300.05 L1141.56,300.23 L1141.90,300.40 L1142.25,300.58 L1142.59,300.75 L1142.93,300.93 L1143.28,301.10 L1143.62,301.28 L1143.97,301.45 L1144.31,301.63 L1144.65,301.80 L1145.00,301.98 L1145.34,302.15 L1145.68,302.33 L1146.03,302.50 L1146.37,302.67 L1146.71,302.85 L1147.06,303.02 L1147.40,303.20 L1147.74,303.37 L1148.09,303.54 L1148.43,303.72 L1148.77,303.89 L1149.12,304.06 L1149.46,304.24 L1149.80,304.41 L1150.15,304.58 L1150.49,304.75 L1150.83,304.93 L1151.18,305.10 L1151.52,305.27 L1151.86,305.45 L1152.21,305.62 L1152.55,305.79 L1152.90,305.96 L1153.24,306.13 L1153.58,306.31 L1153.93,306.48 L1154.27,306.65 L1154.61,306.82 L1154.96,306.99 L1155.30,307.16 L1155.64,307.33 L1155.99,307.50 L1156.33,307.68 L1156.67,307.85 L1157.02,308.02 L1157.36,308.19 L1157.70,308.36 L1158.05,308.53 L1158.39,308.70 L1158.73,308.87 L1159.08,309.04 L1159.42,309.21 L1159.76,309.38 L1160.11,309.55 L1160.45,309.72 L1160.79,309.89 L1161.14,310.06 L1161.48,310.22 L1161.82,310.39 L1162.17,310.56 L1162.51,310.73 L1162.86,310.90 L1163.20,311.07 L1163.54,311.24 L1163.89,311.40 L1164.23,311.57 L1164.57,311.74 L1164.92,311.91 L1165.26,312.08 L1165.60,312.25 L1165.95,312.41 L1166.29,312.58 L1166.63,312.75 L1166.98,312.92 L1167.32,313.08 L1167.66,313.25 L1168.01,313.42 L1168.35,313.59 L1168.69,313.75 L1169.04,313.92 L1169.38,314.09 L1169.72,314.25 L1170.07,314.42 L1170.41,314.59 L1170.75,314.75 L1171.10,314.92 L1171.44,315.09 L1171.79,315.25 L1172.13,315.42 L1172.47,315.59 L1172.82,315.75 L1173.16,315.92 L1173.50,316.09 L1173.85,316.25 L1174.19,316.42 L1174.53,316.59 L1174.88,316.75 L1175.22,316.92 L1175.56,317.08 L1175.91,317.25 L1176.25,317.42 L1176.59,317.58 L1176.94,317.75 L1177.28,317.92 L1177.62,318.08 L1177.97,318.25 L1178.31,318.41 L1178.65,318.58 L1179.00,318.75 L1179.34,318.91 L1179.68,319.08 L1180.03,319.24 L1180.37,319.41 L1180.71,319.58 L1181.06,319.74 L1181.40,319.91 L1181.75,320.08 L1182.09,320.24 L1182.43,320.41 L1182.78,320.57 L1183.12,320.74 L1183.46,320.91 L1183.81,321.07 L1184.15,321.24 L1184.49,321.41 L1184.84,321.57 L1185.18,321.74 L1185.52,321.90 L1185.87,322.07 L1186.21,322.24 L1186.55,322.40 L1186.90,322.57 L1187.24,322.74 L1187.58,322.90 L1187.93,323.07 L1188.27,323.24 L1188.61,323.40 L1188.96,323.57 L1189.30,323.74 L1189.64,323.91 L1189.99,324.07 L1190.33,324.24 L1190.68,324.41 L1191.02,324.57 L1191.36,324.74 L1191.71,324.91 L1192.05,325.08 L1192.39,325.24 L1192.74,325.41 L1193.08,325.58 L1193.42,325.75 L1193.77,325.92 L1194.11,326.08 L1194.45,326.25 L1194.80,326.42 L1195.14,326.59 L1195.48,326.76 L1195.83,326.93 L1196.17,327.09 L1196.51,327.26 L1196.86,327.43 L1197.20,327.60 L1197.54,327.77 L1197.89,327.94 L1198.23,328.11 L1198.57,328.28 L1198.92,328.45 L1199.26,328.62 L1199.60,328.79 L1199.95,328.96 L1200.29,329.13 L1200.64,329.30 L1200.98,329.47 L1201.32,329.64 L1201.67,329.81 L1202.01,329.98 L1202.35,330.15 L1202.70,330.32 L1203.04,330.49 L1203.38,330.67 L1203.73,330.84 L1204.07,331.01 L1204.41,331.18 L1204.76,331.35 L1205.10,331.52 L1205.44,331.70 L1205.79,331.87 L1206.13,332.04 L1206.47,332.21 L1206.82,332.39 L1207.16,332.56 L1207.50,332.73 L1207.85,332.91 L1208.19,333.08 L1208.53,333.26 L1208.88,333.43 L1209.22,333.60 L1209.57,333.78 L1209.91,333.95 L1210.25,334.13 L1210.60,334.30 L1210.94,334.48 L1211.28,334.65 L1211.63,334.83 L1211.97,335.00 L1212.31,335.18 L1212.66,335.36 L1213.00,335.53 L1213.34,335.71 L1213.69,335.89 L1214.03,336.06 L1214.37,336.24 L1214.72,336.42 L1215.06,336.60 L1215.40,336.77 L1215.75,336.95 L1216.09,337.13 L1216.43,337.31 L1216.78,337.49 L1217.12,337.67 L1217.46,337.85 L1217.81,338.03 L1218.15,338.21 L1218.49,338.39 L1218.84,338.57 L1219.18,338.75 L1219.53,338.93 L1219.87,339.11 L1220.21,339.29 L1220.56,339.47 L1220.90,339.65 L1221.24,339.84 L1221.59,340.02 L1221.93,340.20 L1222.27,340.38 L1222.62,340.57 L1222.96,340.75 L1223.30,340.93 L1223.65,341.12 L1223.99,341.30 L1224.33,341.49 L1224.68,341.67 L1225.02,341.86 L1225.36,342.04 L1225.71,342.23 L1226.05,342.41 L1226.39,342.60 L1226.74,342.79 L1227.08,342.97 L1227.42,343.16 L1227.77,343.35 L1228.11,343.54 L1228.46,343.73 L1228.80,343.91 L1229.14,344.10 L1229.49,344.29 L1229.83,344.48 L1230.17,344.67 L1230.52,344.86 L1230.86,345.05 L1231.20,345.24 L1231.55,345.43 L1231.89,345.62 L1232.23,345.82 L1232.58,346.01 L1232.92,346.20 L1233.26,346.39 L1233.61,346.59 L1233.95,346.78 L1234.29,346.97 L1234.64,347.17 L1234.98,347.36 L1235.32,347.56 L1235.67,347.75 L1236.01,347.95 L1236.35,348.14 L1236.70,348.34 L1237.04,348.54 L1237.38,348.73 L1237.73,348.93 L1238.07,349.13 L1238.42,349.33 L1238.76,349.52 L1239.10,349.72 L1239.45,349.92 L1239.79,350.12 L1240.13,350.32 L1240.48,350.52 L1240.82,350.72 L1241.16,350.92 L1241.51,351.12 L1241.85,351.33 L1242.19,351.53 L1242.54,351.73 L1242.88,351.93 L1243.22,352.14 L1243.57,352.34 L1243.91,352.55 L1244.25,352.75 L1244.60,352.95 L1244.94,353.16 L1245.28,353.37 L1245.63,353.57 L1245.97,353.78 L1246.31,353.99 L1246.66,354.19 L1247.00,354.40 L1247.35,354.61 L1247.69,354.82 L1248.03,355.03 L1248.38,355.24 L1248.72,355.45 L1249.06,355.66 L1249.41,355.87 L1249.75,356.08 L1250.09,356.29 L1250.44,356.51 L1250.78,356.72 L1251.12,356.93 L1251.47,357.14 L1251.81,357.36 L1252.15,357.57 L1252.50,357.79 L1252.84,358.00 L1253.18,358.22 L1253.53,358.44 L1253.87,358.65 L1254.21,358.87 L1254.56,359.09 L1254.90,359.31 L1255.24,359.53 L1255.59,359.75 L1255.93,359.96 L1256.27,360.18 L1256.62,360.41 L1256.96,360.63 L1257.31,360.85 L1257.65,361.07 L1257.99,361.29 L1258.34,361.52 L1258.68,361.74 L1259.02,361.96 L1259.37,362.19 L1259.71,362.41 L1260.05,362.64 L1260.40,362.87 L1260.74,363.09 L1261.08,363.32 L1261.43,363.55 L1261.77,363.78 L1262.11,364.00 L1262.46,364.23 L1262.80,364.46 L1263.14,364.69 L1263.49,364.93 L1263.83,365.16 L1264.17,365.39 L1264.52,365.62 L1264.86,365.85 L1265.20,366.09 L1265.55,366.32 L1265.89,366.56 L1266.24,366.79 L1266.58,367.03 L1266.92,367.26 L1267.27,367.50 L1267.61,367.74 L1267.95,367.98 L1268.30,368.21 L1268.64,368.45 L1268.98,368.69 L1269.33,368.93 L1269.67,369.17 L1270.01,369.41 L1270.36,369.66 L1270.70,369.90" stroke="#DAD43C" stroke-width="3.1" stroke-dasharray="3.1 5.1" fill="none" style="mix-blend-mode:multiply"/>
</g>
<rect x="1021" y="342" width="252" height="104" fill="#fff" fill-opacity="0.5"/>
<path d="M927.00,467.65V447.15M927.00,6.00V26.50M1098.85,467.65V452.65M1098.85,6.00V26.50M1270.70,467.65V452.65M1270.70,6.00V26.50" stroke="#000" stroke-width="3.85" fill="none"/>
<path d="M1098.85,452.65V447.15M1270.70,452.65V447.15" stroke="#8c8c8c" stroke-width="3.85" fill="none"/>
<path d="M806.88,467.65V455.55M806.88,6.00V18.10M837.14,467.65V455.55M837.14,6.00V18.10M858.61,467.65V455.55M858.61,6.00V18.10M875.27,467.65V455.55M875.27,6.00V18.10M888.88,467.65V455.55M888.88,6.00V18.10M900.38,467.65V455.55M900.38,6.00V18.10M910.35,467.65V455.55M910.35,6.00V18.10M919.14,467.65V455.55M919.14,6.00V18.10M978.73,467.65V455.55M978.73,6.00V18.10M1008.99,467.65V455.55M1008.99,6.00V18.10M1030.46,467.65V455.55M1030.46,6.00V18.10M1047.12,467.65V455.55M1047.12,6.00V18.10M1060.73,467.65V455.55M1060.73,6.00V18.10M1072.23,467.65V455.55M1072.23,6.00V18.10M1082.20,467.65V455.55M1082.20,6.00V18.10M1090.99,467.65V455.55M1090.99,6.00V18.10M1150.58,467.65V455.55M1150.58,6.00V18.10M1180.84,467.65V455.55M1180.84,6.00V18.10M1202.31,467.65V455.55M1202.31,6.00V18.10M1218.97,467.65V455.55M1218.97,6.00V18.10M1232.58,467.65V455.55M1232.58,6.00V18.10M1244.08,467.65V455.55M1244.08,6.00V18.10M1254.05,467.65V455.55M1254.05,6.00V18.10M1262.84,467.65V455.55M1262.84,6.00V18.10" stroke="#000" stroke-width="2.8" fill="none"/>
<path d="M766.60,52.15H787.60M1295.00,52.15H1274.00M766.60,144.45H787.60M1295.00,144.45H1274.00M766.60,236.75H787.60M1295.00,236.75H1274.00M766.60,329.05H787.60M1295.00,329.05H1274.00M766.60,421.35H787.60M1295.00,421.35H1274.00" stroke="#000" stroke-width="3.85" fill="none"/>
<rect x="766.60" y="6.00" width="528.40" height="461.65" fill="none" stroke="#000" stroke-width="3.9"/>
<text x="898.38" y="505.60" font-size="30.20" font-family="Liberation Sans, sans-serif" stroke="#000" stroke-width="0.60" stroke-linejoin="round" textLength="34.35" lengthAdjust="spacingAndGlyphs" >10</text>
<text x="932.90" y="495.90" font-size="22.00" font-family="Liberation Sans, sans-serif" stroke="#000" stroke-width="0.44" stroke-linejoin="round" textLength="25.03" lengthAdjust="spacingAndGlyphs" >−6</text>
<text x="1070.23" y="505.60" font-size="30.20" font-family="Liberation Sans, sans-serif" stroke="#000" stroke-width="0.60" stroke-linejoin="round" textLength="34.35" lengthAdjust="spacingAndGlyphs" >10</text>
<text x="1104.75" y="495.90" font-size="22.00" font-family="Liberation Sans, sans-serif" stroke="#000" stroke-width="0.44" stroke-linejoin="round" textLength="24.97" lengthAdjust="spacingAndGlyphs" >−5</text>
<text x="1242.08" y="505.60" font-size="30.20" font-family="Liberation Sans, sans-serif" stroke="#000" stroke-width="0.60" stroke-linejoin="round" textLength="34.35" lengthAdjust="spacingAndGlyphs" >10</text>
<text x="1276.62" y="495.90" font-size="22.00" font-family="Liberation Sans, sans-serif" stroke="#000" stroke-width="0.44" stroke-linejoin="round" textLength="24.68" lengthAdjust="spacingAndGlyphs" >−4</text>
<text x="913.45" y="555.50" font-size="30.50" font-family="Liberation Sans, sans-serif" stroke="#000" stroke-width="0.61" stroke-linejoin="round" textLength="159.57" lengthAdjust="spacingAndGlyphs" >Wavelength</text>
<text x="1083.37" y="555.50" font-size="30.50" font-family="Liberation Sans, sans-serif" stroke="#000" stroke-width="0.61" stroke-linejoin="round" textLength="7.61" lengthAdjust="spacingAndGlyphs" >(</text>
<text x="1093.35" y="555.50" font-size="30.50" font-family="Liberation Sans, sans-serif" stroke="#000" stroke-width="0.61" stroke-linejoin="round" font-style="italic" textLength="44.94" lengthAdjust="spacingAndGlyphs" >μm</text>
<text x="1142.13" y="555.50" font-size="30.50" font-family="Liberation Sans, sans-serif" stroke="#000" stroke-width="0.61" stroke-linejoin="round" textLength="7.61" lengthAdjust="spacingAndGlyphs" >)</text>
<path d="M151,34.40H192.5" stroke="#AA2228" stroke-width="3" stroke-dasharray="11.3 5.3" fill="none" stroke-linecap="butt"/>
<text x="209.84" y="42.20" font-size="21.60" font-family="Liberation Sans, sans-serif" stroke="#000" stroke-width="0.43" stroke-linejoin="round" textLength="238.20" lengthAdjust="spacingAndGlyphs" >Thermal satellite emission</text>
<path d="M151,67.90H192.5" stroke="#DC143C" stroke-opacity="0.34" stroke-width="3.9" fill="none" stroke-linecap="square"/>
<text x="209.84" y="75.60" font-size="21.60" font-family="Liberation Sans, sans-serif" stroke="#000" stroke-width="0.43" stroke-linejoin="round" textLength="179.36" lengthAdjust="spacingAndGlyphs" >Thermal Earthshine</text>
<path d="M151,101.40H191" stroke="#4389DC" stroke-width="3.1" stroke-dasharray="3.1 5.1" fill="none" style="mix-blend-mode:multiply" stroke-linecap="butt"/>
<text x="208.60" y="109.00" font-size="21.60" font-family="Liberation Sans, sans-serif" stroke="#000" stroke-width="0.43" stroke-linejoin="round" textLength="185.58" lengthAdjust="spacingAndGlyphs" >Earthshine emission</text>
<path d="M151,134.90H191" stroke="#C0C0C0" stroke-width="3.1" stroke-dasharray="3.1 5.1" fill="none" stroke-linecap="butt"/>
<text x="208.56" y="142.40" font-size="21.60" font-family="Liberation Sans, sans-serif" stroke="#000" stroke-width="0.43" stroke-linejoin="round" textLength="191.72" lengthAdjust="spacingAndGlyphs" >Moonshine emission</text>
<path d="M151,168.40H191" stroke="#DAD43C" stroke-width="3.1" stroke-dasharray="3.1 5.1" fill="none" style="mix-blend-mode:multiply" stroke-linecap="butt"/>
<text x="209.39" y="175.80" font-size="21.60" font-family="Liberation Sans, sans-serif" stroke="#000" stroke-width="0.43" stroke-linejoin="round" textLength="169.45" lengthAdjust="spacingAndGlyphs" >Sunshine emission</text>
<path d="M151,201.90H192.5" stroke="#ADADAD" stroke-width="3.1" fill="none" stroke-linejoin="round" stroke-linecap="square"/>
<text x="209.81" y="209.20" font-size="21.60" font-family="Liberation Sans, sans-serif" stroke="#000" stroke-width="0.43" stroke-linejoin="round" textLength="85.44" lengthAdjust="spacingAndGlyphs" >Total flux</text>
<text x="402.23" y="373.20" font-size="25.50" font-family="Liberation Sans, sans-serif" font-style="italic" textLength="14.97" lengthAdjust="spacingAndGlyphs" >d</text>
<text x="417.86" y="377.50" font-size="18.50" font-family="Liberation Sans, sans-serif" textLength="26.32" lengthAdjust="spacingAndGlyphs" >sat</text>
<text x="450.86" y="373.20" font-size="26.00" font-family="Liberation Sans, sans-serif" textLength="19.15" lengthAdjust="spacingAndGlyphs" >=</text>
<text x="414.46" y="407.90" font-size="18.50" font-family="Liberation Sans, sans-serif" textLength="26.32" lengthAdjust="spacingAndGlyphs" >sat</text>
<text x="402.07" y="404.70" font-size="28.00" font-family="Liberation Sans, sans-serif" stroke="#000" stroke-width="0.35" stroke-linejoin="round" textLength="11.68" lengthAdjust="spacingAndGlyphs" >T</text>
<text x="447.46" y="404.70" font-size="26.00" font-family="Liberation Sans, sans-serif" textLength="19.15" lengthAdjust="spacingAndGlyphs" >=</text>
<text x="402.09" y="436.20" font-size="28.00" font-family="Liberation Sans, sans-serif" stroke="#000" stroke-width="0.30" stroke-linejoin="round" textLength="36.10" lengthAdjust="spacingAndGlyphs" >Eff.</text>
<text x="446.32" y="436.20" font-size="26.50" font-family="Liberation Sans, sans-serif" stroke="#000" stroke-width="1.00" stroke-linejoin="round" textLength="50.82" lengthAdjust="spacingAndGlyphs" >area</text>
<text x="504.75" y="436.20" font-size="26.00" font-family="Liberation Sans, sans-serif" textLength="19.27" lengthAdjust="spacingAndGlyphs" >=</text>
<text x="475.78" y="373.30" font-size="26.00" font-family="Liberation Sans, sans-serif" textLength="86.39" lengthAdjust="spacingAndGlyphs" >1215.1</text>
<text x="570.41" y="373.30" font-size="26.50" font-family="Liberation Sans, sans-serif" stroke="#000" stroke-width="1.00" stroke-linejoin="round" textLength="33.44" lengthAdjust="spacingAndGlyphs" >km</text>
<text x="472.58" y="404.50" font-size="26.00" font-family="Liberation Sans, sans-serif" textLength="71.23" lengthAdjust="spacingAndGlyphs" >280.6</text>
<text x="552.04" y="404.70" font-size="28.00" font-family="Liberation Sans, sans-serif" stroke="#000" stroke-width="0.35" stroke-linejoin="round" textLength="15.84" lengthAdjust="spacingAndGlyphs" >K</text>
<text x="530.00" y="435.70" font-size="26.00" font-family="Liberation Sans, sans-serif" textLength="54.73" lengthAdjust="spacingAndGlyphs" >8.63</text>
<text x="593.30" y="436.20" font-size="26.50" font-family="Liberation Sans, sans-serif" stroke="#000" stroke-width="1.00" stroke-linejoin="round" textLength="19.75" lengthAdjust="spacingAndGlyphs" >m</text>
<text x="612.53" y="427.00" font-size="17.70" font-family="Liberation Sans, sans-serif" textLength="10.76" lengthAdjust="spacingAndGlyphs" >2</text>
<text x="1028.63" y="373.20" font-size="25.50" font-family="Liberation Sans, sans-serif" font-style="italic" textLength="14.97" lengthAdjust="spacingAndGlyphs" >d</text>
<text x="1044.26" y="377.50" font-size="18.50" font-family="Liberation Sans, sans-serif" textLength="26.32" lengthAdjust="spacingAndGlyphs" >sat</text>
<text x="1077.26" y="373.20" font-size="26.00" font-family="Liberation Sans, sans-serif" textLength="19.15" lengthAdjust="spacingAndGlyphs" >=</text>
<text x="1040.86" y="407.90" font-size="18.50" font-family="Liberation Sans, sans-serif" textLength="26.32" lengthAdjust="spacingAndGlyphs" >sat</text>
<text x="1028.47" y="404.70" font-size="28.00" font-family="Liberation Sans, sans-serif" stroke="#000" stroke-width="0.35" stroke-linejoin="round" textLength="11.68" lengthAdjust="spacingAndGlyphs" >T</text>
<text x="1073.86" y="404.70" font-size="26.00" font-family="Liberation Sans, sans-serif" textLength="19.15" lengthAdjust="spacingAndGlyphs" >=</text>
<text x="1028.49" y="436.20" font-size="28.00" font-family="Liberation Sans, sans-serif" stroke="#000" stroke-width="0.30" stroke-linejoin="round" textLength="36.10" lengthAdjust="spacingAndGlyphs" >Eff.</text>
<text x="1072.72" y="436.20" font-size="26.50" font-family="Liberation Sans, sans-serif" stroke="#000" stroke-width="1.00" stroke-linejoin="round" textLength="50.82" lengthAdjust="spacingAndGlyphs" >area</text>
<text x="1131.15" y="436.20" font-size="26.00" font-family="Liberation Sans, sans-serif" textLength="19.27" lengthAdjust="spacingAndGlyphs" >=</text>
<text x="1102.47" y="373.30" font-size="26.00" font-family="Liberation Sans, sans-serif" textLength="70.42" lengthAdjust="spacingAndGlyphs" >509.6</text>
<text x="1181.31" y="373.30" font-size="26.50" font-family="Liberation Sans, sans-serif" stroke="#000" stroke-width="1.00" stroke-linejoin="round" textLength="33.44" lengthAdjust="spacingAndGlyphs" >km</text>
<text x="1098.78" y="404.50" font-size="26.00" font-family="Liberation Sans, sans-serif" textLength="71.09" lengthAdjust="spacingAndGlyphs" >282.0</text>
<text x="1178.24" y="404.70" font-size="28.00" font-family="Liberation Sans, sans-serif" stroke="#000" stroke-width="0.35" stroke-linejoin="round" textLength="15.84" lengthAdjust="spacingAndGlyphs" >K</text>
<text x="1157.02" y="435.70" font-size="26.00" font-family="Liberation Sans, sans-serif" textLength="69.32" lengthAdjust="spacingAndGlyphs" >13.10</text>
<text x="1235.75" y="436.20" font-size="26.50" font-family="Liberation Sans, sans-serif" stroke="#000" stroke-width="1.00" stroke-linejoin="round" textLength="19.16" lengthAdjust="spacingAndGlyphs" >m</text>
<text x="1254.74" y="427.00" font-size="17.70" font-family="Liberation Sans, sans-serif" textLength="10.63" lengthAdjust="spacingAndGlyphs" >2</text>
<g transform="rotate(-90)">
<text x="-354.38" y="27.80" font-size="30.00" font-family="Liberation Sans, sans-serif" stroke="#000" stroke-width="0.80" stroke-linejoin="round" textLength="194.20" lengthAdjust="spacingAndGlyphs" >Flux (Jy arcsec</text>
<text x="-159.13" y="16.80" font-size="20.50" font-family="Liberation Sans, sans-serif" stroke="#000" stroke-width="0.41" stroke-linejoin="round" textLength="27.96" lengthAdjust="spacingAndGlyphs" >−2</text>
<text x="-126.96" y="27.80" font-size="30.00" font-family="Liberation Sans, sans-serif" stroke="#000" stroke-width="0.80" stroke-linejoin="round" textLength="7.10" lengthAdjust="spacingAndGlyphs" >)</text>
</g>
<text x="20.18" y="35.90" font-size="33.90" font-family="Liberation Sans, sans-serif" font-weight="bold" textLength="17.02" lengthAdjust="spacingAndGlyphs" >a</text>
<text x="694.81" y="35.90" font-size="33.00" font-family="Liberation Sans, sans-serif" font-weight="bold" textLength="20.56" lengthAdjust="spacingAndGlyphs" >b</text>
</svg>
</body></html>
